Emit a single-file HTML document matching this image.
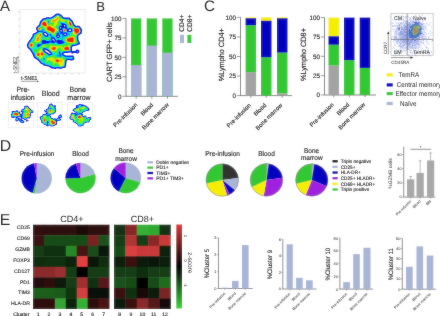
<!DOCTYPE html>
<html><head><meta charset="utf-8"><style>
html,body{margin:0;padding:0;background:#fff;width:440px;height:316px;overflow:hidden}
svg{display:block;will-change:transform}
text{font-family:"Liberation Sans", sans-serif;text-rendering:geometricPrecision}
.s{stroke:#000;stroke-width:0.14px;stroke-opacity:0.8}
.s2{stroke:#000;stroke-width:0.12px;stroke-opacity:0.8}
</style></head><body>
<svg width="440" height="316" viewBox="0 0 440 316">
<defs><filter id="bl" x="-1%" y="-1%" width="102%" height="102%"><feGaussianBlur stdDeviation="0.9"/></filter></defs>
<g id="all">
<rect width="440" height="316" fill="#fff"/>
<text x="0" y="10.8" font-size="15" text-anchor="start" fill="#111">A</text>
<rect x="20" y="9.5" width="65" height="63.5" fill="none" stroke="#dcdcdc" stroke-width="0.5"/>
<path fill="#0808e8" fill-rule="evenodd" d="M60.6 69.1 59.9 69.1 59.4 68.6 58.1 68.6 57.9 68.4 57.6 68.6 56.1 68.6 55.9 68.9 53.9 68.9 53.6 68.6 51.9 68.4 50.6 67.9 50.4 67.4 49.1 67.1 48.6 66.6 47.6 66.6 46.9 66.1 45.4 66.1 45.1 65.9 44.9 66.1 44.4 65.6 43.6 65.4 42.9 64.6 41.1 64.1 39.4 62.1 39.4 61.9 37.4 59.9 35.9 58.9 34.9 58.6 34.1 57.9 31.9 52.9 30.1 50.6 30.4 50.1 29.9 49.6 29.1 49.4 27.1 47.1 27.1 45.6 26.9 45.4 26.9 44.1 27.6 43.4 27.6 42.9 28.1 42.4 28.4 41.6 30.9 38.4 31.4 37.1 31.9 36.9 32.6 35.4 32.4 35.1 32.9 33.9 34.1 32.9 35.1 32.9 35.6 32.6 37.1 31.4 37.1 30.9 36.1 29.4 36.1 27.6 37.6 25.9 38.4 25.6 39.4 23.9 39.4 22.6 39.9 22.4 39.9 21.6 41.9 19.6 41.9 19.1 42.9 18.4 43.4 18.4 43.6 18.1 45.1 18.1 45.4 17.9 45.9 17.9 46.1 17.4 48.1 17.1 48.4 16.9 49.4 17.4 50.6 17.4 51.1 16.9 51.6 16.9 53.9 15.6 54.4 14.9 55.1 14.6 55.4 14.1 56.9 13.4 58.4 13.4 58.6 13.6 59.9 13.9 61.6 15.1 63.1 16.9 64.9 17.6 66.9 17.6 67.1 17.4 67.9 17.4 68.1 17.6 68.6 17.6 68.9 17.4 69.1 17.6 69.6 17.6 69.9 18.1 70.4 18.4 70.4 18.6 70.9 18.9 72.9 21.1 73.4 22.4 73.9 22.9 73.9 23.4 74.4 24.4 75.4 25.6 75.9 25.6 76.1 25.9 76.9 25.9 77.1 25.6 79.6 25.9 82.1 29.6 82.1 30.9 81.9 31.1 81.9 32.6 81.6 32.9 81.6 33.4 78.6 35.6 78.1 36.9 78.4 37.1 78.4 39.4 79.1 41.4 79.9 42.4 79.9 43.6 80.1 43.9 79.4 44.4 77.6 44.9 76.9 45.6 76.1 45.6 75.1 46.1 73.6 46.1 73.4 46.4 72.9 46.1 71.9 47.4 71.9 47.9 72.1 48.1 71.9 48.4 71.9 48.9 72.1 49.1 72.1 51.1 74.4 51.1 74.6 50.9 75.4 50.9 75.6 50.4 76.6 49.6 77.9 49.6 78.6 50.1 79.4 51.1 79.4 52.1 79.1 52.6 77.9 53.6 76.6 53.6 76.1 53.1 73.4 53.1 73.1 53.4 71.6 53.4 71.4 53.1 71.4 52.6 68.9 52.6 68.6 52.9 66.6 52.9 66.4 53.1 65.9 53.1 65.6 52.9 64.4 52.9 63.6 53.4 63.4 53.6 63.6 54.6 64.1 54.6 64.6 55.1 65.1 55.1 65.4 55.4 67.6 55.4 67.9 55.6 71.1 55.6 71.4 55.4 72.1 55.4 72.4 55.6 73.4 55.6 73.9 56.4 73.9 57.4 74.4 58.1 74.6 59.1 73.9 59.6 73.6 60.1 73.1 60.1 72.9 60.4 72.6 60.1 72.4 60.4 71.1 60.4 70.6 60.6 69.6 60.1 67.6 60.1 66.9 60.6 66.6 60.9 66.6 62.1 66.4 62.4 66.1 66.1 65.4 67.6 64.9 68.1 64.1 67.9 63.9 68.1 63.1 68.1 60.6 69.1ZM64.9 26.6 65.4 26.1 65.4 25.6 64.6 25.1 64.1 25.4 64.1 26.4 64.4 26.6 64.9 26.6ZM60.9 28.4 61.1 28.1 61.1 27.4 60.6 27.1 60.1 27.4 60.1 28.1 60.4 28.4 60.9 28.4ZM70.6 30.9 71.1 30.4 71.1 29.9 70.9 29.6 69.6 29.6 68.9 30.1 68.9 30.6 69.1 30.9 70.6 30.9ZM61.4 31.4 61.9 31.1 61.9 30.6 60.9 30.1 60.4 30.6 60.4 31.1 60.6 31.4 61.4 31.4ZM46.9 35.6 47.1 35.4 46.9 34.6 45.9 33.6 45.1 33.1 44.1 33.1 44.1 33.6 45.1 34.9 46.4 35.6 46.9 35.6ZM65.6 34.9 66.1 34.4 65.9 33.9 65.1 33.6 64.4 34.1 64.4 34.6 64.9 34.9 65.6 34.9ZM58.4 36.9 58.9 36.4 58.6 35.9 58.1 35.6 57.6 35.9 57.4 36.4 57.9 36.9 58.4 36.9ZM54.4 41.4 54.6 41.1 54.6 40.6 53.6 38.9 52.9 38.4 52.4 38.4 52.4 39.1 52.9 40.1 54.4 41.4ZM50.6 53.9 50.6 53.6 48.4 51.4 46.9 50.4 44.6 49.4 44.1 49.6 45.6 51.4 48.1 53.1 49.6 53.9 50.6 53.9Z"/>
<path fill="#004cff" fill-rule="evenodd" d="M60.4 67.9 59.6 67.6 57.9 67.3 55.4 67.8 54.4 67.8 52.4 67.3 49.0 65.6 45.1 64.8 43.4 63.7 41.8 63.1 38.1 59.1 35.2 57.4 32.8 52.4 31.7 50.9 31.3 49.6 30.6 48.8 29.4 48.1 28.2 46.6 28.0 44.9 29.4 42.1 32.8 37.4 33.6 35.8 33.8 34.6 34.6 34.0 35.4 33.9 36.1 33.6 37.4 32.7 38.4 31.4 39.4 31.8 40.4 31.6 40.4 31.2 39.9 31.0 38.4 31.1 37.2 28.9 37.2 28.1 37.9 27.1 39.3 26.1 40.3 24.4 41.0 22.1 42.7 20.4 43.1 19.6 44.1 19.2 45.4 19.2 47.6 18.2 49.4 18.5 51.0 18.4 54.4 16.6 56.1 15.1 57.4 14.5 59.4 14.9 61.0 16.1 62.4 17.7 63.7 18.4 64.9 18.7 68.9 18.7 71.8 21.6 73.4 24.9 74.6 26.4 75.9 26.9 77.1 26.9 77.6 26.7 79.1 27.1 81.0 30.1 80.5 32.9 77.8 34.9 77.1 36.6 77.3 39.6 78.8 43.1 77.1 43.9 76.4 44.5 74.6 45.0 72.6 45.1 71.8 45.6 70.8 47.1 71.1 51.4 70.9 51.5 68.9 51.5 66.1 51.9 64.1 51.8 62.9 52.6 62.3 53.4 62.3 54.4 62.7 55.1 64.1 56.1 65.1 56.4 67.1 56.5 67.9 56.7 72.6 56.7 73.3 58.6 72.9 59.1 71.9 59.3 67.6 59.0 66.4 59.7 65.6 60.6 65.0 65.6 64.6 66.6 60.4 67.9ZM62.4 33.4 62.9 32.9 62.7 32.4 62.4 32.1 62.9 31.4 62.9 30.4 62.4 29.6 61.7 29.1 62.4 28.0 65.6 28.7 66.3 29.4 67.0 31.4 67.4 31.5 67.9 31.2 68.9 31.9 70.6 32.0 71.4 31.7 72.2 30.6 72.1 29.4 71.1 28.6 69.6 28.5 67.9 29.4 66.3 26.9 66.4 25.4 65.6 24.3 64.9 24.0 63.9 24.3 63.0 23.4 61.6 23.3 61.4 23.6 62.1 25.1 61.9 26.5 60.6 26.0 59.6 26.4 59.1 27.1 59.0 28.1 59.3 28.9 60.0 29.4 59.3 30.4 59.4 31.6 60.1 32.3 61.3 32.6 61.1 33.1 61.4 33.4 62.4 33.4ZM47.3 36.6 48.2 35.6 48.2 34.9 47.7 33.9 46.6 32.8 45.4 32.1 43.9 32.1 43.4 32.3 43.1 32.9 43.1 33.9 43.8 35.1 45.9 36.6 47.3 36.6ZM66.0 35.9 67.1 34.9 67.1 33.6 66.6 33.1 65.6 32.6 64.9 32.6 64.1 32.9 63.3 33.9 63.4 35.1 64.6 35.9 66.0 35.9ZM58.8 37.9 59.8 36.9 59.9 36.1 59.4 35.1 58.0 34.4 58.4 33.9 58.4 33.4 57.9 33.0 57.4 33.0 56.8 33.4 56.8 33.9 57.1 34.3 57.7 34.6 56.4 35.6 56.3 36.6 57.4 37.8 58.8 37.9ZM53.4 42.9 53.9 42.5 54.9 42.3 55.4 41.9 55.7 41.4 55.7 40.4 54.1 37.8 53.1 37.3 52.1 37.3 51.6 37.5 51.4 38.0 51.3 39.4 52.6 41.6 51.6 41.8 51.3 42.1 52.1 42.9 52.9 43.0 53.4 42.9ZM60.1 44.1 63.1 43.1 63.7 42.6 63.7 42.1 61.9 40.4 60.1 40.2 58.6 39.6 57.6 39.8 56.7 40.9 56.5 41.9 58.1 43.9 59.1 44.3 60.1 44.1ZM44.9 43.9 46.4 43.4 48.4 43.4 49.5 42.4 49.7 41.6 48.9 41.1 46.9 40.9 45.1 40.3 42.1 40.5 41.8 41.4 42.0 43.9 43.9 44.0 44.9 43.9ZM38.2 46.9 39.7 46.1 40.8 44.9 38.6 44.2 38.1 44.3 37.4 45.1 37.1 46.1 37.4 46.7 38.2 46.9ZM51.0 54.9 51.7 54.1 51.6 53.1 49.1 50.6 47.4 49.4 44.9 48.3 44.0 48.4 43.3 48.9 43.1 49.4 43.2 50.1 43.6 50.9 44.9 52.2 47.6 54.1 49.1 54.8 51.0 54.9ZM77.6 52.4 77.1 52.5 75.8 51.9 76.8 50.9 77.4 50.7 77.9 50.9 78.3 51.6 77.6 52.4ZM60.1 53.9 60.1 52.6 59.4 51.6 59.0 52.1 59.1 53.2 59.6 53.9 60.1 53.9Z"/>
<path fill="#0084ff" fill-rule="evenodd" d="M60.9 67.5 60.4 67.6 57.9 67.0 54.4 67.5 51.6 66.8 51.1 66.3 50.1 66.0 49.1 65.4 45.1 64.5 43.4 63.4 41.9 62.9 40.4 61.0 38.3 58.9 35.4 57.1 33.0 52.1 31.7 50.4 31.5 49.4 30.6 48.5 29.6 48.0 28.5 46.6 28.2 44.9 29.8 42.1 33.0 37.6 33.9 35.9 34.0 34.9 34.6 34.3 36.4 33.7 38.4 31.9 39.6 32.1 41.4 31.9 42.4 32.1 42.6 31.9 42.6 31.4 42.4 31.2 41.4 31.2 40.1 30.8 38.6 30.8 37.5 28.9 37.5 28.4 38.1 27.3 39.5 26.4 40.6 24.4 41.3 22.1 42.9 20.5 43.2 19.9 44.1 19.5 45.6 19.4 47.6 18.5 49.4 18.7 51.1 18.6 54.6 16.7 56.4 15.2 57.6 14.7 59.4 15.3 60.9 16.4 62.4 18.0 63.6 18.6 64.9 19.0 68.9 19.0 71.5 21.6 73.3 25.1 74.5 26.6 75.9 27.2 77.6 27.0 78.9 27.2 80.8 30.4 80.3 32.6 77.6 34.7 76.8 36.6 77.0 39.6 77.6 41.4 78.5 42.9 78.4 43.1 76.9 43.8 76.4 44.2 74.6 44.8 72.6 44.8 71.6 45.5 70.5 47.1 70.5 48.9 70.8 49.9 70.6 51.3 66.1 51.6 64.1 51.5 62.7 52.4 62.0 53.4 62.0 54.4 62.5 55.4 64.1 56.4 65.1 56.7 67.1 56.7 67.9 57.0 72.4 57.0 73.0 58.6 71.9 59.0 70.9 59.0 69.6 58.8 67.4 58.8 66.1 59.5 65.3 60.6 64.8 65.6 64.4 66.4 60.9 67.5ZM48.8 22.4 48.7 21.6 48.1 21.6 48.1 22.4 48.6 22.6 48.8 22.4ZM66.1 36.1 67.4 34.9 67.4 33.6 66.6 32.8 65.6 32.3 64.9 32.3 63.5 32.9 63.0 32.1 63.1 30.1 62.1 29.1 62.4 28.6 62.6 28.4 63.9 28.4 65.4 28.7 66.3 29.6 66.9 31.7 67.4 31.9 67.9 31.6 69.1 32.2 70.9 32.2 71.5 31.9 72.4 30.9 72.4 29.4 71.6 28.5 70.9 28.3 69.4 28.3 67.9 29.1 66.6 27.1 66.7 25.4 65.8 24.1 65.1 23.8 64.1 23.8 63.1 23.1 61.4 22.9 60.9 23.4 61.6 24.9 61.6 25.9 60.1 25.9 59.2 26.4 58.8 27.1 58.9 28.6 59.5 29.4 59.0 30.4 59.1 31.6 60.9 33.6 62.1 34.2 62.9 33.9 63.1 35.1 63.6 35.7 64.6 36.2 66.1 36.1ZM47.4 36.9 48.1 36.3 48.5 35.6 48.4 34.6 47.9 33.7 45.6 31.9 43.9 31.8 43.2 32.1 42.8 32.9 42.8 33.9 43.6 35.3 45.9 36.9 47.4 36.9ZM58.9 38.1 60.0 37.1 60.2 36.1 59.6 35.0 58.6 34.4 58.8 33.1 58.1 32.7 57.4 32.7 56.5 33.4 56.5 34.1 56.9 34.6 56.1 35.6 56.0 36.6 56.4 37.3 57.4 38.1 58.9 38.1ZM51.3 35.4 51.3 34.6 50.9 34.1 50.4 33.9 49.9 34.1 49.7 34.6 50.1 35.1 51.1 35.6 51.3 35.4ZM37.9 47.1 39.4 46.6 42.1 44.4 44.6 44.1 46.4 43.5 48.4 43.6 50.1 42.2 50.6 42.3 51.9 43.1 52.9 43.4 55.1 42.5 55.9 41.6 57.9 44.0 59.4 44.4 63.2 43.4 64.1 42.9 64.5 42.4 62.1 40.2 60.1 40.1 58.4 39.5 57.2 39.9 56.1 41.4 55.9 40.1 54.6 38.0 53.4 37.1 52.4 37.0 51.6 36.4 51.4 36.4 51.0 37.4 51.0 39.1 51.9 41.2 50.9 40.9 49.9 41.1 46.9 40.7 45.1 40.1 42.1 40.2 41.6 40.9 41.7 42.9 41.3 43.9 40.1 44.4 38.1 43.9 37.4 44.8 37.0 45.6 36.9 46.4 37.2 46.9 37.9 47.1ZM51.1 55.1 51.9 54.4 51.9 53.1 49.1 50.3 47.4 49.1 44.9 48.0 43.9 48.1 43.0 48.9 42.8 49.6 43.1 50.6 44.9 52.5 47.4 54.2 49.1 55.1 51.1 55.1ZM77.4 52.3 76.5 51.6 77.1 51.0 77.6 51.1 78.0 51.6 77.4 52.3ZM61.0 56.6 61.1 55.9 60.3 52.6 59.9 51.6 59.1 51.2 58.8 51.6 58.8 52.6 59.0 53.6 59.8 54.9 59.7 56.1 60.4 56.8 61.0 56.6ZM44.2 59.1 44.1 58.9 43.8 58.9 43.9 59.2 44.2 59.1Z"/>
<path fill="#00b4fb" fill-rule="evenodd" d="M60.9 67.2 60.4 67.3 57.9 66.8 54.6 67.3 51.9 66.5 51.1 65.9 50.1 65.7 49.1 65.1 45.1 64.2 44.2 63.6 44.1 63.1 43.9 63.3 42.1 62.7 38.4 58.6 35.6 57.0 34.6 54.6 34.9 53.9 34.8 53.4 33.6 52.7 32.2 50.6 31.6 49.1 29.2 47.1 28.7 46.4 28.6 44.9 29.9 42.4 30.9 41.2 31.4 41.0 31.2 40.6 33.3 37.6 34.2 35.9 34.4 34.9 34.9 34.5 36.4 34.1 38.6 32.2 41.1 32.2 42.5 32.6 42.6 34.1 43.3 35.4 44.1 36.2 45.8 37.1 47.4 37.2 48.4 36.4 48.7 35.6 48.7 34.6 48.2 33.6 46.9 32.4 45.4 31.5 43.3 31.6 43.4 29.3 42.9 29.2 42.1 30.3 41.6 30.6 38.9 30.5 37.9 29.1 37.8 28.1 38.4 27.4 39.7 26.6 40.8 24.6 41.6 22.2 43.6 20.0 45.6 19.7 47.9 18.7 49.4 19.0 51.1 18.9 54.6 17.1 56.6 15.4 57.6 15.0 59.1 15.4 60.6 16.6 62.1 18.2 63.6 18.9 64.6 19.2 67.6 19.2 68.8 19.4 71.3 21.9 72.9 25.1 74.3 26.9 75.9 27.5 77.6 27.3 78.6 27.5 79.1 27.9 80.4 30.4 80.0 32.6 77.4 34.6 76.5 36.6 76.8 39.9 77.4 41.6 78.2 42.9 76.1 44.0 74.4 44.5 72.4 44.6 71.4 45.3 70.3 47.1 70.3 49.1 70.5 49.9 70.4 51.0 63.9 51.3 62.6 52.1 61.8 53.1 61.8 54.4 62.2 55.4 62.6 55.9 63.9 56.6 65.1 57.0 66.9 57.0 67.9 57.2 71.9 57.2 72.3 57.4 72.6 58.4 71.6 58.8 67.4 58.5 65.9 59.3 65.1 60.4 64.5 65.4 64.2 66.1 60.9 67.2ZM48.9 22.9 49.1 21.6 48.9 21.3 48.4 21.1 47.8 21.6 47.8 22.4 48.4 23.0 48.9 22.9ZM59.0 38.4 60.1 37.4 60.5 36.6 60.1 35.1 59.0 34.1 59.6 33.5 61.2 34.1 62.3 35.1 62.4 35.9 62.0 37.4 62.4 38.1 63.1 37.4 63.4 36.1 64.6 36.5 66.1 36.4 66.9 35.9 67.7 34.9 67.6 33.5 66.6 32.4 65.1 32.0 63.6 32.5 63.3 32.1 63.5 30.4 62.6 29.0 62.7 28.6 64.4 28.5 65.4 28.8 66.2 29.6 66.9 32.1 67.4 32.3 67.9 32.0 69.1 32.5 71.1 32.4 72.4 31.4 72.7 30.4 72.4 28.9 71.6 28.2 70.9 28.0 69.1 28.1 67.9 28.8 66.8 27.1 67.0 26.4 66.9 25.1 65.9 23.9 64.4 23.5 63.4 22.9 61.6 22.6 60.6 22.7 60.4 23.1 61.3 25.4 59.4 25.9 58.8 26.4 58.5 27.1 58.6 28.6 59.1 29.4 58.8 30.4 58.8 31.4 59.6 32.6 59.4 32.9 57.6 32.4 56.6 32.8 56.2 33.6 56.5 34.6 55.8 35.9 55.9 37.1 56.9 38.2 57.6 38.5 59.0 38.4ZM38.8 47.1 42.4 44.5 44.6 44.2 46.4 43.7 48.4 43.8 50.1 42.6 50.6 42.7 52.4 43.6 53.1 43.6 55.9 42.3 56.6 42.7 57.7 44.1 59.4 44.6 63.6 43.5 64.6 42.8 64.9 42.1 63.4 41.1 62.1 39.8 60.4 40.0 58.1 39.3 57.3 39.6 56.4 40.6 54.9 37.8 54.1 37.2 52.5 36.6 51.3 34.1 50.6 33.6 50.1 33.6 49.6 33.9 49.3 34.6 49.5 35.1 50.5 35.9 50.7 36.4 50.6 39.4 50.1 40.3 49.4 40.7 47.4 40.6 45.4 40.0 42.1 39.9 41.4 40.9 41.5 42.9 41.1 43.6 40.6 44.0 39.9 44.1 38.1 43.5 37.6 43.9 36.8 45.4 36.6 46.4 37.1 47.1 37.9 47.4 38.8 47.1ZM69.4 34.6 69.6 34.4 69.4 34.1 68.9 33.8 68.4 33.9 68.3 34.4 68.5 34.6 69.4 34.6ZM42.5 37.6 42.6 37.4 42.4 37.2 41.9 37.6 42.1 37.8 42.5 37.6ZM49.0 55.6 51.1 55.4 51.9 54.9 52.3 54.1 51.9 52.6 49.4 50.1 47.6 48.9 44.9 47.8 44.1 47.8 43.4 48.1 42.5 49.4 42.6 50.1 43.1 51.1 44.6 52.7 48.0 54.9 48.4 55.7 49.0 55.6ZM61.2 56.9 61.4 56.1 61.2 54.1 60.0 51.4 59.4 50.8 58.9 50.7 58.6 51.1 58.5 51.9 59.1 55.1 58.6 55.6 56.9 55.3 56.6 55.6 56.6 56.0 57.4 56.4 58.9 56.2 60.4 57.1 61.2 56.9ZM77.4 51.9 76.9 51.6 77.1 51.3 77.7 51.6 77.4 51.9ZM44.6 60.1 44.8 59.4 44.6 58.8 44.1 58.2 43.6 58.1 43.2 58.6 43.4 59.4 44.1 60.3 44.6 60.1Z"/>
<path fill="#00dcf4" fill-rule="evenodd" d="M60.9 67.0 60.4 67.1 57.9 66.5 54.6 67.0 51.9 66.3 51.1 65.7 50.1 65.5 49.1 64.9 44.9 63.9 44.7 63.6 44.8 62.9 44.4 62.2 43.6 62.9 42.4 62.6 38.6 58.5 35.7 56.6 34.9 54.9 35.3 53.9 35.2 53.1 33.7 52.4 32.3 50.4 31.9 49.1 29.5 47.1 29.0 46.4 28.8 44.9 30.9 41.5 32.1 41.1 32.1 40.8 31.7 40.4 33.5 37.6 34.4 35.9 34.5 35.1 34.9 34.7 36.6 34.2 38.6 32.4 40.9 32.4 42.1 32.7 42.3 32.9 42.4 34.1 43.1 35.4 44.1 36.4 45.9 37.4 47.1 37.4 47.9 37.1 48.7 36.4 49.1 35.0 50.4 36.4 50.4 38.9 49.9 40.1 49.1 40.5 47.1 40.5 45.4 39.9 43.6 40.0 42.4 39.6 41.9 39.8 41.3 40.9 41.3 42.9 40.8 43.6 39.9 43.9 38.1 43.3 37.6 43.6 36.4 46.1 36.5 46.9 37.1 47.4 37.9 47.6 39.1 47.2 42.6 44.6 44.6 44.3 46.4 43.8 48.4 43.9 50.1 42.8 53.1 43.9 55.9 42.6 56.6 43.0 57.6 44.3 59.4 44.7 63.4 43.8 64.9 42.9 65.2 42.4 65.0 41.9 63.4 40.8 62.5 39.1 63.4 37.9 63.7 36.6 63.9 36.4 64.6 36.7 66.1 36.6 66.9 36.2 67.9 34.9 68.4 35.1 70.0 34.9 70.2 34.6 70.0 34.1 68.6 33.3 67.9 33.6 67.3 32.6 68.1 32.4 69.1 32.7 71.4 32.5 72.6 31.4 73.0 30.4 72.7 28.9 71.6 28.0 69.4 27.8 67.9 28.5 67.6 28.4 66.9 27.1 67.2 26.1 67.0 24.9 65.6 23.5 63.0 22.6 60.9 22.4 59.9 22.6 61.0 25.1 59.1 25.8 58.4 26.9 58.3 28.4 58.8 29.6 58.5 30.6 58.8 32.1 58.6 32.3 57.1 32.3 56.4 32.8 56.1 33.4 56.3 34.6 55.6 35.6 55.6 36.9 56.1 37.7 57.4 38.6 59.1 38.5 60.5 37.1 60.7 36.4 60.5 35.6 59.4 34.0 59.9 33.8 60.4 33.9 61.8 34.9 62.0 35.6 61.7 37.6 62.0 39.1 60.6 39.8 58.1 39.2 56.4 40.1 55.7 38.6 54.6 37.3 52.6 36.4 51.7 34.4 51.0 33.6 49.9 33.4 48.9 34.6 48.2 33.4 46.1 31.6 45.4 31.3 43.6 31.3 43.8 29.4 43.4 28.7 42.6 28.9 41.4 30.3 39.4 30.5 38.9 30.4 38.0 28.6 38.2 27.9 39.9 26.6 41.0 24.6 41.7 22.4 43.6 20.2 45.6 19.9 47.9 19.0 49.4 19.2 51.1 19.1 54.9 17.2 56.6 15.7 57.6 15.2 58.9 15.5 59.8 16.1 62.1 18.4 63.4 19.0 64.6 19.4 68.6 19.5 71.1 22.0 72.8 25.4 74.1 27.0 75.9 27.7 77.6 27.5 78.6 27.7 80.2 30.4 79.9 32.4 77.3 34.4 76.3 36.6 76.6 39.9 77.8 42.6 76.1 43.8 74.4 44.3 72.4 44.4 71.3 45.1 70.3 46.4 70.1 47.1 70.1 49.1 70.3 49.9 70.1 50.8 63.9 51.1 62.0 52.4 61.4 54.0 59.9 51.0 59.1 50.4 58.5 50.6 58.4 51.4 58.7 54.6 58.4 55.0 56.5 55.1 56.2 55.6 56.5 56.4 57.1 56.7 58.9 56.5 60.1 57.2 60.9 57.2 61.5 56.6 61.6 54.7 62.6 56.1 64.9 57.1 65.4 57.9 66.8 58.4 65.3 59.6 64.9 60.4 64.1 65.9 60.9 67.0ZM49.1 23.1 49.3 22.4 49.2 21.4 48.9 21.0 48.4 20.9 47.6 21.6 47.6 22.3 48.4 23.2 49.1 23.1ZM63.9 32.2 63.5 32.1 63.6 30.1 62.8 28.9 63.9 28.6 65.1 28.7 65.7 29.1 66.2 29.9 66.5 31.9 66.4 32.1 64.9 31.8 63.9 32.2ZM58.9 32.4 58.9 32.3 58.9 32.4ZM42.4 38.1 43.0 37.4 43.1 36.9 42.4 36.9 41.6 37.4 41.9 38.1 42.4 38.1ZM49.2 55.9 51.6 55.4 53.5 53.9 53.7 53.4 52.6 53.4 52.0 52.4 49.6 50.0 47.6 48.7 44.9 47.6 43.3 47.9 42.6 48.6 42.3 49.4 42.4 50.1 42.9 51.2 44.6 52.9 47.6 54.9 48.1 55.9 48.6 56.1 49.2 55.9ZM33.9 48.6 34.4 48.1 34.4 47.8 33.9 47.9 33.4 48.6 33.9 48.6ZM77.4 51.7 77.2 51.6 77.4 51.5 77.4 51.7ZM71.9 58.5 70.6 58.6 69.9 58.3 67.6 58.2 66.7 57.4 71.9 57.4 72.2 58.1 71.9 58.5ZM44.6 60.9 45.0 59.9 44.9 58.9 44.4 58.0 43.6 57.8 43.1 58.4 43.0 59.1 44.1 60.9 44.4 61.1 44.6 60.9ZM50.1 63.1 49.8 62.6 49.4 62.6 49.2 62.9 49.6 63.3 50.1 63.1Z"/>
<path fill="#04f0d8" fill-rule="evenodd" d="M61.1 66.7 60.4 66.9 57.9 66.4 54.6 66.9 52.1 66.2 51.4 65.6 50.4 65.4 49.1 64.7 45.4 63.9 45.1 63.6 44.8 61.6 45.2 59.1 44.8 58.1 44.1 57.4 43.2 57.9 42.8 58.9 43.8 61.1 43.9 61.9 43.4 62.7 42.4 62.3 38.7 58.4 35.9 56.6 35.2 55.1 35.6 53.4 35.5 52.9 33.9 52.2 32.5 50.4 32.0 48.9 29.6 47.0 29.1 46.1 29.0 44.9 30.9 41.9 32.5 41.1 32.6 40.6 32.1 40.1 32.9 38.9 33.8 38.9 33.7 37.9 34.5 36.1 34.7 35.1 36.7 34.4 38.8 32.6 40.4 32.5 42.1 32.9 42.2 34.4 43.5 36.1 41.4 37.4 41.4 37.9 41.9 38.5 42.4 38.5 43.9 36.5 45.9 37.6 47.2 37.6 48.2 37.1 48.9 36.4 49.1 35.7 49.4 35.6 50.2 36.6 50.1 39.1 49.5 40.1 48.4 40.4 47.1 40.4 45.4 39.7 43.6 39.8 42.1 39.3 41.3 40.6 41.1 42.9 40.6 43.5 39.9 43.7 38.1 43.1 37.4 43.6 36.1 46.4 36.3 47.1 37.1 47.7 38.1 47.7 39.4 47.2 42.6 44.7 46.4 43.9 48.4 44.1 50.1 43.0 53.1 44.1 55.9 42.8 56.4 43.1 57.2 44.4 59.4 44.8 63.4 43.9 65.1 42.9 65.4 42.4 65.3 41.9 63.6 40.7 63.1 39.6 63.8 37.9 63.9 36.9 65.9 36.9 66.9 36.5 67.4 36.6 68.4 35.6 70.6 34.9 70.6 34.4 68.9 33.1 69.1 32.9 71.0 32.9 71.7 32.6 72.9 31.4 73.1 30.4 72.9 28.8 71.6 27.7 69.3 27.6 67.6 28.2 67.1 27.4 67.4 26.4 67.3 24.9 65.9 23.4 63.4 22.6 60.1 22.1 59.3 22.4 59.4 22.9 60.8 24.9 59.1 25.6 58.4 26.3 58.1 28.1 58.6 29.6 58.4 30.4 58.5 31.9 57.1 32.1 56.2 32.9 55.9 33.6 56.0 34.6 55.4 35.8 55.4 36.9 55.8 37.6 56.8 38.6 58.0 39.1 57.4 39.3 56.6 40.0 54.7 37.1 52.7 36.1 51.9 34.4 51.1 33.6 49.9 33.2 48.9 34.1 48.5 33.4 47.2 32.1 46.2 31.4 45.5 31.1 44.1 31.1 43.9 30.9 44.0 29.1 43.6 28.4 42.6 28.6 41.1 30.1 39.4 30.4 39.1 30.4 38.1 28.6 38.5 27.9 40.0 26.9 41.3 24.6 42.0 22.4 43.8 20.4 45.6 20.1 47.9 19.1 49.4 19.4 51.4 19.3 54.9 17.4 57.6 15.4 58.6 15.6 59.6 16.3 61.9 18.5 63.4 19.3 64.6 19.6 68.6 19.7 71.0 22.1 72.6 25.4 74.0 27.1 75.8 27.9 77.6 27.8 78.6 28.0 80.0 30.4 79.6 32.3 77.1 34.3 76.2 36.4 76.4 39.9 77.5 42.6 76.1 43.5 74.4 44.1 72.1 44.2 71.1 45.0 69.9 46.9 69.9 49.1 70.1 50.4 69.9 50.6 63.9 50.9 62.3 51.9 61.6 52.6 61.4 53.3 61.1 53.3 59.9 50.7 58.9 50.1 58.3 50.4 58.4 54.4 58.1 54.6 56.6 54.7 56.1 55.0 56.0 55.9 56.4 56.6 57.1 56.9 58.9 56.8 60.9 57.4 61.6 56.9 61.9 55.7 62.6 56.4 64.6 57.3 65.1 58.2 66.2 58.6 65.1 59.5 64.7 60.4 64.1 65.4 63.9 65.8 61.1 66.7ZM49.2 23.4 49.5 22.6 49.4 21.3 48.9 20.7 48.4 20.7 47.6 21.4 47.5 22.4 48.4 23.4 48.9 23.6 49.2 23.4ZM63.9 32.0 63.8 30.1 63.0 28.9 63.9 28.6 65.1 28.8 66.2 29.9 66.3 31.6 64.8 31.6 63.9 32.0ZM68.6 32.9 68.8 32.9 68.6 32.9ZM60.6 39.6 58.4 39.1 59.7 38.4 60.8 36.9 60.8 35.6 60.2 34.6 59.7 34.1 59.9 34.1 61.3 34.6 61.8 35.6 61.4 37.6 61.5 38.9 61.2 39.4 60.6 39.6ZM33.5 49.1 34.8 48.4 35.1 47.6 34.9 47.1 34.1 47.2 32.9 48.4 32.8 48.9 33.5 49.1ZM48.7 56.4 49.6 55.9 51.7 55.6 54.4 53.7 54.5 52.9 53.9 52.7 52.6 53.1 52.1 52.3 49.6 49.8 46.1 47.7 44.6 47.4 43.3 47.6 42.5 48.4 42.2 49.1 42.2 50.1 42.6 51.2 44.4 53.0 47.5 55.1 47.9 56.1 48.7 56.4ZM45.2 56.1 45.1 55.8 44.8 56.1 44.9 56.3 45.2 56.1ZM71.9 58.2 70.6 58.4 70.0 58.1 68.1 58.1 67.7 57.9 68.1 57.7 71.6 57.6 71.9 57.7 71.9 58.2ZM50.1 63.6 50.6 63.1 50.4 62.6 49.6 62.2 49.1 62.4 48.8 62.9 48.9 63.4 49.4 63.7 50.1 63.6Z"/>
<path fill="#0cf0a8" fill-rule="evenodd" d="M60.6 66.7 57.9 66.2 54.6 66.7 52.1 66.1 51.2 65.4 50.4 65.2 49.4 64.6 48.4 64.5 47.6 64.1 46.1 64.0 45.4 63.6 45.1 61.6 45.5 59.4 44.8 57.4 45.9 56.1 45.8 55.6 45.4 55.4 44.6 55.6 42.7 58.4 42.6 59.3 43.5 60.9 43.6 61.6 43.3 62.4 42.6 62.3 38.7 58.1 35.9 56.4 35.5 55.4 35.9 52.9 35.4 52.4 33.9 52.0 32.5 49.9 32.6 49.3 33.4 49.4 34.7 48.9 35.4 48.4 35.9 47.6 37.4 48.0 39.4 47.5 42.6 44.8 46.4 44.0 48.4 44.3 50.1 43.2 50.9 43.3 52.4 44.2 53.1 44.3 55.9 43.1 56.3 43.4 56.6 44.4 56.9 44.6 59.4 45.0 63.6 44.1 65.4 42.9 65.6 42.4 65.4 41.7 63.8 40.6 63.5 39.9 63.6 39.1 64.2 38.1 64.2 37.1 67.4 37.0 68.9 35.6 70.9 35.1 71.0 34.4 69.2 33.1 70.9 33.0 71.9 32.7 72.9 31.6 73.3 30.4 72.9 28.6 71.6 27.5 69.4 27.5 67.9 28.1 67.6 28.0 67.3 27.4 67.5 26.1 67.4 24.9 66.9 24.1 65.8 23.1 63.9 22.5 60.1 21.9 59.4 21.9 59.0 22.1 59.0 22.9 60.1 24.0 60.6 24.9 58.9 25.6 58.0 26.6 58.0 28.4 58.4 29.6 58.3 31.6 58.1 31.8 56.9 32.1 56.0 32.9 55.7 33.6 55.8 34.6 55.2 35.9 55.3 37.1 55.1 37.3 54.3 36.6 52.9 36.1 51.9 34.1 50.9 33.3 49.9 33.0 48.9 33.7 47.4 32.1 46.4 31.3 44.1 30.9 44.2 29.1 43.9 28.3 43.4 28.1 42.6 28.3 41.0 29.9 39.4 30.3 38.3 28.6 38.6 27.9 40.2 26.9 41.4 24.7 42.0 22.6 43.9 20.5 46.0 20.1 47.9 19.3 49.4 19.5 51.5 19.4 55.1 17.4 57.6 15.5 58.6 15.8 59.6 16.4 61.8 18.6 63.3 19.4 64.6 19.7 67.6 19.7 68.6 19.9 70.8 22.1 72.6 25.6 74.1 27.4 75.9 28.0 78.4 28.0 79.8 30.4 79.6 32.1 76.9 34.3 76.1 36.1 76.3 40.1 77.3 42.6 75.9 43.5 74.4 44.0 72.1 44.1 70.9 45.1 69.8 46.6 69.9 50.5 63.5 50.9 62.3 51.6 61.1 53.0 60.4 51.1 59.4 50.0 58.6 49.7 58.1 50.2 58.1 54.1 57.6 54.4 55.9 54.6 55.7 55.6 56.1 56.7 56.9 57.0 58.9 57.0 60.9 57.5 61.6 57.1 61.9 56.3 62.1 56.2 64.4 57.4 64.6 58.2 65.5 58.9 64.6 60.1 63.8 65.6 60.6 66.7ZM49.3 23.6 49.6 22.9 49.6 21.4 49.2 20.6 48.6 20.4 47.5 21.1 47.3 22.1 47.6 22.9 48.4 23.7 48.9 23.8 49.3 23.6ZM64.1 31.7 63.9 29.7 63.2 28.9 63.6 28.7 65.4 29.0 66.0 29.6 66.3 30.4 66.1 31.6 65.1 31.5 64.1 31.7ZM32.1 48.8 29.7 46.9 29.3 46.1 29.2 44.9 30.4 42.6 31.1 41.9 32.7 41.4 33.4 40.1 34.1 39.4 34.4 38.6 34.0 37.4 34.7 36.1 34.8 35.4 35.1 35.0 36.0 34.9 36.9 34.4 38.9 32.8 40.6 32.6 41.8 32.9 42.0 33.1 42.1 34.5 43.1 35.9 43.0 36.1 41.2 37.4 41.2 37.9 41.8 39.1 41.1 40.9 40.7 43.1 39.9 43.5 38.4 42.9 37.6 43.0 35.6 46.3 34.4 46.7 32.1 48.8ZM60.4 34.5 60.4 34.3 60.6 34.4 60.4 34.5ZM60.6 39.4 59.0 39.1 60.4 37.9 61.0 37.1 60.9 35.6 60.4 34.6 60.6 34.4 61.4 35.1 61.6 35.9 61.2 38.9 60.6 39.4ZM48.9 40.2 47.1 40.2 45.4 39.6 43.6 39.7 42.8 39.4 42.5 38.9 44.1 36.9 45.6 37.7 47.1 37.8 48.2 37.4 49.4 35.9 49.9 36.6 49.9 38.6 49.6 39.7 48.9 40.2ZM55.4 37.5 55.4 37.3 55.4 37.5ZM55.6 38.0 55.6 37.7 55.6 38.0ZM55.9 38.3 55.7 38.1 55.9 37.9 56.1 38.1 55.9 38.3ZM56.6 39.7 55.9 38.4 56.1 38.2 57.5 39.1 56.6 39.7ZM49.4 56.4 49.9 56.1 51.5 55.9 54.6 54.1 55.0 53.6 54.8 52.6 54.1 52.3 52.6 52.7 49.7 49.6 46.3 47.6 44.6 47.2 43.1 47.6 42.3 48.4 42.0 49.4 42.1 50.5 42.6 51.4 44.3 53.1 47.2 55.1 47.4 55.9 47.7 56.4 48.4 56.6 49.4 56.4ZM32.4 49.2 32.4 49.2ZM71.6 58.2 68.1 57.9 71.6 57.7 71.8 57.9 71.6 58.2ZM50.1 63.9 50.9 63.5 50.9 62.9 49.9 62.0 49.1 62.0 48.6 62.6 48.5 63.4 49.1 63.9 50.1 63.9ZM57.0 65.4 57.3 64.9 57.1 64.5 56.6 64.3 56.4 64.5 56.4 65.0 56.6 65.4 57.0 65.4Z"/>
<path fill="#18ec78" fill-rule="evenodd" d="M54.9 66.6 52.1 66.0 51.4 65.4 50.1 65.0 49.4 64.5 45.7 63.6 45.3 61.9 45.6 59.4 45.3 57.6 46.6 55.9 45.7 55.1 45.1 55.1 44.4 55.5 42.5 58.4 42.4 59.4 43.4 61.4 43.1 62.3 42.6 62.2 38.7 58.1 36.0 56.4 35.7 55.4 36.1 52.6 35.6 52.2 33.9 51.8 32.8 50.4 32.6 49.6 33.4 49.7 35.1 49.0 36.4 48.9 37.3 48.4 39.1 47.8 39.9 47.4 42.4 45.1 46.1 44.2 48.4 44.5 49.9 43.5 50.4 43.3 52.4 44.4 53.1 44.6 55.6 43.5 55.9 43.6 55.9 44.6 56.1 44.9 59.6 45.1 63.6 44.3 65.6 42.9 65.8 42.4 65.5 41.6 64.2 40.6 63.8 39.9 63.9 39.3 64.8 38.1 64.7 37.4 66.1 37.1 66.6 37.3 67.4 37.2 69.0 35.9 71.1 35.3 71.4 34.9 71.3 34.4 69.9 33.4 72.1 32.6 73.1 31.4 73.4 30.4 73.2 28.9 71.9 27.5 69.6 27.3 67.7 27.9 67.5 27.4 67.7 25.6 67.5 24.6 65.9 23.1 64.1 22.4 59.9 21.6 58.9 21.9 58.6 22.4 58.8 22.9 60.0 24.1 60.3 24.9 59.1 25.4 57.4 26.9 58.3 29.6 58.2 31.6 56.9 31.9 55.8 32.9 55.7 34.6 55.1 35.9 55.1 37.2 54.4 36.6 53.1 36.1 52.0 34.1 50.9 33.1 49.9 32.9 48.9 33.5 47.3 31.9 46.2 31.1 44.6 30.8 44.4 30.6 44.3 28.6 43.9 28.0 43.1 27.9 42.1 28.3 40.9 29.7 39.6 30.2 39.2 30.1 38.4 28.6 38.6 28.0 40.2 26.9 41.4 24.9 42.1 22.6 44.1 20.5 46.1 20.1 47.9 19.4 50.6 19.6 51.6 19.4 54.9 17.6 57.6 15.6 58.6 15.9 59.6 16.5 61.8 18.6 63.1 19.4 64.9 19.9 67.6 19.8 68.6 20.0 70.7 22.1 72.4 25.4 74.0 27.4 75.9 28.1 77.6 28.0 78.4 28.1 79.8 30.4 79.5 32.1 76.9 34.3 75.9 36.6 76.2 39.6 77.1 42.6 75.9 43.4 74.9 43.7 71.9 44.1 70.9 45.0 69.9 46.4 69.7 47.1 69.9 50.4 63.6 50.8 62.3 51.6 61.1 52.7 60.2 50.6 59.1 49.4 58.6 49.3 58.1 49.7 57.8 50.4 58.1 53.6 57.7 54.1 57.1 54.2 55.7 53.9 55.1 52.5 54.6 52.1 52.6 52.5 49.8 49.6 47.6 48.1 47.4 47.8 44.9 47.1 44.1 47.1 42.9 47.6 42.1 48.6 41.9 49.9 42.4 51.2 44.2 53.1 46.7 54.9 46.9 55.1 46.7 55.9 47.6 56.7 49.1 56.7 50.1 56.2 51.6 55.9 53.9 54.7 54.9 54.5 55.3 54.9 55.9 56.8 56.4 57.2 58.6 57.1 60.2 57.6 61.1 57.6 61.8 57.1 62.1 56.3 64.2 57.4 64.4 58.4 65.2 59.1 64.6 59.9 64.4 60.6 63.7 65.6 60.6 66.6 57.9 66.1 54.9 66.6ZM49.4 23.9 49.8 22.9 49.7 21.4 49.4 20.4 48.9 20.1 47.6 20.9 47.2 21.4 47.2 22.1 47.6 23.1 48.4 23.9 48.9 24.1 49.4 23.9ZM66.1 31.5 64.1 31.4 64.0 29.9 63.4 28.9 65.1 28.9 65.6 29.2 66.2 30.4 66.1 31.5ZM32.1 48.5 29.8 46.9 29.4 46.1 29.3 44.9 30.5 42.6 31.1 42.0 32.8 41.6 34.4 39.5 34.6 38.6 34.4 37.1 34.9 35.4 36.6 34.6 38.9 33.0 40.6 32.7 41.6 33.0 42.1 34.6 42.9 35.9 41.1 37.4 41.5 39.1 40.6 42.9 39.9 43.3 38.4 42.7 37.5 42.9 35.9 45.4 34.4 46.2 32.1 48.5ZM60.6 34.7 60.6 34.7ZM61.4 36.2 60.8 35.1 60.9 34.8 61.3 35.4 61.4 36.2ZM48.4 40.1 47.1 40.1 45.6 39.4 43.6 39.6 42.9 39.1 42.9 38.6 44.4 37.1 45.6 37.8 47.1 37.9 48.3 37.4 49.4 36.2 49.8 37.1 49.6 39.1 49.1 39.9 48.4 40.1ZM61.1 37.1 61.1 36.7 61.1 37.1ZM60.6 39.2 60.1 39.3 59.3 39.1 60.9 37.5 61.0 38.6 60.6 39.2ZM55.9 38.2 55.9 38.2ZM56.1 38.5 56.1 38.3 56.1 38.5ZM56.6 39.5 56.3 38.9 56.4 38.6 57.2 39.1 56.6 39.5ZM34.9 44.1 34.8 43.9 34.9 44.1ZM71.4 58.1 70.9 58.2 70.4 57.9 68.4 57.9 71.6 57.8 71.6 58.1 71.4 58.1ZM50.0 64.1 51.1 63.7 51.3 62.9 49.9 61.8 49.1 61.7 48.3 62.6 48.1 63.6 48.6 64.1 50.0 64.1ZM57.3 65.6 57.7 65.1 57.6 64.6 57.1 64.1 56.4 63.9 56.0 64.4 56.1 65.6 56.6 65.8 57.3 65.6Z"/>
<path fill="#28e448" fill-rule="evenodd" d="M42.6 62.1 38.9 58.1 36.1 56.4 35.9 54.6 36.6 52.1 33.6 51.3 32.9 50.4 32.9 50.0 33.4 50.0 34.9 49.4 36.6 49.6 37.8 48.6 39.6 48.1 41.9 45.6 42.9 45.0 46.4 44.3 48.6 44.8 50.1 43.6 50.9 43.7 52.6 44.9 54.6 44.6 56.1 45.4 57.6 45.1 59.9 45.2 63.9 44.5 65.6 43.4 66.0 42.9 65.7 41.6 64.2 40.1 64.4 39.4 65.9 37.9 67.6 37.4 69.4 36.0 71.5 35.4 71.7 34.9 71.5 34.1 70.3 33.4 71.9 32.9 72.9 31.9 73.4 30.9 73.5 29.6 73.1 28.6 72.1 27.6 72.3 26.9 69.4 27.2 67.9 27.7 67.6 26.9 68.2 25.6 68.1 24.7 67.4 24.4 65.9 23.0 64.6 22.3 62.1 22.0 59.6 21.3 58.6 21.7 58.4 22.6 58.6 23.2 60.1 24.6 60.0 24.9 58.1 25.9 57.2 26.1 56.9 26.6 56.9 27.4 57.6 27.9 58.2 29.6 58.0 31.1 57.9 31.4 56.4 31.9 55.7 32.6 54.9 36.8 53.5 36.1 52.0 33.9 50.9 32.9 49.9 32.6 48.9 33.1 48.6 33.0 46.4 31.1 44.7 30.6 44.6 28.4 44.1 27.7 43.4 27.6 41.6 28.0 40.7 29.6 39.4 30.2 38.4 28.4 40.6 26.6 42.2 22.6 44.1 20.5 45.6 20.4 47.6 19.5 48.3 19.6 47.2 21.1 47.0 22.1 48.1 24.0 48.6 24.4 49.1 24.5 49.6 24.1 50.0 23.1 49.9 19.9 51.6 19.4 53.6 18.4 57.6 15.7 58.6 15.9 59.6 16.6 61.6 18.6 63.1 19.4 64.6 19.9 68.4 19.9 70.6 22.1 72.8 26.1 73.9 27.4 75.7 28.1 78.4 28.2 79.7 30.4 79.5 32.1 76.9 34.1 75.9 36.4 76.1 39.6 77.0 42.6 75.9 43.3 74.4 43.8 72.9 43.7 71.9 43.9 70.9 44.9 69.6 46.9 69.6 49.1 69.8 50.1 69.6 50.3 63.9 50.6 62.1 51.6 61.4 52.5 60.6 50.9 59.4 49.1 58.9 48.8 58.4 49.0 57.6 50.1 58.0 52.9 57.7 53.6 57.4 53.9 56.1 53.6 54.9 51.8 53.9 51.8 52.6 52.3 49.9 49.6 48.1 48.4 48.0 47.4 47.7 47.1 46.6 47.5 44.6 47.0 43.1 47.4 42.3 48.1 41.9 48.9 41.8 49.9 42.0 50.6 42.6 51.6 44.1 53.1 46.1 54.6 45.1 54.8 44.4 55.3 42.3 58.4 42.1 59.4 43.0 61.4 42.9 62.0 42.6 62.1ZM64.4 31.4 64.1 30.0 63.7 29.1 63.9 28.9 65.1 29.0 66.0 29.9 66.1 31.2 64.4 31.4ZM32.1 48.2 31.9 48.3 29.9 46.9 29.4 46.1 29.4 44.9 30.9 42.4 31.1 42.1 33.1 41.8 34.7 39.6 35.3 36.4 34.9 36.0 35.0 35.4 36.8 34.6 38.4 33.4 40.4 32.9 41.6 33.1 42.0 34.6 42.7 35.9 40.9 37.4 41.3 39.4 40.4 42.6 39.9 42.9 38.4 42.5 37.6 42.6 36.9 43.1 36.1 44.2 35.9 44.2 35.3 43.4 34.4 43.1 34.1 43.6 34.3 45.6 33.1 47.4 32.1 48.2ZM60.9 35.1 60.9 35.1ZM61.1 35.7 61.1 35.7ZM48.4 39.9 47.1 39.9 45.6 39.0 43.6 39.4 43.2 39.1 43.2 38.6 43.9 37.8 44.6 37.5 45.9 38.1 47.5 37.9 49.2 36.6 49.5 37.4 49.4 38.9 49.0 39.6 48.4 39.9ZM60.4 39.0 59.9 39.1 59.6 38.9 60.6 38.0 60.6 38.6 60.4 39.0ZM56.6 39.3 56.4 38.8 56.9 39.1 56.6 39.3ZM67.4 44.9 68.5 43.9 68.2 43.4 67.3 43.4 66.6 43.9 66.4 44.9 66.9 45.1 67.4 44.9ZM61.1 66.4 60.4 66.6 57.5 65.9 58.0 65.4 57.9 64.6 57.2 63.9 56.4 63.5 55.8 63.9 55.5 65.4 55.1 66.0 54.1 66.1 52.6 65.8 52.1 65.9 51.4 65.2 49.8 64.6 49.9 64.4 51.4 64.2 51.8 63.1 51.6 62.6 49.6 61.3 49.1 61.3 48.6 61.7 47.4 63.8 46.3 63.6 45.5 61.9 45.9 59.6 45.8 57.6 46.6 57.0 49.4 56.9 54.4 54.9 55.1 55.4 55.6 57.1 56.1 57.5 58.6 57.3 60.9 57.8 61.9 57.5 62.2 56.6 63.1 56.9 63.9 57.4 64.1 58.6 64.9 59.4 64.4 60.4 63.8 65.4 63.6 65.6 61.1 66.4ZM71.6 57.9 71.6 57.9ZM57.4 66.1 57.2 66.1 57.4 66.1Z"/>
<path fill="#48e424" fill-rule="evenodd" d="M54.6 36.0 54.1 36.1 53.6 35.8 52.3 33.9 50.9 32.8 49.6 32.4 48.6 32.8 46.4 31.0 45.0 30.6 44.6 27.8 43.9 27.4 42.1 27.3 41.6 26.9 41.1 25.9 41.7 23.9 42.2 22.6 44.1 20.6 45.6 20.4 47.8 19.6 46.9 21.1 46.9 22.1 48.1 24.3 48.6 24.8 49.1 24.8 49.8 24.4 50.2 23.6 50.2 20.9 50.5 19.9 53.9 18.4 57.6 15.8 58.6 16.0 59.4 16.6 59.9 17.5 60.4 17.6 61.9 18.9 63.1 19.5 64.6 20.0 68.4 20.0 69.4 20.9 70.7 22.4 72.6 26.1 71.4 26.8 69.4 26.9 68.4 27.4 68.1 27.4 68.1 27.1 68.7 26.1 68.4 24.4 67.9 23.9 66.9 23.6 65.9 22.3 62.1 21.9 59.6 21.0 58.5 21.4 58.1 22.1 58.2 22.9 58.4 23.4 59.6 24.4 59.7 24.9 58.4 25.6 57.1 25.6 56.5 26.4 56.3 27.1 56.5 27.6 56.9 28.0 57.6 28.2 58.2 29.6 57.9 31.1 56.6 31.5 55.6 32.4 55.3 33.4 55.1 35.1 54.6 36.0ZM53.1 23.9 53.2 23.6 53.1 23.2 52.6 23.1 52.3 23.4 52.4 24.0 53.1 23.9ZM42.4 61.7 38.4 57.4 36.6 56.6 36.3 56.1 36.1 54.4 36.4 53.4 37.3 52.1 37.3 51.6 36.6 51.3 34.6 51.4 33.7 50.9 33.5 50.6 33.7 50.4 34.9 49.7 36.6 50.3 38.1 49.1 39.6 48.9 41.9 45.9 42.9 45.2 46.4 44.5 47.1 44.7 48.6 45.6 49.6 44.2 50.4 43.8 51.1 44.1 52.6 45.3 54.4 45.0 56.1 45.7 57.9 45.3 59.6 45.4 61.6 45.1 63.6 45.1 65.4 44.0 65.7 44.1 65.8 45.1 66.0 45.4 67.4 45.3 68.9 44.1 69.1 43.4 68.4 43.0 66.6 42.9 64.7 39.9 66.2 38.1 68.0 37.4 69.4 36.3 71.1 35.9 71.9 35.4 72.1 34.9 71.9 34.1 71.0 33.4 71.9 33.0 72.9 32.1 73.5 30.6 73.4 29.0 72.4 27.6 72.9 26.9 73.1 26.8 74.1 27.6 75.6 28.2 77.6 28.1 78.5 28.4 79.6 30.4 79.5 31.9 76.8 34.1 75.8 36.6 76.0 39.9 76.9 42.1 76.9 42.6 75.9 43.2 74.4 43.7 72.6 43.6 71.5 43.9 69.6 46.7 69.6 50.3 67.6 50.5 63.9 50.6 62.9 51.0 61.4 52.2 59.6 48.6 58.9 48.4 58.1 48.8 57.5 49.6 57.3 50.6 57.7 52.9 57.4 53.5 56.9 53.5 56.2 53.1 55.1 51.6 54.4 51.5 52.6 52.1 52.4 51.9 49.9 49.5 48.3 48.4 48.8 46.6 48.6 46.0 46.4 47.3 44.1 47.0 42.7 47.6 41.8 48.9 41.9 50.5 42.6 51.8 45.4 54.4 43.8 55.6 41.7 58.9 41.6 59.6 42.5 61.1 42.4 61.7ZM40.1 29.9 39.4 30.1 38.5 28.6 38.7 28.1 40.1 27.2 40.8 27.9 41.0 28.6 40.7 29.4 40.1 29.9ZM65.9 31.2 64.4 31.3 63.9 29.0 65.1 29.1 65.6 29.4 66.1 30.4 65.9 31.2ZM32.1 47.9 31.6 48.0 29.9 46.8 29.5 46.1 29.4 44.9 30.9 42.4 33.1 42.2 33.6 42.0 35.0 39.4 35.2 37.6 35.9 36.4 35.7 35.9 35.1 35.4 39.6 33.2 40.6 33.0 41.6 33.3 41.9 34.5 42.5 35.6 40.7 37.4 41.1 39.4 40.1 42.3 39.6 42.6 37.8 42.4 36.1 43.3 34.1 42.6 33.8 43.1 34.0 45.1 33.8 45.9 33.1 47.1 32.1 47.9ZM48.4 39.7 47.1 39.6 46.5 39.1 46.5 38.6 46.8 38.1 48.1 37.7 48.9 37.1 49.1 37.2 49.1 38.6 48.9 39.3 48.4 39.7ZM44.1 39.2 43.5 38.9 43.6 38.4 44.1 38.1 44.8 38.1 45.0 38.6 44.1 39.2ZM60.4 38.4 60.4 38.4ZM60.1 38.7 60.1 38.7ZM60.9 66.4 58.9 66.2 58.0 65.9 58.3 65.4 58.2 64.6 57.2 63.6 56.1 63.2 55.5 63.6 54.9 65.5 54.1 65.7 53.4 65.5 52.2 64.6 52.1 62.6 49.4 60.9 48.6 61.3 47.4 62.8 46.6 63.1 46.1 62.6 45.8 61.6 46.1 57.9 46.9 57.4 49.7 57.1 52.4 56.2 54.1 55.3 54.9 55.7 55.3 57.6 55.6 57.8 58.4 57.5 61.1 58.0 62.1 57.6 62.5 56.9 63.4 57.1 63.8 58.9 64.6 59.6 64.0 62.1 63.7 65.4 60.9 66.4ZM50.9 64.9 50.3 64.9 50.9 64.9ZM51.1 65.1 51.1 65.0 51.3 65.1 51.1 65.1Z"/>
<path fill="#78ec0c" fill-rule="evenodd" d="M54.4 35.3 53.6 35.2 52.4 33.6 50.4 32.2 49.6 32.0 48.1 32.1 46.6 31.0 45.7 30.6 45.3 29.6 45.0 27.6 44.4 27.2 42.6 26.7 41.4 25.4 42.3 22.6 44.1 20.7 45.9 20.5 46.9 20.1 47.1 20.1 46.6 21.1 46.6 22.1 48.3 25.1 48.9 25.3 49.6 25.1 50.9 24.2 52.1 24.9 52.9 24.8 53.9 23.9 53.9 23.1 53.1 22.6 51.1 22.9 50.5 21.6 50.7 20.4 51.1 19.9 53.9 18.5 57.6 15.8 58.9 16.4 59.4 17.8 60.1 19.1 61.1 18.4 63.2 19.6 65.6 20.1 65.7 20.6 65.1 21.5 63.9 21.8 61.9 21.6 59.9 20.4 58.9 20.7 58.1 21.2 57.8 22.1 57.9 23.4 59.1 24.9 58.6 25.0 57.6 24.8 56.9 25.0 56.0 26.1 55.7 27.1 56.4 28.2 57.6 28.6 58.0 29.6 57.8 30.6 57.6 31.0 56.4 31.2 55.6 31.9 55.1 32.9 54.7 34.9 54.4 35.3ZM71.6 26.4 70.4 26.6 69.4 26.1 68.4 23.7 67.1 22.1 67.0 21.4 67.4 20.6 68.4 20.1 70.6 22.3 72.4 25.9 71.6 26.4ZM74.4 43.6 74.3 43.4 73.9 43.2 70.9 43.4 68.9 42.7 66.9 42.5 65.3 40.1 65.7 39.1 66.6 38.2 69.6 36.6 71.4 36.2 72.8 35.4 72.1 33.1 73.2 31.9 73.6 30.9 73.6 29.1 72.7 27.9 73.1 27.1 73.4 27.1 74.1 27.7 75.6 28.3 78.4 28.3 79.5 30.4 79.4 31.9 76.7 34.1 75.7 36.1 75.6 37.0 74.9 35.1 73.9 35.0 73.0 35.4 75.1 37.1 75.8 41.1 75.4 42.9 75.8 43.1 74.4 43.6ZM39.6 29.9 39.4 29.9 38.6 28.4 40.1 27.5 40.6 28.1 40.7 28.9 40.4 29.5 39.6 29.9ZM65.9 31.1 64.6 31.1 64.1 29.3 65.1 29.2 65.4 29.4 65.9 30.1 65.9 31.1ZM36.4 42.7 35.1 42.4 34.4 41.6 34.6 40.9 35.4 39.4 35.6 37.6 36.6 36.1 36.1 35.1 37.6 34.2 38.4 34.1 39.9 33.3 41.4 33.4 42.4 35.6 40.5 37.1 40.8 39.4 40.1 41.6 39.6 42.1 37.9 42.1 36.4 42.7ZM47.9 39.2 47.4 38.9 47.4 38.6 47.8 38.1 48.4 37.9 48.4 38.7 47.9 39.2ZM32.1 47.6 31.6 47.9 30.4 47.2 29.6 46.1 29.5 44.9 30.9 42.6 32.9 42.7 33.4 43.6 33.6 44.9 33.4 45.9 32.9 47.0 32.1 47.6ZM57.1 53.0 56.4 52.7 55.4 51.2 54.4 51.2 52.4 51.7 50.1 49.5 48.5 48.4 49.6 46.9 49.7 45.1 50.1 44.4 50.7 44.4 51.9 45.5 52.6 45.7 54.4 45.5 56.4 46.1 57.9 45.6 61.6 45.6 62.3 45.9 62.9 46.8 63.4 47.0 65.1 46.0 67.9 45.6 69.9 44.1 70.7 44.4 70.8 44.6 69.5 46.9 69.6 50.2 66.1 50.5 63.1 50.4 62.6 51.1 61.6 51.7 60.3 48.1 59.9 47.9 59.1 47.9 57.9 48.5 57.1 49.6 56.9 50.6 57.4 52.4 57.1 53.0ZM40.4 59.1 39.4 58.4 38.9 57.0 37.4 56.7 36.6 56.2 36.2 55.1 36.4 53.9 36.9 53.1 38.0 52.1 38.1 50.4 39.9 49.7 41.6 47.4 42.4 45.8 43.4 45.3 46.6 45.0 47.1 45.4 47.2 45.9 45.9 47.1 44.9 46.8 43.4 47.0 42.4 47.7 41.8 48.6 41.6 49.9 42.2 51.4 44.9 54.1 43.1 56.1 41.6 58.3 40.4 59.1ZM60.6 66.4 58.8 66.1 58.6 65.9 58.9 65.1 58.5 64.4 57.3 63.4 56.1 62.9 55.6 62.8 55.2 63.1 54.7 64.6 54.4 65.0 53.4 64.9 52.7 64.1 52.6 62.1 51.1 61.6 49.4 60.4 48.6 60.6 47.4 62.1 46.6 62.3 46.2 61.4 46.6 58.1 47.4 57.7 49.6 57.6 52.4 57.0 54.1 55.9 54.6 56.4 54.4 57.9 54.9 58.4 55.6 58.4 57.9 57.8 60.4 58.2 62.6 58.1 63.4 59.4 64.2 60.1 63.7 65.4 60.6 66.4Z"/>
<path fill="#acf000" fill-rule="evenodd" d="M54.1 34.5 53.6 34.4 50.4 31.9 48.1 31.6 46.1 30.3 45.6 29.5 45.4 27.4 43.1 26.5 41.6 25.2 41.9 23.9 42.4 22.6 44.1 20.8 45.6 20.7 46.0 20.9 46.5 22.4 48.0 25.4 49.1 25.6 51.1 25.2 52.6 26.2 54.3 24.1 54.5 23.1 54.2 22.6 53.6 22.3 51.9 22.3 51.2 22.1 50.9 21.4 51.1 20.4 51.9 19.6 53.7 18.9 54.6 18.1 56.1 17.5 57.3 16.1 58.4 16.1 58.6 16.4 59.2 18.4 59.2 19.6 57.6 21.1 57.2 23.9 55.4 26.2 54.4 27.1 56.4 28.9 57.6 29.1 57.9 29.6 57.6 30.7 56.4 30.7 55.4 31.6 54.1 34.5ZM64.4 21.4 62.9 21.6 61.5 21.1 61.0 20.6 60.9 20.1 61.3 19.1 61.6 18.9 64.9 20.2 65.0 20.9 64.4 21.4ZM70.9 26.4 70.1 26.3 69.5 25.9 68.6 23.6 67.6 22.1 67.6 21.1 68.4 20.4 69.1 20.9 70.6 22.4 72.2 25.6 71.6 26.2 70.9 26.4ZM75.9 35.7 75.1 34.8 73.4 34.5 72.8 33.9 72.8 32.6 73.5 31.6 73.8 30.6 73.7 29.1 72.9 27.9 73.4 27.2 74.3 27.9 75.6 28.3 77.6 28.3 78.4 28.5 79.4 30.4 79.3 31.9 76.8 33.9 75.9 35.7ZM39.9 29.7 39.4 29.8 38.7 28.6 38.9 28.2 39.9 27.6 40.2 27.9 40.5 28.6 40.4 29.3 39.9 29.7ZM65.6 31.0 64.6 31.0 64.3 29.4 65.1 29.3 65.6 29.6 65.9 30.6 65.6 31.0ZM36.9 42.1 35.6 42.2 35.1 41.9 34.9 41.4 35.6 39.6 35.9 37.6 37.2 36.1 37.4 35.1 37.6 34.9 40.1 33.5 41.4 33.6 42.1 35.6 40.2 37.1 40.5 39.4 39.9 41.4 39.4 41.8 36.9 42.1ZM73.1 42.9 71.4 43.0 67.1 42.2 66.6 41.8 65.8 40.4 65.9 39.4 66.8 38.4 69.6 37.0 72.4 36.1 73.1 36.1 74.2 36.9 74.7 37.6 74.8 39.9 75.2 41.4 74.6 42.4 73.1 42.9ZM31.9 47.5 31.4 47.6 30.4 47.1 29.7 46.1 29.6 44.9 30.9 42.7 32.6 43.0 33.2 44.1 33.3 45.1 33.1 46.1 32.6 46.9 31.9 47.5ZM53.1 51.2 52.1 51.3 50.1 49.4 49.1 48.6 49.0 48.4 50.1 47.1 50.6 45.8 50.9 45.7 52.6 46.1 54.6 45.9 56.4 46.5 58.1 45.9 59.9 46.2 61.1 46.1 61.7 46.4 62.3 47.6 62.9 47.9 65.4 46.2 68.4 46.0 69.6 44.9 70.4 45.0 69.5 46.4 69.4 48.9 69.6 49.9 69.4 50.1 67.6 50.4 64.1 50.4 63.1 49.4 61.9 49.7 61.1 47.6 59.9 47.1 57.6 48.1 56.1 50.6 53.1 51.2ZM43.4 46.9 43.0 46.9 42.7 46.4 43.1 45.8 45.4 45.6 45.8 45.9 45.4 46.6 43.4 46.9ZM40.6 58.4 39.9 58.1 39.7 57.6 39.8 56.6 39.6 56.4 37.9 56.6 36.9 56.1 36.5 55.4 36.4 54.6 36.9 53.4 38.9 52.1 39.1 51.9 39.1 51.1 39.9 50.6 40.9 48.9 41.6 48.4 41.5 49.9 42.0 51.4 43.9 53.4 44.6 53.9 41.6 57.8 40.6 58.4ZM61.1 66.2 59.6 66.1 59.4 65.9 59.5 65.1 59.1 64.4 57.4 63.1 55.9 62.5 54.9 62.7 54.1 64.2 53.6 64.3 53.3 63.9 53.4 62.1 53.1 61.0 51.4 61.3 49.9 60.1 49.1 59.9 48.4 60.2 47.4 61.2 46.9 61.2 46.9 58.6 47.6 58.1 52.6 57.6 53.4 57.8 54.0 58.6 54.6 58.9 57.9 58.1 62.1 58.6 64.1 60.6 63.6 65.1 63.4 65.5 61.1 66.2Z"/>
<path fill="#e3f000" fill-rule="evenodd" d="M54.4 26.1 53.9 25.9 53.9 25.6 54.9 23.9 54.8 22.6 53.9 22.0 51.6 21.9 51.2 21.4 51.3 20.6 52.3 19.6 55.9 18.1 57.9 16.2 58.4 16.6 58.6 17.3 58.9 18.6 58.8 19.4 57.3 20.9 57.0 22.9 56.6 23.6 55.1 25.8 54.4 26.1ZM63.6 21.4 62.6 21.4 61.6 20.9 61.3 20.1 61.7 19.4 61.9 19.2 64.6 20.4 64.4 21.0 63.6 21.4ZM71.1 26.2 70.1 26.1 69.4 25.4 68.7 23.1 67.9 21.9 68.0 21.1 68.5 20.6 69.1 21.0 70.5 22.4 72.0 25.4 72.1 25.6 71.1 26.2ZM53.9 33.8 52.4 33.1 50.1 31.5 48.4 31.3 46.6 30.3 45.9 29.4 45.9 27.6 45.6 27.1 43.4 26.4 41.9 25.1 42.0 23.9 42.5 22.6 44.1 20.9 45.1 21.0 45.8 21.4 47.9 25.7 48.9 25.9 50.9 25.7 52.8 27.4 55.1 28.2 56.4 29.7 57.6 29.3 57.6 30.3 56.4 30.0 56.1 30.2 53.9 33.8ZM75.9 35.3 75.4 34.6 73.6 34.2 73.2 33.9 73.3 32.4 73.9 30.4 73.8 29.1 73.1 27.9 73.4 27.5 75.6 28.4 78.1 28.4 79.4 30.4 79.2 31.9 76.7 33.9 75.9 35.3ZM39.6 29.7 39.0 29.1 38.8 28.4 39.9 27.7 40.3 28.1 40.4 28.9 40.2 29.4 39.6 29.7ZM65.6 30.9 64.9 30.9 64.6 30.6 64.5 29.6 64.6 29.4 65.1 29.4 65.6 29.8 65.8 30.6 65.6 30.9ZM36.9 41.9 35.9 41.9 35.3 41.4 35.9 39.4 36.1 37.6 37.6 36.4 38.4 35.1 39.4 34.1 40.4 33.6 41.1 33.7 42.0 35.4 41.7 35.9 40.4 36.6 40.0 37.1 40.2 39.4 39.8 40.9 39.1 41.5 36.9 41.9ZM73.4 42.6 71.6 42.9 67.1 42.0 66.2 40.6 66.2 39.4 66.9 38.5 69.4 37.3 72.4 36.4 73.1 36.5 73.9 36.9 74.4 37.6 74.4 39.9 74.8 41.1 74.4 42.1 73.4 42.6ZM31.6 47.4 31.1 47.4 30.3 46.9 30.0 46.4 29.7 45.1 30.9 42.9 32.4 43.2 32.8 43.6 33.1 44.4 33.1 45.4 32.8 46.4 32.4 46.9 31.6 47.4ZM53.1 50.9 51.9 50.9 49.3 48.6 51.1 46.4 54.4 46.1 56.9 47.0 58.1 46.4 58.8 46.6 57.4 47.6 55.9 50.0 54.6 50.6 53.1 50.9ZM68.1 50.2 66.1 50.3 64.4 50.2 63.5 48.9 63.5 48.4 64.4 47.1 65.6 46.4 67.4 46.3 69.3 46.6 69.3 49.1 69.5 49.9 68.1 50.2ZM41.4 49.3 41.2 49.1 41.4 49.0 41.4 49.3ZM41.1 57.7 40.6 57.8 40.4 57.6 40.8 56.4 40.5 55.6 38.6 56.3 37.6 56.3 36.9 55.9 36.5 54.9 36.7 53.9 37.6 53.0 38.6 52.6 39.9 52.9 40.4 52.7 40.6 52.1 40.5 50.6 41.1 49.2 42.0 51.6 44.3 53.9 43.6 55.0 41.1 57.7ZM51.9 60.9 51.1 60.8 49.4 59.4 47.4 60.0 47.3 58.9 48.1 58.4 51.4 58.0 52.6 58.2 53.1 58.6 53.3 59.4 51.9 60.9ZM61.6 65.9 60.6 66.1 59.5 64.1 57.8 63.1 55.9 62.2 54.2 62.1 53.9 61.4 53.7 59.6 57.6 58.4 59.4 58.7 61.4 58.8 62.1 59.1 63.9 60.9 63.9 61.6 63.6 62.9 63.4 65.4 61.6 65.9Z"/>
<path fill="#ffd800" fill-rule="evenodd" d="M56.1 23.0 55.6 22.9 54.4 21.8 51.9 21.6 51.5 20.9 52.4 19.8 55.6 18.8 57.4 17.0 57.9 16.8 58.5 17.9 58.6 19.1 58.2 19.6 56.9 20.6 56.6 22.4 56.1 23.0ZM63.6 21.1 62.9 21.2 62.1 20.9 61.7 20.4 61.9 19.6 62.1 19.4 64.0 20.1 64.2 20.6 63.6 21.1ZM71.4 25.9 70.4 26.0 69.6 25.4 68.3 21.9 68.3 21.4 68.6 20.8 69.1 21.1 70.5 22.6 71.9 25.4 71.4 25.9ZM53.9 33.2 53.4 33.3 52.4 32.9 50.1 31.2 48.4 31.1 47.6 30.7 46.3 29.4 46.1 27.1 45.6 26.8 43.4 26.1 41.9 24.9 42.1 23.9 42.6 22.6 44.1 21.1 45.1 21.3 45.9 22.0 47.0 24.1 47.6 25.9 50.6 26.1 52.6 27.6 55.1 28.6 55.5 29.4 55.5 30.1 53.9 33.2ZM76.1 34.7 75.4 34.1 73.9 33.9 73.6 33.6 73.8 32.4 73.6 31.9 74.0 29.9 73.8 28.9 73.3 27.9 73.6 27.6 75.6 28.5 78.1 28.5 79.3 30.4 79.2 31.9 76.9 33.6 76.1 34.7ZM39.9 29.5 39.4 29.5 38.8 28.6 38.9 28.4 39.9 27.9 40.3 28.6 39.9 29.5ZM65.6 30.8 64.7 30.6 64.6 29.5 65.4 29.6 65.7 30.4 65.6 30.8ZM36.9 41.6 36.1 41.6 35.7 41.1 36.2 39.6 36.4 37.7 38.1 36.4 39.6 34.2 40.4 33.8 41.1 33.9 41.8 35.4 41.4 35.9 39.8 36.9 39.9 39.1 39.5 40.9 38.9 41.3 36.9 41.6ZM72.6 42.6 71.4 42.6 67.1 41.7 66.3 40.4 66.5 39.1 67.4 38.4 69.6 37.5 72.6 36.7 73.4 36.9 74.2 37.9 74.1 39.9 74.4 41.4 73.9 42.1 72.6 42.6ZM31.6 47.2 30.4 46.9 29.9 45.1 30.2 44.1 30.9 43.1 32.2 43.4 32.9 44.4 32.7 46.1 32.2 46.9 31.6 47.2ZM52.6 50.6 51.6 50.4 49.8 48.9 50.0 48.4 51.1 47.0 54.4 46.3 55.3 46.6 56.5 47.4 56.7 47.9 56.6 48.4 55.6 49.8 54.4 50.4 52.6 50.6ZM67.9 50.2 64.5 50.1 63.9 48.6 64.3 47.6 65.1 46.8 66.1 46.5 67.6 46.5 69.1 47.1 69.4 49.9 67.9 50.2ZM41.9 56.1 40.4 55.1 38.9 56.0 37.6 56.2 36.9 55.6 36.7 54.9 36.9 53.9 37.6 53.2 38.6 52.9 40.1 53.3 40.6 52.9 41.1 51.9 40.9 50.6 41.1 49.8 42.1 51.9 44.1 53.9 43.4 55.1 41.9 56.1ZM51.6 60.5 51.1 60.4 50.6 59.9 50.2 59.4 50.1 58.9 51.4 58.4 52.4 58.8 52.4 59.6 51.6 60.5ZM62.4 64.9 61.1 65.0 59.6 63.2 58.1 63.0 54.6 61.5 54.3 60.6 54.4 59.9 57.4 58.7 59.4 59.2 60.6 59.0 61.6 59.1 62.2 59.6 63.1 61.4 62.3 63.1 63.0 64.6 62.4 64.9Z"/>
<path fill="#ffa800" fill-rule="evenodd" d="M55.9 21.9 54.4 21.4 52.2 21.4 51.9 21.1 52.0 20.6 52.4 20.1 53.1 19.8 55.9 19.6 57.1 17.6 57.9 17.3 58.3 18.1 58.3 18.9 57.6 19.6 56.2 19.9 56.1 21.6 55.9 21.9ZM63.4 20.9 62.3 20.6 62.1 20.1 62.4 19.7 63.8 20.1 63.8 20.6 63.4 20.9ZM71.1 25.9 70.4 25.8 69.6 25.1 68.6 21.9 68.9 21.0 70.4 22.5 71.3 24.1 71.8 25.4 71.1 25.9ZM53.6 32.9 52.9 32.9 52.1 32.6 50.1 31.0 48.6 30.9 47.6 30.4 46.5 29.1 46.6 26.9 46.4 26.6 43.9 26.2 42.1 24.8 42.1 24.1 42.5 22.9 43.6 21.7 44.1 21.4 44.6 21.5 45.7 22.1 46.8 24.1 47.1 26.2 50.4 26.3 52.4 27.8 54.9 28.9 55.2 29.6 55.1 30.4 54.3 32.1 53.6 32.9ZM76.1 34.3 75.4 33.7 74.3 33.4 74.3 32.4 74.0 31.6 74.1 29.6 73.5 28.1 73.6 27.8 75.6 28.5 78.1 28.6 79.2 30.4 79.1 31.9 76.1 34.3ZM39.6 29.5 38.9 28.6 39.0 28.4 39.9 28.0 40.2 28.9 39.6 29.5ZM65.6 30.7 64.8 30.6 64.8 29.6 65.4 29.7 65.6 30.7ZM37.9 41.1 36.9 41.3 36.2 41.1 36.2 40.6 36.6 39.4 36.6 37.9 37.1 37.4 38.9 36.4 39.2 35.1 39.7 34.4 40.4 34.0 41.1 34.1 41.6 35.4 41.1 35.9 39.4 36.6 39.5 38.6 39.2 40.4 38.8 40.9 37.9 41.1ZM72.9 42.4 71.6 42.5 67.4 41.6 66.6 40.6 66.6 39.4 67.3 38.6 69.1 37.8 72.6 37.0 73.1 37.0 73.9 37.9 73.8 39.9 74.0 41.1 73.7 41.9 72.9 42.4ZM31.6 47.0 30.9 46.9 30.5 46.6 30.0 44.9 30.6 43.4 30.9 43.3 32.1 43.6 32.7 44.6 32.5 46.1 31.6 47.0ZM54.4 50.2 53.1 50.3 51.9 50.0 50.7 48.9 50.6 48.4 50.9 47.9 51.6 47.2 53.9 46.6 54.6 46.6 55.4 46.9 56.2 47.6 56.2 48.4 55.6 49.4 54.4 50.2ZM67.6 50.2 64.8 50.1 64.3 49.1 64.2 48.4 65.0 47.1 65.9 46.7 66.9 46.6 68.1 46.9 69.1 47.4 69.3 49.9 67.6 50.2ZM38.6 55.9 37.6 56.0 37.1 55.6 36.8 54.9 37.0 53.9 37.6 53.3 38.4 53.1 39.1 53.2 40.1 53.8 40.4 53.7 41.4 52.1 41.6 51.3 41.7 51.6 43.9 53.9 43.4 54.9 42.4 55.7 41.6 55.7 40.4 54.6 38.6 55.9ZM51.6 59.7 51.1 59.7 51.0 59.1 51.4 59.0 51.7 59.1 51.6 59.7ZM58.6 62.6 57.4 62.5 55.2 61.4 54.8 60.9 54.8 60.1 55.4 59.6 57.1 59.0 58.4 59.3 59.3 60.1 59.4 60.6 59.2 61.9 58.6 62.6ZM61.6 62.0 61.1 62.0 60.0 60.6 59.9 59.9 60.4 59.4 61.4 59.4 62.0 60.1 62.3 61.1 61.6 62.0Z"/>
<path fill="#fd7400" fill-rule="evenodd" d="M57.4 19.2 57.1 19.1 56.9 18.6 57.1 18.1 57.6 17.8 58.0 18.1 58.0 18.6 57.4 19.2ZM54.1 20.9 52.9 21.1 52.4 20.9 52.6 20.4 53.3 20.1 54.3 20.1 54.8 20.4 54.9 20.6 54.1 20.9ZM63.1 20.4 62.8 20.4 62.8 20.1 63.1 20.1 63.1 20.4ZM71.4 25.6 70.4 25.7 69.8 25.1 68.9 21.4 69.1 21.3 70.4 22.6 71.6 25.1 71.7 25.4 71.4 25.6ZM46.1 26.2 45.1 26.3 43.9 26.0 42.1 24.6 42.6 22.8 43.9 21.7 44.6 21.7 45.4 22.1 46.4 23.6 46.8 25.1 46.6 25.9 46.1 26.2ZM53.4 32.7 52.1 32.4 50.4 30.8 48.4 30.5 47.4 29.9 46.7 28.6 47.1 26.9 48.1 26.5 50.1 26.5 52.1 27.9 54.6 28.9 55.0 29.6 54.8 30.6 54.1 32.0 53.4 32.7ZM39.6 29.4 39.0 28.6 39.6 28.1 39.9 28.1 40.1 28.6 39.6 29.4ZM76.4 34.0 75.2 32.9 74.1 31.2 74.2 29.4 73.7 28.1 73.9 28.0 75.6 28.6 78.1 28.7 79.1 30.4 79.0 31.9 76.4 34.0ZM65.4 30.6 64.9 30.4 64.9 29.9 65.1 29.7 65.5 30.1 65.4 30.6ZM40.6 35.9 39.6 35.9 39.4 35.4 39.8 34.6 40.6 34.2 41.1 34.4 41.4 35.1 41.2 35.6 40.6 35.9ZM37.1 40.9 36.7 40.6 37.3 39.4 36.9 38.1 37.4 37.6 38.6 37.2 39.0 37.6 39.1 38.4 38.9 38.7 37.9 39.4 38.2 40.4 37.1 40.9ZM72.9 42.2 71.6 42.3 67.6 41.5 66.8 40.6 66.8 39.4 67.5 38.6 69.1 38.0 72.6 37.3 73.1 37.3 73.7 38.1 73.7 41.1 73.6 41.6 72.9 42.2ZM31.9 46.6 31.1 46.8 30.5 46.1 30.2 44.6 30.7 43.6 31.7 43.6 32.4 44.4 32.5 45.6 31.9 46.6ZM54.4 49.9 53.4 50.1 52.2 49.6 51.4 48.6 51.5 47.9 53.9 46.8 54.6 46.8 55.3 47.1 55.9 47.9 55.9 48.6 55.3 49.4 54.4 49.9ZM66.1 50.1 64.9 50.0 64.5 49.1 64.5 48.1 65.1 47.2 65.9 46.8 66.9 46.7 67.9 47.0 69.0 47.6 69.1 49.8 66.1 50.1ZM42.6 55.4 41.6 55.4 40.7 54.4 40.9 53.4 41.9 52.1 43.8 53.9 43.4 54.6 42.6 55.4ZM38.1 55.9 37.1 55.5 36.9 54.4 37.6 53.5 38.9 53.3 39.7 53.9 39.8 54.6 39.1 55.5 38.1 55.9ZM58.4 62.3 57.4 62.3 56.1 61.6 55.3 60.9 55.3 60.1 56.9 59.3 57.6 59.3 58.1 59.5 58.7 60.1 58.9 60.9 58.8 61.6 58.4 62.3ZM61.4 60.5 61.1 60.6 60.9 60.1 61.3 60.1 61.4 60.5Z"/>
<path fill="#fa3c00" fill-rule="evenodd" d="M45.9 26.0 44.9 26.1 43.9 25.8 42.4 24.6 42.2 24.1 42.7 22.9 43.6 21.9 44.4 21.9 45.1 22.2 46.1 23.4 46.6 24.9 46.4 25.6 45.9 26.0ZM70.9 25.6 70.1 25.4 69.7 24.6 69.1 21.9 69.4 21.7 70.3 22.6 71.6 25.1 71.6 25.4 70.9 25.6ZM53.4 32.4 52.1 32.2 50.4 30.5 48.6 30.4 47.7 29.9 47.0 28.6 47.4 27.1 48.4 26.6 50.1 26.7 52.1 28.1 54.4 29.0 54.7 29.6 54.6 30.6 54.0 31.9 53.4 32.4ZM73.9 28.2 73.9 28.2ZM39.6 29.3 39.0 28.6 39.6 28.2 40.0 28.6 39.6 29.3ZM76.4 33.7 74.4 30.9 74.3 29.4 73.9 28.4 74.1 28.2 75.6 28.7 78.1 28.8 79.1 30.4 78.9 31.9 76.4 33.7ZM65.4 30.5 65.0 30.4 65.1 29.8 65.4 30.1 65.4 30.5ZM40.6 35.7 40.1 35.7 39.8 35.4 39.9 34.9 40.6 34.5 41.1 34.7 41.3 35.1 40.6 35.7ZM72.4 42.2 67.6 41.3 66.9 40.4 67.0 39.4 67.6 38.7 69.1 38.1 72.9 37.6 73.4 38.4 73.5 41.1 73.1 41.8 72.4 42.2ZM31.9 46.4 31.1 46.5 30.6 45.9 30.5 44.4 30.9 43.8 31.6 43.9 32.2 44.6 32.3 45.6 31.9 46.4ZM68.1 49.9 66.1 50.1 65.0 49.9 64.6 48.6 64.9 47.6 65.6 47.0 66.6 46.8 67.6 47.0 68.6 47.6 69.0 48.1 69.1 49.6 68.1 49.9ZM54.4 49.7 53.1 49.6 52.2 48.6 52.5 47.9 54.1 47.0 55.1 47.3 55.6 48.1 55.2 49.1 54.4 49.7ZM42.6 55.2 41.6 55.2 40.9 54.1 41.2 53.1 42.0 52.4 43.6 53.9 43.3 54.6 42.6 55.2ZM38.4 55.7 37.4 55.5 37.0 54.6 37.4 53.8 38.4 53.4 39.1 53.6 39.6 54.4 39.3 55.1 38.4 55.7ZM58.1 62.0 57.4 62.0 56.2 61.4 55.6 60.6 55.8 60.1 56.9 59.6 57.9 59.7 58.3 60.1 58.6 60.9 58.5 61.6 58.1 62.0Z"/>
<path fill="#f61700" fill-rule="evenodd" d="M71.1 25.5 70.4 25.4 69.9 24.9 69.5 23.6 69.4 21.8 70.2 22.6 71.0 24.1 71.5 25.1 71.1 25.5ZM45.1 25.9 43.6 25.5 42.4 24.4 42.8 22.9 43.6 22.1 44.4 22.1 45.1 22.4 46.2 23.9 46.4 24.6 46.2 25.4 45.1 25.9ZM53.4 32.2 52.9 32.3 52.1 32.0 50.4 30.2 48.6 30.1 47.9 29.7 47.2 28.6 47.3 27.9 47.6 27.2 48.6 26.7 49.9 26.8 51.9 28.2 54.1 29.1 54.5 29.6 54.5 30.4 54.1 31.4 53.4 32.2ZM39.6 29.2 39.1 28.6 39.6 28.3 39.9 28.6 39.6 29.2ZM76.6 33.4 74.4 30.4 74.1 28.3 75.9 28.8 77.9 28.7 78.9 30.1 78.9 31.8 76.6 33.4ZM65.1 30.2 65.1 30.0 65.3 30.1 65.1 30.2ZM40.9 35.1 40.6 35.3 40.3 35.1 40.6 34.8 40.9 35.1ZM72.6 41.9 71.6 42.0 67.7 41.1 67.1 40.4 67.1 39.4 67.9 38.7 69.4 38.2 72.9 38.0 73.2 38.6 73.2 40.9 73.1 41.4 72.6 41.9ZM31.6 46.2 31.0 46.1 30.7 45.4 30.7 44.6 31.1 44.1 31.6 44.2 32.1 44.9 32.1 45.6 31.6 46.2ZM67.9 49.9 65.2 49.9 64.7 48.6 65.1 47.6 65.8 47.1 66.6 47.0 67.6 47.2 68.6 47.8 68.9 48.1 69.0 49.6 67.9 49.9ZM54.4 49.4 53.4 49.4 52.8 48.6 53.1 47.9 54.1 47.3 54.9 47.5 55.3 48.1 55.1 48.9 54.4 49.4ZM42.4 55.1 41.6 55.0 41.1 54.1 41.4 53.2 42.1 52.6 43.5 53.9 43.1 54.6 42.4 55.1ZM38.6 55.4 37.9 55.6 37.3 55.1 37.2 54.4 37.9 53.6 38.6 53.6 39.3 54.1 39.2 54.9 38.6 55.4ZM57.9 61.7 57.1 61.7 56.3 61.1 56.1 60.6 56.3 60.1 57.1 59.8 57.9 60.1 58.3 60.9 57.9 61.7Z"/><circle cx="39.4" cy="28.7" r="1.5" fill="#b0f000"/><circle cx="39.4" cy="28.7" r="1.1" fill="#ffc000"/><circle cx="39.4" cy="28.7" r="0.7" fill="#f03000"/><circle cx="64.8" cy="30.3" r="1.5" fill="#ffd000"/><circle cx="64.8" cy="30.3" r="1.0" fill="#ff6000"/><circle cx="64.8" cy="30.3" r="0.6" fill="#f01800"/>
<line x1="18.6" y1="12" x2="20" y2="12" stroke="#999" stroke-width="0.5"/>
<line x1="18.6" y1="19" x2="20" y2="19" stroke="#999" stroke-width="0.5"/>
<line x1="18.6" y1="26" x2="20" y2="26" stroke="#999" stroke-width="0.5"/>
<line x1="18.6" y1="33" x2="20" y2="33" stroke="#999" stroke-width="0.5"/>
<line x1="18.6" y1="40" x2="20" y2="40" stroke="#999" stroke-width="0.5"/>
<line x1="18.6" y1="47" x2="20" y2="47" stroke="#999" stroke-width="0.5"/>
<line x1="18.6" y1="54" x2="20" y2="54" stroke="#999" stroke-width="0.5"/>
<line x1="18.6" y1="61" x2="20" y2="61" stroke="#999" stroke-width="0.5"/>
<line x1="18.6" y1="68" x2="20" y2="68" stroke="#999" stroke-width="0.5"/>
<line x1="23" y1="73" x2="23" y2="74.4" stroke="#999" stroke-width="0.5"/>
<line x1="30" y1="73" x2="30" y2="74.4" stroke="#999" stroke-width="0.5"/>
<line x1="37" y1="73" x2="37" y2="74.4" stroke="#999" stroke-width="0.5"/>
<line x1="44" y1="73" x2="44" y2="74.4" stroke="#999" stroke-width="0.5"/>
<line x1="51" y1="73" x2="51" y2="74.4" stroke="#999" stroke-width="0.5"/>
<line x1="58" y1="73" x2="58" y2="74.4" stroke="#999" stroke-width="0.5"/>
<line x1="65" y1="73" x2="65" y2="74.4" stroke="#999" stroke-width="0.5"/>
<line x1="72" y1="73" x2="72" y2="74.4" stroke="#999" stroke-width="0.5"/>
<line x1="79" y1="73" x2="79" y2="74.4" stroke="#999" stroke-width="0.5"/>
<text x="0" y="0" font-size="5.6" text-anchor="start" fill="#222" transform="translate(17.0 73.2) rotate(-90) scale(0.9 1)">t-SNE2</text>
<line x1="18.0" y1="73.5" x2="18.0" y2="57.5" stroke="#444" stroke-width="0.5"/>
<path d="M17.1,57.8 L18,56 L18.9,57.8 Z" fill="#333"/>
<text x="0" y="0" font-size="5.6" text-anchor="start" fill="#222" transform="translate(21.1 79.9) scale(0.9 1)" class="s">t-SNE1</text>
<line x1="21" y1="81.3" x2="37.5" y2="81.3" stroke="#444" stroke-width="0.5"/>
<path d="M37.2,80.4 L39,81.3 L37.2,82.2 Z" fill="#333"/>
<text x="0" y="0" font-size="7.6" text-anchor="middle" fill="#111" transform="translate(23 91.9) scale(0.92 1)" class="s">Pre-</text>
<text x="0" y="0" font-size="7.6" text-anchor="middle" fill="#111" transform="translate(22.7 99.9) scale(0.92 1)" class="s">infusion</text>
<text x="0" y="0" font-size="7.6" text-anchor="middle" fill="#111" transform="translate(50.7 96.0) scale(0.92 1)" class="s">Blood</text>
<text x="0" y="0" font-size="7.6" text-anchor="middle" fill="#111" transform="translate(77.7 91.9) scale(0.92 1)" class="s">Bone</text>
<text x="0" y="0" font-size="7.6" text-anchor="middle" fill="#111" transform="translate(79 99.9) scale(0.92 1)" class="s">marrow</text>
<rect x="8.6" y="102.7" width="24.5" height="25" fill="none" stroke="#e2e2e2" stroke-width="0.5"/>
<rect x="37.5" y="102.7" width="24.5" height="25" fill="none" stroke="#e2e2e2" stroke-width="0.5"/>
<rect x="67.7" y="102.7" width="24.5" height="25" fill="none" stroke="#e2e2e2" stroke-width="0.5"/>
<path fill="#0808e8" fill-rule="evenodd" d="M22.5 123.3 21.5 122.8 21.0 122.8 20.2 122.1 20.2 121.6 19.7 121.6 18.7 120.3 17.2 121.3 16.2 121.6 15.7 121.1 15.2 119.8 15.7 118.8 16.0 117.6 14.7 117.6 14.0 118.1 13.5 118.1 13.2 117.8 11.5 117.8 11.2 117.6 11.5 115.6 11.0 115.1 11.0 114.6 11.5 113.6 12.0 113.3 11.7 112.8 12.0 112.6 11.7 112.3 11.7 111.6 12.2 111.1 13.7 111.1 14.0 111.3 14.5 111.1 15.0 111.6 15.5 111.6 16.0 110.6 17.2 110.3 18.0 110.8 18.0 111.6 18.2 111.8 19.7 111.6 20.2 112.1 20.0 113.6 20.2 113.8 21.0 113.8 21.5 114.6 21.7 114.1 21.5 113.8 22.2 112.8 22.2 112.1 22.0 112.3 21.5 112.3 20.7 111.6 20.7 111.1 21.5 110.3 21.7 109.6 22.7 108.8 23.7 108.8 24.2 108.3 24.5 107.8 24.2 106.3 24.5 106.1 25.0 105.8 27.5 105.8 28.5 106.3 28.5 107.3 28.7 107.3 30.0 108.6 31.0 109.1 31.2 110.1 32.0 110.6 32.7 110.6 33.2 111.1 33.2 112.6 32.7 113.1 31.0 113.1 30.7 113.3 30.7 114.3 31.2 114.8 31.2 115.3 30.5 116.3 30.5 117.6 29.7 118.1 29.5 118.6 28.7 118.6 28.2 118.1 27.7 118.1 26.5 119.6 25.0 120.3 23.2 118.8 22.5 118.8 22.2 118.6 21.5 118.8 21.0 118.3 21.0 117.6 20.7 117.3 21.0 117.1 20.7 117.3 19.0 117.3 18.2 116.8 17.7 116.8 17.2 117.3 16.5 117.3 18.0 117.3 19.0 118.3 19.7 118.3 20.0 118.6 21.2 118.8 22.2 119.6 22.2 119.8 23.0 120.1 23.7 121.1 24.2 121.3 24.5 122.1 23.5 123.1 22.7 123.1 22.5 123.3ZM26.7 121.8 26.0 121.3 26.0 120.6 27.2 119.6 28.2 120.6 26.7 121.8ZM28.7 120.8 28.2 120.6 28.7 120.3 29.0 120.6 28.7 120.8ZM28.2 121.3 28.0 121.1 28.2 120.6 28.5 120.8 28.2 121.3Z"/>
<path fill="#004cff" fill-rule="evenodd" d="M25.5 119.4 25.0 119.5 24.0 118.5 22.7 118.2 22.2 117.4 21.6 117.8 21.7 116.3 22.3 115.8 22.7 113.6 23.6 111.8 23.2 111.5 22.2 111.4 21.7 111.7 21.4 111.3 22.9 109.6 24.0 109.4 24.7 108.7 25.1 107.8 24.9 106.8 25.1 106.6 27.2 106.5 27.8 106.8 28.1 107.8 30.2 109.4 30.8 110.6 31.7 111.2 32.5 111.2 33.0 111.6 32.5 112.4 30.7 112.5 30.1 113.1 30.1 114.3 30.6 115.1 29.9 116.1 29.8 117.3 29.0 117.9 28.5 117.5 27.5 117.5 26.3 118.8 25.5 119.4ZM13.7 117.4 11.9 117.1 12.1 115.6 11.6 114.8 12.6 113.6 12.5 111.7 13.5 111.7 15.5 112.2 15.9 112.1 16.5 111.2 17.2 111.2 17.4 111.8 17.8 112.3 19.4 112.6 19.4 113.8 19.8 114.3 20.8 114.6 20.3 115.8 20.5 116.7 19.2 116.7 18.5 116.2 17.7 116.2 16.0 116.9 14.7 116.9 14.2 116.2 13.7 116.0 13.5 116.3 13.7 117.4ZM19.5 112.4 19.5 112.2 19.5 112.4ZM16.5 120.9 16.1 119.8 16.4 118.3 16.7 118.0 17.7 118.0 18.3 118.6 18.3 119.6 16.5 120.9ZM20.0 120.9 19.1 119.6 19.1 119.3 19.5 119.0 21.0 119.5 21.6 120.1 20.0 120.9ZM27.0 120.7 27.0 120.5 27.0 120.7ZM23.2 122.4 22.2 122.5 21.2 122.2 20.9 121.6 22.2 120.7 22.7 120.7 23.6 121.8 23.2 122.4ZM26.7 120.9 26.7 120.7 26.7 120.9Z"/>
<path fill="#0084ff" fill-rule="evenodd" d="M25.5 119.2 25.0 119.3 24.2 118.5 22.7 118.0 21.8 116.8 22.5 115.6 22.9 113.3 23.8 111.8 23.5 111.3 22.0 111.3 21.8 111.1 23.0 109.7 24.0 109.6 24.8 108.8 25.2 108.1 25.2 106.7 27.0 106.6 27.7 107.1 28.0 107.9 30.1 109.6 30.7 110.7 31.7 111.3 32.7 111.6 32.2 112.3 30.7 112.3 30.0 113.1 30.0 114.6 30.4 115.1 29.7 116.1 29.7 117.1 29.5 117.3 29.0 117.7 28.5 117.3 27.5 117.3 26.2 118.7 25.5 119.2ZM21.7 111.5 21.7 111.2 22.0 111.3 21.7 111.5ZM13.2 117.0 12.2 116.8 12.2 115.3 11.8 114.8 12.7 113.6 12.7 111.9 15.5 112.4 17.0 111.3 17.7 112.4 19.0 112.6 19.4 114.1 20.6 114.8 20.2 115.6 20.2 116.3 20.0 116.5 17.7 116.0 16.7 116.5 15.0 116.8 14.2 116.0 13.7 115.8 13.3 116.1 13.4 116.8 13.2 117.0ZM17.0 120.5 16.5 120.6 16.2 119.6 16.7 118.2 17.5 118.1 18.1 118.6 18.1 119.6 17.0 120.5ZM20.0 120.7 19.3 119.6 19.5 119.2 21.0 119.7 21.5 120.1 20.0 120.7ZM23.2 122.2 22.2 122.3 21.2 122.0 21.1 121.6 22.5 120.8 23.5 121.8 23.2 122.2Z"/>
<path fill="#00b4fb" fill-rule="evenodd" d="M25.2 119.1 24.2 118.3 22.9 117.8 22.1 116.8 22.6 115.8 22.9 113.6 24.0 111.8 23.7 111.2 22.1 111.1 23.0 109.9 24.2 109.6 25.0 108.9 25.4 108.1 25.4 106.8 27.0 106.8 27.5 107.1 27.9 108.1 30.0 109.7 30.6 110.8 31.5 111.4 32.3 111.6 32.3 112.1 30.7 112.1 29.9 112.8 29.8 114.3 30.1 115.1 29.5 116.1 29.5 117.1 29.0 117.5 28.2 117.1 27.2 117.3 26.1 118.6 25.2 119.1ZM13.2 116.9 12.4 116.8 12.4 115.3 12.1 114.8 12.9 113.6 13.0 112.0 15.5 112.5 16.0 112.4 16.7 111.6 17.0 111.5 17.2 112.1 17.7 112.6 19.0 112.8 19.2 114.1 19.7 114.6 20.3 114.8 20.0 116.4 17.7 115.9 16.7 116.4 15.0 116.6 14.2 115.9 13.7 115.7 13.2 116.1 13.2 116.9ZM16.7 120.4 16.4 119.8 16.7 118.6 17.0 118.3 17.5 118.3 18.0 118.7 18.0 119.3 16.7 120.4ZM20.2 120.4 20.0 120.5 19.6 119.6 20.7 119.8 21.1 120.1 20.2 120.4ZM23.0 122.1 22.2 122.1 21.4 121.8 21.3 121.6 22.5 121.0 23.1 121.8 23.0 122.1Z"/>
<path fill="#00dcf4" fill-rule="evenodd" d="M25.2 119.0 24.2 118.1 23.0 117.7 22.4 116.8 22.8 115.8 22.8 114.1 24.1 111.8 23.8 111.1 22.7 111.1 22.4 110.8 23.2 109.9 24.2 109.8 25.0 109.1 25.5 108.1 25.5 107.1 25.7 106.9 27.0 106.9 27.3 107.1 27.7 108.1 29.9 109.8 30.5 110.9 32.2 111.8 30.5 112.1 29.8 112.8 29.6 114.3 29.9 115.1 29.4 116.1 29.3 117.1 29.0 117.3 28.2 117.0 27.2 117.1 26.0 118.5 25.2 119.0ZM13.0 116.7 12.6 116.6 12.5 115.3 12.3 114.8 13.0 113.7 13.0 112.3 13.2 112.2 15.5 112.7 16.2 112.4 16.7 111.7 17.7 112.8 18.7 112.9 19.0 114.1 20.2 115.1 19.7 116.2 18.5 115.8 17.7 115.7 16.7 116.2 15.0 116.5 14.3 115.8 13.7 115.6 13.2 115.8 13.0 116.7ZM16.7 120.3 16.5 119.6 16.8 118.6 17.5 118.4 17.9 118.8 17.9 119.3 16.7 120.3ZM20.5 120.1 20.0 120.2 19.8 119.8 20.0 119.7 20.5 120.1ZM22.7 122.0 22.2 122.0 21.6 121.6 22.5 121.1 22.9 121.8 22.7 122.0Z"/>
<path fill="#04f0d8" fill-rule="evenodd" d="M25.2 118.9 24.4 118.1 23.0 117.6 22.7 117.1 23.1 115.6 22.9 114.8 22.9 114.1 24.1 112.3 24.2 111.6 23.7 110.9 22.7 111.0 22.5 110.8 23.2 110.0 24.4 109.8 25.2 109.1 25.6 108.1 25.7 107.0 27.0 107.0 27.5 108.1 29.7 109.8 30.5 111.0 31.5 111.7 32.0 111.8 30.7 111.9 29.7 112.7 29.5 114.3 29.8 115.3 29.3 116.1 29.2 116.9 29.0 117.1 28.2 116.9 27.1 117.1 26.0 118.4 25.2 118.9ZM27.2 112.1 27.1 111.8 26.7 111.7 26.5 112.1 26.7 112.3 27.2 112.1ZM13.0 116.6 12.7 116.6 12.4 114.6 13.1 113.6 13.2 112.3 15.5 112.8 16.1 112.6 16.7 112.0 17.6 112.8 18.7 113.0 19.0 114.2 20.0 115.1 19.7 116.1 18.5 115.7 17.7 115.6 16.7 116.1 15.0 116.4 14.2 115.7 13.5 115.5 12.9 116.1 13.0 116.6ZM24.4 115.6 24.7 115.3 24.5 115.2 23.9 115.6 24.4 115.6ZM16.7 120.1 17.0 118.6 17.5 118.5 17.8 118.8 17.8 119.3 16.7 120.1ZM20.0 119.9 20.0 119.9ZM20.2 120.1 20.2 120.0 20.2 120.1ZM22.7 121.9 22.2 121.9 21.9 121.6 22.5 121.3 22.7 121.9Z"/>
<path fill="#0cf0a8" fill-rule="evenodd" d="M25.2 118.8 24.5 118.0 22.9 117.3 22.9 116.6 23.2 116.2 24.3 115.8 25.0 115.3 24.7 115.0 23.5 115.4 23.1 115.1 23.0 114.1 24.2 112.3 24.4 111.6 24.0 110.9 22.6 110.8 23.2 110.1 24.0 110.1 25.2 109.1 26.0 107.1 27.0 107.2 27.5 108.1 29.6 109.8 30.2 110.9 31.2 111.6 30.2 112.1 29.5 113.0 29.5 114.6 29.7 115.3 29.2 116.0 29.2 116.8 29.0 117.0 28.5 116.8 27.4 116.8 25.2 118.8ZM27.2 112.3 27.4 112.1 27.2 111.6 26.5 111.6 26.4 112.3 26.7 112.5 27.2 112.3ZM16.0 116.2 15.0 116.3 13.7 115.4 13.0 115.7 12.8 115.6 12.5 114.6 13.2 113.6 13.3 112.6 15.7 112.8 16.7 112.1 17.5 112.9 18.5 113.1 18.9 114.3 19.9 115.1 19.5 116.0 18.5 115.6 17.7 115.5 16.0 116.2ZM17.2 119.7 17.0 119.8 16.8 119.6 17.5 118.7 17.7 119.3 17.2 119.7ZM22.5 121.8 22.1 121.6 22.5 121.4 22.5 121.8Z"/>
<path fill="#18ec78" fill-rule="evenodd" d="M25.2 118.7 24.2 117.8 23.0 117.3 23.2 116.6 25.2 115.3 25.2 115.1 24.7 114.8 23.5 115.1 23.1 114.8 23.1 114.1 24.3 112.3 24.5 111.6 24.4 111.1 24.0 110.7 23.0 110.7 22.9 110.6 23.2 110.2 24.0 110.2 24.6 109.8 25.7 108.3 25.8 107.3 26.5 107.2 27.0 107.3 27.5 108.2 29.5 109.8 30.2 110.9 31.1 111.6 30.1 112.1 29.5 112.8 29.4 114.6 29.6 115.1 29.2 115.8 29.1 116.8 29.0 117.0 28.5 116.8 27.2 116.8 25.2 118.7ZM27.0 112.6 27.5 112.2 27.5 111.7 27.0 111.3 26.5 111.4 26.1 111.8 26.2 112.3 26.5 112.6 27.0 112.6ZM15.7 116.2 15.0 116.2 13.7 115.3 13.0 115.6 12.6 114.6 13.2 113.8 13.5 112.6 15.7 112.9 16.7 112.2 17.7 113.1 18.5 113.1 18.9 114.3 19.7 115.1 19.5 116.0 18.5 115.5 17.5 115.5 15.7 116.2ZM17.5 119.5 17.2 119.6 17.0 119.3 17.5 119.0 17.5 119.5ZM17.0 119.7 16.8 119.6 17.0 119.3 17.2 119.6 17.0 119.7Z"/>
<path fill="#28e448" fill-rule="evenodd" d="M25.2 118.6 24.5 117.9 23.2 117.3 23.6 116.6 25.5 115.3 25.3 114.8 25.0 114.6 23.5 114.9 23.2 114.7 23.2 114.1 24.5 112.3 24.7 111.6 24.6 111.1 24.2 110.6 23.2 110.3 24.2 110.2 25.2 109.3 25.8 108.3 26.0 107.2 27.0 107.5 27.5 108.3 29.5 109.9 30.2 111.0 31.0 111.6 30.0 112.1 29.4 112.8 29.3 114.3 29.6 115.1 29.2 115.8 29.1 116.8 27.2 116.8 25.2 118.6ZM27.3 112.6 27.7 112.1 27.6 111.6 27.0 111.2 26.2 111.2 25.9 111.8 26.2 112.6 26.7 112.8 27.3 112.6ZM15.7 116.2 15.0 116.1 14.0 115.3 13.0 115.4 12.6 114.6 13.3 113.8 13.5 112.7 15.7 112.9 16.7 112.3 17.6 113.1 18.6 113.3 18.7 114.2 19.7 115.3 19.5 115.9 18.5 115.5 17.5 115.5 15.7 116.2ZM17.5 119.4 17.1 119.3 17.5 119.4ZM17.0 119.7 17.0 119.4 17.0 119.7Z"/>
<path fill="#48e424" fill-rule="evenodd" d="M25.5 118.3 25.2 118.5 24.5 117.8 23.4 117.3 23.8 116.6 25.6 115.6 25.6 114.8 24.7 114.4 23.5 114.6 23.3 114.3 23.5 113.8 24.9 111.8 24.9 111.1 24.2 110.3 25.5 109.1 26.0 107.3 27.0 107.7 27.4 108.3 29.5 109.9 30.2 111.1 30.9 111.6 30.0 112.0 29.4 112.8 29.3 114.3 29.5 115.1 29.0 116.8 27.2 116.7 25.5 118.3ZM27.1 112.8 27.7 112.3 27.7 111.5 26.7 110.9 26.0 111.0 25.7 111.6 25.9 112.3 26.5 112.9 27.1 112.8ZM15.7 116.1 15.2 116.1 14.0 115.2 13.0 115.2 12.7 114.6 13.3 113.8 13.5 112.7 15.7 113.0 16.7 112.4 17.5 113.1 18.5 113.3 18.7 114.3 19.6 115.3 19.5 115.8 18.7 115.5 17.7 115.4 15.7 116.1ZM17.0 119.6 17.0 119.6Z"/>
<path fill="#78ec0c" fill-rule="evenodd" d="M25.2 118.4 23.6 117.3 24.1 116.6 25.7 115.8 26.0 115.1 25.5 114.4 23.7 114.1 23.8 113.8 25.2 112.2 26.2 113.1 26.7 113.1 27.5 112.8 28.0 112.1 28.0 111.5 27.5 111.0 26.2 110.4 25.2 110.5 24.7 110.3 24.6 110.1 25.6 109.1 26.2 107.6 29.5 110.0 30.1 111.1 30.7 111.6 30.0 111.9 29.3 112.8 29.3 115.1 28.9 116.6 27.0 116.7 25.2 118.4ZM16.0 115.9 15.5 116.0 14.2 115.2 13.0 115.0 12.9 114.6 13.3 114.1 13.7 112.8 15.7 113.1 16.7 112.5 17.5 113.2 18.4 113.6 18.6 114.3 19.5 115.3 19.2 115.6 18.5 115.3 17.5 115.3 16.0 115.9Z"/>
<path fill="#acf000" fill-rule="evenodd" d="M25.5 118.1 25.2 118.3 23.8 117.3 24.4 116.6 25.7 116.0 26.2 115.6 26.0 114.4 24.8 113.8 24.6 113.3 25.2 112.7 26.2 113.4 27.0 113.3 27.8 112.8 28.3 112.1 28.2 111.6 27.7 110.9 26.5 110.1 25.2 110.0 25.0 109.8 26.2 107.9 28.0 108.9 29.4 110.1 30.4 111.6 29.5 112.3 29.2 112.8 29.1 114.8 28.7 116.5 27.0 116.6 25.5 118.1ZM15.7 115.9 13.0 114.6 13.5 113.9 13.7 112.9 15.7 113.2 16.7 112.6 17.5 113.3 18.4 113.6 18.5 114.3 19.4 115.3 19.2 115.5 17.5 115.2 15.7 115.9Z"/>
<path fill="#e3f000" fill-rule="evenodd" d="M25.2 118.2 24.0 117.3 24.1 117.1 24.7 116.5 26.2 116.0 26.5 115.3 26.2 113.8 28.0 112.8 28.4 112.1 28.3 111.3 27.7 110.7 26.5 109.8 25.5 109.7 26.2 108.1 28.0 109.0 29.5 110.3 30.2 111.6 29.1 112.8 28.7 116.3 26.7 116.6 25.2 118.2ZM16.5 115.6 15.7 115.7 13.3 114.6 13.7 113.0 15.7 113.2 16.7 112.8 17.5 113.3 18.2 113.5 18.5 114.3 19.1 115.1 19.0 115.3 17.5 115.2 16.5 115.6ZM25.5 113.6 25.2 113.6 25.2 113.3 25.7 113.6 25.5 113.6Z"/>
<path fill="#ffd800" fill-rule="evenodd" d="M28.2 116.3 27.1 116.3 26.8 116.1 26.5 114.3 26.8 113.8 28.5 112.6 28.6 111.8 28.2 111.0 26.7 109.3 25.7 109.4 26.2 108.4 27.0 109.1 28.0 109.0 29.4 110.3 30.1 111.6 29.1 112.6 29.0 114.3 28.2 116.3ZM16.5 115.6 15.2 115.3 13.5 114.4 13.7 113.1 15.5 113.3 16.7 112.9 17.5 113.4 18.2 113.6 18.8 115.1 17.5 115.1 16.5 115.6ZM25.2 118.1 24.1 117.3 24.2 117.1 25.0 116.5 26.2 116.4 26.4 116.8 25.2 118.1Z"/>
<path fill="#ffa800" fill-rule="evenodd" d="M29.2 112.2 27.5 109.8 27.7 109.2 29.2 110.2 29.9 111.3 30.0 111.6 29.2 112.2ZM29.0 112.8 29.0 112.8ZM16.5 115.4 15.0 115.0 13.6 114.3 13.8 113.3 14.0 113.2 15.7 113.4 16.7 113.0 18.0 113.6 18.6 114.8 16.5 115.4ZM28.0 116.1 27.5 116.1 27.1 115.8 26.8 114.3 27.1 113.8 28.7 112.8 28.8 114.3 28.0 116.1ZM25.5 117.9 25.2 118.1 24.3 117.3 24.3 117.1 25.0 116.6 26.0 116.6 26.1 117.1 25.5 117.9Z"/>
<path fill="#fd7400" fill-rule="evenodd" d="M29.5 111.8 28.8 111.3 27.9 109.8 28.0 109.4 29.3 110.3 29.8 111.3 29.8 111.6 29.5 111.8ZM17.0 115.1 16.5 115.3 14.2 114.6 13.7 114.2 13.9 113.3 15.7 113.4 16.7 113.1 18.0 113.7 18.3 114.8 17.0 115.1ZM28.0 115.6 27.5 115.7 27.2 115.4 27.1 114.3 27.5 113.8 28.5 113.4 28.7 114.1 28.0 115.6ZM25.5 117.9 25.2 117.9 24.4 117.3 24.5 117.1 25.2 116.7 25.9 116.8 26.0 117.1 25.5 117.9Z"/>
<path fill="#fa3c00" fill-rule="evenodd" d="M28.5 109.9 28.5 109.9ZM29.7 111.6 29.0 111.3 28.5 110.1 29.2 110.4 29.7 111.6ZM16.7 115.1 14.0 114.3 13.8 114.1 14.0 113.5 15.7 113.5 16.7 113.2 18.0 113.8 18.1 114.8 16.7 115.1ZM28.0 115.1 27.5 115.1 27.3 114.3 27.7 113.9 28.2 113.8 28.4 114.3 28.0 115.1ZM25.2 117.8 24.6 117.3 24.6 117.1 25.2 116.8 25.7 116.9 25.9 117.1 25.2 117.8Z"/>
<path fill="#f61700" fill-rule="evenodd" d="M29.5 111.4 29.0 110.8 29.0 110.4 29.5 111.4ZM17.5 114.8 16.7 115.0 14.7 114.5 14.2 114.2 14.0 113.8 14.2 113.6 16.7 113.4 18.0 113.8 18.0 114.7 17.5 114.8ZM25.5 117.6 25.2 117.7 24.7 117.3 24.8 117.1 25.7 117.1 25.5 117.6Z"/>
<path fill="#0808e8" fill-rule="evenodd" d="M52.1 126.6 50.6 126.3 49.4 125.3 49.1 125.3 48.1 126.3 47.1 126.3 46.6 125.8 46.1 125.8 45.9 125.3 45.4 125.1 44.1 124.8 43.4 123.3 42.9 123.3 42.6 123.6 40.9 122.1 41.6 121.1 40.4 119.8 40.1 118.1 39.6 117.6 39.6 117.3 40.6 116.3 41.9 116.1 42.9 114.3 44.1 113.8 44.9 114.3 45.6 113.8 45.9 113.6 45.9 112.8 45.6 112.6 45.9 112.3 46.4 112.3 46.9 113.3 46.9 112.8 46.4 112.1 45.9 112.3 45.1 112.1 44.9 111.6 43.9 111.1 43.9 110.6 44.6 110.1 45.1 110.8 45.9 111.1 45.6 110.1 45.9 109.6 47.1 108.6 48.1 108.8 48.1 107.1 49.1 105.8 49.1 104.8 49.9 104.1 50.4 104.1 50.9 103.3 51.4 103.3 52.1 104.3 52.6 104.3 53.1 105.6 54.4 105.6 54.6 105.3 55.6 105.3 55.9 105.6 55.6 106.1 55.9 106.3 55.9 107.1 55.4 107.8 55.4 108.3 56.4 109.1 56.1 109.6 56.1 111.8 55.6 112.6 54.4 113.3 54.4 113.8 54.1 114.1 53.6 114.3 51.4 114.3 50.4 114.8 50.4 115.6 51.1 117.1 51.1 117.6 51.6 118.1 52.9 118.3 53.4 118.8 54.1 118.8 55.1 118.1 55.6 118.6 55.9 120.3 56.4 120.6 56.1 120.3 56.1 119.1 56.9 118.6 57.4 117.8 58.4 117.6 57.9 117.1 58.4 116.6 58.4 116.1 60.4 114.3 60.9 114.6 62.1 116.1 62.1 117.1 61.4 117.8 60.1 118.3 60.9 119.3 61.1 120.1 60.1 120.6 59.6 120.6 59.1 121.1 57.4 121.1 57.1 121.3 57.1 121.8 57.4 122.1 56.9 123.3 57.1 124.1 56.9 124.3 56.6 124.1 56.9 124.3 56.6 124.8 56.4 125.1 56.1 124.8 55.4 125.1 55.1 125.6 54.4 126.1 53.9 126.1 53.6 126.3 52.4 126.3 52.1 126.6ZM50.9 115.1 50.6 114.8 50.9 114.6 51.1 114.8 50.9 115.1Z"/>
<path fill="#004cff" fill-rule="evenodd" d="M51.9 125.9 50.9 125.7 49.4 124.7 48.7 124.8 47.9 125.7 47.4 125.7 46.1 124.7 44.6 124.2 44.1 123.2 43.6 122.7 42.6 122.7 42.0 122.3 41.8 122.1 42.2 121.6 42.2 120.8 41.0 119.6 40.5 117.6 40.9 117.0 42.3 116.6 43.6 114.7 45.1 114.9 46.6 113.9 47.5 113.8 47.5 112.6 46.5 111.3 46.5 109.8 47.4 109.2 48.1 109.5 48.6 109.2 48.8 107.3 49.7 106.1 49.8 105.1 51.1 104.2 51.4 104.2 51.6 104.7 52.2 105.1 52.3 105.6 52.7 106.1 54.1 106.2 54.4 106.8 55.0 107.1 54.7 108.3 55.5 109.3 55.5 111.6 54.2 112.6 53.4 113.7 51.1 113.7 50.0 114.3 49.6 115.2 49.1 114.9 47.9 115.0 46.7 116.1 47.6 116.5 48.2 116.1 48.4 115.2 49.6 115.5 50.5 117.8 51.2 118.6 53.4 119.5 54.4 119.4 54.9 119.0 55.3 120.6 56.5 121.6 56.5 122.8 55.9 124.2 55.0 124.6 54.1 125.4 51.9 125.9ZM51.3 109.1 51.4 108.6 51.0 108.3 50.4 108.2 50.1 108.6 50.5 109.1 51.3 109.1ZM60.6 117.4 59.1 117.4 58.8 117.1 59.0 116.3 60.4 115.2 61.9 116.6 60.6 117.4ZM58.9 120.4 57.1 120.5 56.8 120.1 56.8 119.6 57.6 118.5 58.1 118.2 59.4 118.2 60.2 119.6 58.9 120.4ZM47.8 124.8 48.4 122.1 48.1 121.6 47.6 121.4 47.1 121.6 46.9 122.3 47.2 123.6 47.2 124.8 47.8 124.8Z"/>
<path fill="#0084ff" fill-rule="evenodd" d="M51.9 125.7 50.9 125.5 49.6 124.6 48.9 124.6 48.1 125.2 48.0 125.1 48.2 123.3 48.7 122.1 48.5 121.6 47.9 121.2 47.1 121.3 46.8 121.8 47.0 123.6 46.8 124.8 46.6 125.0 45.6 124.3 44.6 124.1 43.9 122.7 42.6 122.5 42.0 122.1 42.4 121.6 42.4 120.8 41.2 119.6 40.7 117.6 40.9 117.2 42.4 116.7 43.6 114.9 44.1 114.8 45.1 115.1 46.1 114.4 46.4 114.6 46.6 114.1 48.4 114.1 48.6 114.3 47.7 113.6 47.6 112.6 46.6 111.3 46.6 110.1 47.4 109.4 48.1 109.6 48.7 109.3 49.0 107.3 49.9 106.1 50.0 105.1 51.1 104.4 51.9 105.1 52.6 106.2 53.9 106.4 54.6 107.3 54.5 108.6 55.4 109.3 55.3 111.6 54.1 112.5 53.4 113.5 51.1 113.6 49.9 114.2 49.4 114.8 47.9 114.8 46.9 115.7 46.6 115.7 46.4 115.3 46.3 115.6 46.8 116.3 47.6 116.6 48.2 116.3 48.6 115.4 49.4 115.6 49.8 116.1 50.4 117.8 51.1 118.7 52.6 119.2 53.1 119.6 54.6 119.4 55.3 120.8 56.3 121.6 56.3 122.6 55.6 124.1 54.1 125.2 51.9 125.7ZM51.6 109.1 51.6 108.6 50.9 108.1 50.3 108.1 49.9 108.6 49.9 108.8 50.4 109.2 51.1 109.3 51.6 109.1ZM60.4 117.2 59.4 117.3 59.0 117.1 59.4 116.3 60.4 115.4 61.6 116.6 60.4 117.2ZM58.9 120.2 57.1 120.3 57.0 119.6 58.1 118.4 59.1 118.4 60.0 119.6 58.9 120.2ZM47.9 125.4 47.3 125.3 47.9 125.2 47.9 125.4Z"/>
<path fill="#00b4fb" fill-rule="evenodd" d="M49.4 114.6 47.8 113.6 47.8 112.6 46.8 111.1 46.8 110.1 47.4 109.7 48.4 109.8 48.9 109.4 49.1 107.6 49.9 106.3 50.1 105.2 51.1 104.7 51.9 105.3 52.1 105.8 52.6 106.4 53.9 106.5 54.1 106.8 54.2 107.6 53.9 108.8 54.1 109.1 54.6 109.0 55.1 109.5 55.2 111.3 53.2 113.3 51.1 113.4 49.9 114.0 49.4 114.6ZM51.5 109.3 51.9 108.8 51.6 108.3 50.6 107.9 49.9 108.2 49.9 109.1 51.5 109.3ZM46.9 115.5 46.6 115.5 46.4 115.1 46.8 114.3 48.1 114.3 48.7 114.6 47.6 114.8 46.9 115.5ZM53.1 125.4 51.6 125.5 49.4 124.4 48.4 124.7 48.3 123.3 49.0 122.1 48.5 121.3 47.9 121.0 47.1 121.1 46.6 121.8 46.6 122.6 46.9 123.6 46.6 124.5 44.9 124.0 44.4 123.1 43.9 122.5 42.2 122.1 42.6 121.6 42.6 120.8 41.4 119.4 41.0 117.3 42.5 116.8 43.4 115.3 43.9 115.0 45.1 115.3 46.1 114.6 46.4 116.1 47.4 116.7 48.1 116.6 48.6 115.6 49.4 115.8 50.3 118.1 51.0 118.8 53.1 119.8 54.6 119.7 55.1 120.8 56.2 121.8 56.2 122.6 55.7 123.8 54.8 124.3 54.1 125.0 53.1 125.4ZM60.1 117.1 59.3 117.1 59.3 116.6 60.4 115.7 61.3 116.6 60.1 117.1ZM58.6 120.1 57.4 120.1 57.1 119.8 57.9 118.8 59.1 118.5 59.7 119.6 58.6 120.1Z"/>
<path fill="#00dcf4" fill-rule="evenodd" d="M49.4 114.4 48.0 113.6 47.8 112.3 47.0 111.1 46.9 110.3 47.4 109.9 48.4 109.9 48.9 109.6 49.2 109.1 49.2 107.6 50.1 106.3 50.2 105.3 51.1 104.9 52.6 106.5 54.0 106.8 54.1 107.6 53.7 108.8 54.1 109.3 54.9 109.4 55.0 109.6 55.0 111.3 53.1 113.2 51.1 113.3 49.9 113.9 49.4 114.4ZM51.8 109.3 52.1 108.8 51.8 108.3 50.6 107.8 49.9 108.1 49.7 109.1 50.9 109.4 51.8 109.3ZM46.9 115.3 46.6 115.1 46.9 114.4 47.7 114.6 46.9 115.3ZM46.1 114.9 46.1 114.9ZM51.9 125.4 51.1 125.2 49.6 124.3 48.4 124.5 48.4 123.3 49.3 122.1 48.8 121.3 48.1 120.9 47.1 121.0 46.6 121.5 46.4 122.3 46.8 123.6 46.6 124.2 46.4 124.4 44.9 123.9 44.1 122.5 42.5 122.1 42.7 120.8 41.5 119.3 41.1 117.5 42.6 116.9 43.9 115.2 45.1 115.4 45.9 114.9 46.4 116.2 47.4 116.8 48.1 116.7 48.9 115.8 49.4 116.0 50.2 118.1 50.9 118.9 53.1 119.9 54.6 120.0 55.1 121.1 56.0 121.8 56.0 122.6 55.5 123.8 53.9 125.0 51.9 125.4ZM60.1 117.0 59.4 116.8 60.4 115.9 60.8 116.3 60.1 117.0ZM58.6 120.0 57.2 119.8 58.0 118.8 58.9 118.7 59.4 119.3 58.6 120.0Z"/>
<path fill="#04f0d8" fill-rule="evenodd" d="M49.4 114.2 48.1 113.4 47.9 112.3 47.1 111.1 47.0 110.3 47.4 110.1 48.4 110.0 49.1 109.6 49.3 109.1 49.3 107.6 50.1 106.5 50.3 105.3 51.1 105.0 52.5 106.6 53.9 106.8 53.9 107.6 53.5 108.8 54.1 109.5 54.9 109.6 54.9 111.3 53.9 112.1 53.1 113.1 51.1 113.2 49.4 114.2ZM52.0 109.3 52.2 108.6 50.9 107.8 50.1 107.8 49.5 108.6 49.5 109.1 50.1 109.3 51.4 109.5 52.0 109.3ZM46.9 115.1 46.7 114.8 46.8 114.6 47.5 114.6 46.9 115.1ZM53.1 125.1 51.6 125.3 49.6 124.2 48.6 124.3 48.4 124.1 48.5 123.3 49.3 122.6 49.4 122.1 48.9 121.2 48.1 120.8 47.1 120.8 46.6 121.3 46.2 122.3 46.6 123.6 46.5 124.1 46.4 124.2 45.0 123.8 44.1 122.4 42.8 122.1 42.8 120.8 41.6 119.3 41.2 117.6 42.6 117.0 43.9 115.3 45.1 115.5 45.9 115.0 46.4 116.3 47.4 116.9 48.1 116.8 48.9 115.9 49.1 116.0 50.1 118.2 50.9 119.0 53.1 120.0 54.4 120.0 54.9 121.1 55.9 121.8 55.9 122.6 55.6 123.6 54.0 124.8 53.1 125.1ZM59.9 116.9 59.6 116.8 60.4 116.0 60.6 116.3 59.9 116.9ZM43.7 118.6 43.9 118.1 43.6 117.9 43.0 118.6 43.4 118.7 43.7 118.6ZM47.8 118.8 47.4 118.4 47.1 118.6 47.4 119.0 47.8 118.8ZM58.6 119.9 57.3 119.8 58.1 118.9 58.9 118.8 59.3 119.3 58.6 119.9Z"/>
<path fill="#0cf0a8" fill-rule="evenodd" d="M49.4 114.0 48.2 113.3 48.2 112.6 47.2 111.1 47.2 110.6 47.4 110.3 47.9 110.3 48.9 109.9 49.4 109.1 51.4 109.6 52.4 109.1 52.4 108.6 52.2 108.3 50.9 107.7 50.1 107.7 49.6 108.2 49.5 108.1 49.4 107.6 50.4 106.1 50.4 105.6 51.1 105.1 52.4 106.6 53.9 107.1 53.2 108.8 53.9 109.5 54.8 109.8 54.8 111.3 53.8 112.1 53.1 113.0 51.1 113.1 49.4 114.0ZM46.9 115.0 46.9 114.7 47.0 114.8 46.9 115.0ZM51.9 125.2 51.1 125.0 49.7 124.1 48.5 124.1 48.7 123.3 49.6 122.3 49.4 121.6 48.4 120.6 47.1 120.7 46.6 121.1 46.1 122.3 46.5 123.6 46.4 124.1 45.1 123.8 44.2 122.3 42.9 122.0 42.9 120.8 41.7 119.3 41.3 117.6 42.7 117.1 43.9 115.4 44.9 115.6 45.6 115.4 46.6 116.7 47.4 117.1 48.1 116.9 48.9 116.0 49.1 116.1 50.1 118.3 50.8 119.1 53.1 120.1 54.4 120.1 54.9 121.1 55.8 121.8 55.8 122.6 55.4 123.7 54.6 124.0 53.9 124.8 51.9 125.2ZM60.4 116.3 60.4 116.3ZM60.1 116.6 60.1 116.6ZM43.5 118.8 44.1 118.3 44.0 117.8 43.4 117.8 42.9 118.3 42.9 118.9 43.5 118.8ZM47.7 119.3 48.0 119.1 48.0 118.6 47.6 118.1 47.1 118.1 46.8 118.3 46.9 118.9 47.1 119.2 47.7 119.3ZM58.6 119.8 57.9 119.8 57.7 119.6 58.1 119.0 58.6 118.9 59.1 119.3 58.6 119.8Z"/>
<path fill="#18ec78" fill-rule="evenodd" d="M52.9 108.5 50.6 107.5 50.1 107.5 49.6 108.0 49.5 107.6 50.4 106.3 50.6 105.4 51.1 105.2 52.4 106.7 53.8 107.1 53.5 107.8 52.9 108.5ZM49.4 114.0 48.3 113.3 48.1 111.8 47.3 111.1 47.4 110.5 48.1 110.5 49.4 109.3 51.6 109.7 52.9 108.9 53.9 109.7 54.6 109.9 54.8 111.3 53.1 112.8 50.9 113.1 49.4 114.0ZM53.1 125.0 51.6 125.1 49.9 124.1 48.6 124.1 48.8 123.3 49.8 122.3 49.4 121.3 48.4 120.4 47.1 120.5 46.6 120.8 45.9 122.3 46.4 123.8 45.1 123.7 44.2 122.3 42.9 121.8 42.9 120.6 41.7 119.3 41.4 117.6 42.7 117.1 43.9 115.4 44.9 115.6 45.6 115.4 46.4 116.6 47.4 117.3 48.1 117.1 49.1 116.2 49.9 118.1 50.8 119.1 52.9 120.1 54.4 120.2 54.9 121.2 55.8 121.8 55.8 122.6 55.4 123.6 53.9 124.7 53.1 125.0ZM43.3 119.1 44.2 118.3 44.3 118.1 44.1 117.7 43.4 117.7 42.7 118.3 42.7 119.1 43.3 119.1ZM47.9 119.6 48.3 119.1 48.1 118.3 47.6 117.9 46.9 117.9 46.6 118.3 46.9 119.2 47.4 119.6 47.9 119.6ZM58.6 119.7 57.7 119.6 58.4 119.0 58.7 119.1 58.6 119.7Z"/>
<path fill="#28e448" fill-rule="evenodd" d="M52.9 108.1 50.6 107.3 49.9 107.5 50.6 105.5 51.1 105.3 52.4 106.7 53.7 107.1 53.4 107.8 52.9 108.1ZM49.6 107.8 49.8 107.6 49.6 107.8ZM49.4 113.9 48.4 113.3 48.2 111.1 49.4 109.5 51.6 109.8 52.9 109.4 54.6 110.0 54.7 111.3 53.1 112.7 52.6 112.9 50.9 113.0 49.4 113.9ZM46.1 123.8 45.1 123.7 44.3 122.3 43.0 121.8 42.9 120.6 41.8 119.3 41.6 118.3 41.5 117.6 42.8 117.1 43.9 115.5 44.9 115.7 45.6 115.5 46.8 117.3 46.4 118.3 47.1 120.1 46.5 120.8 45.6 122.6 46.1 123.8ZM53.1 124.9 51.4 125.0 49.9 124.0 48.7 123.8 49.0 123.3 49.8 122.8 49.9 122.3 49.7 121.6 48.5 119.8 48.5 118.6 48.1 117.6 49.1 116.2 49.9 118.2 50.7 119.1 52.9 120.1 54.4 120.2 54.9 121.3 55.7 121.8 55.7 122.6 55.4 123.5 53.9 124.7 53.1 124.9ZM43.2 119.3 44.4 118.3 44.5 117.8 44.2 117.6 43.4 117.6 42.5 118.3 42.4 119.1 42.6 119.4 43.2 119.3ZM58.4 119.6 57.8 119.6 58.4 119.1 58.4 119.6Z"/>
<path fill="#48e424" fill-rule="evenodd" d="M52.9 107.9 51.9 107.7 50.6 107.1 50.1 107.2 50.6 105.5 51.1 105.4 52.4 106.8 53.5 107.1 53.4 107.6 52.9 107.9ZM49.9 107.3 49.9 107.3ZM49.6 113.6 48.9 113.6 48.4 111.3 48.8 110.3 49.4 109.7 50.1 109.6 51.9 110.0 53.1 109.8 54.6 110.2 54.6 111.3 53.1 112.6 52.6 112.9 50.9 113.0 49.6 113.6ZM45.9 123.6 45.1 123.6 45.0 123.1 44.4 122.3 43.1 121.8 43.0 120.6 42.5 119.8 44.3 118.6 44.8 117.8 44.4 117.5 43.6 117.4 41.9 118.5 41.6 118.2 41.6 117.6 42.9 117.1 43.9 115.6 45.6 115.8 46.3 117.1 46.1 118.1 46.7 120.1 45.3 122.6 45.9 123.6ZM53.1 124.8 51.6 125.0 49.9 124.0 48.9 123.8 49.9 123.0 50.1 122.3 48.8 119.3 48.5 117.6 49.1 116.4 49.9 118.3 50.6 119.1 52.9 120.2 54.4 120.3 54.8 121.3 55.6 121.9 55.4 123.3 53.9 124.6 53.1 124.8ZM58.1 119.6 58.1 119.3 58.1 119.6Z"/>
<path fill="#78ec0c" fill-rule="evenodd" d="M52.9 107.6 52.1 107.6 51.2 107.1 50.7 106.3 50.8 105.6 51.1 105.5 52.1 106.7 53.1 107.2 53.2 107.3 52.9 107.6ZM49.9 113.4 49.4 113.4 49.1 113.1 48.7 111.8 48.8 110.8 49.4 109.9 50.6 109.8 52.0 110.3 52.6 110.8 53.4 110.3 54.4 110.4 54.5 110.6 54.5 111.3 53.1 112.4 52.4 112.8 50.9 112.9 49.9 113.4ZM45.6 117.7 43.9 117.2 43.1 117.3 43.0 117.1 43.9 115.7 45.4 115.8 46.0 117.1 45.6 117.7ZM51.9 124.9 51.4 124.8 49.4 123.6 50.1 123.1 50.3 122.3 49.1 119.3 48.9 117.6 49.1 116.8 49.8 118.3 50.9 119.4 52.9 120.3 53.9 120.4 54.4 121.1 55.6 122.1 55.3 123.3 53.9 124.4 51.9 124.9ZM42.9 117.4 43.1 117.3 42.9 117.4ZM42.6 117.6 42.4 117.8 42.2 117.6 42.6 117.6ZM42.1 117.8 42.1 117.8ZM44.6 122.4 43.2 121.6 42.8 120.1 45.4 117.9 46.1 118.8 46.4 119.8 45.8 121.6 44.6 122.4Z"/>
<path fill="#acf000" fill-rule="evenodd" d="M52.9 107.4 52.4 107.4 51.6 107.1 51.1 106.1 51.4 105.9 52.1 106.9 52.9 107.4ZM50.1 113.1 49.4 112.8 48.9 111.6 49.1 110.3 49.9 109.8 51.5 110.3 52.7 111.8 52.4 112.6 50.1 113.1ZM53.9 111.6 53.3 111.6 53.5 110.8 54.4 110.7 54.4 111.3 53.9 111.6ZM45.4 117.2 43.4 116.8 43.9 115.9 44.1 115.8 45.4 116.1 45.6 116.8 45.4 117.2ZM49.4 118.2 49.4 117.5 49.4 118.2ZM53.1 124.6 51.6 124.8 50.1 123.8 50.5 123.1 50.5 122.3 49.4 118.3 49.6 118.3 50.1 119.1 50.8 119.6 53.9 120.5 54.2 121.3 55.4 122.1 55.2 123.3 53.1 124.6ZM45.1 121.9 44.4 122.0 43.5 121.6 43.1 120.3 44.1 119.1 45.4 118.4 45.9 118.8 46.2 119.8 45.7 121.3 45.1 121.9Z"/>
<path fill="#e3f000" fill-rule="evenodd" d="M51.9 107.1 51.5 106.6 52.0 106.8 51.9 107.1ZM52.1 107.2 51.9 107.1 52.4 107.1 52.1 107.2ZM52.1 112.6 50.4 112.8 49.6 112.6 49.1 111.3 49.4 110.2 50.1 109.9 51.3 110.3 52.3 111.8 52.1 112.6ZM45.1 116.9 43.6 116.6 44.1 115.8 45.1 116.0 45.3 116.6 45.1 116.9ZM44.6 121.9 44.1 121.8 43.5 121.3 43.2 120.3 44.1 119.2 45.4 118.6 46.0 119.3 45.9 120.3 45.6 121.3 44.6 121.9ZM52.9 124.6 51.6 124.6 50.8 123.6 50.3 120.6 50.4 119.9 52.1 120.0 53.7 120.6 54.1 121.5 55.4 122.2 55.1 123.3 53.6 124.4 52.9 124.6Z"/>
<path fill="#ffd800" fill-rule="evenodd" d="M51.9 112.6 50.7 112.6 49.6 112.1 49.2 111.3 49.4 110.3 50.1 110.0 51.0 110.3 52.1 112.1 51.9 112.6ZM44.9 116.7 44.1 116.6 43.8 116.3 44.1 115.9 44.9 116.1 44.9 116.7ZM44.9 121.6 44.4 121.7 43.7 121.3 43.4 120.3 44.4 119.1 45.4 118.8 45.8 119.3 45.8 120.1 45.6 121.1 44.9 121.6ZM52.9 124.6 51.9 124.6 51.6 123.8 51.0 123.1 50.6 121.1 50.6 120.5 50.9 120.3 52.1 120.1 53.4 120.6 53.9 121.6 55.3 122.3 55.0 123.3 53.6 124.3 52.9 124.6Z"/>
<path fill="#ffa800" fill-rule="evenodd" d="M51.6 112.4 50.9 112.3 50.6 111.8 49.6 111.7 49.3 111.1 49.6 110.2 50.4 110.1 51.1 110.6 51.8 112.1 51.6 112.4ZM44.4 116.3 44.1 116.1 44.4 116.1 44.5 116.3 44.4 116.3ZM45.1 121.4 44.1 121.4 43.5 120.6 44.0 119.6 45.1 119.0 45.6 119.3 45.7 119.8 45.5 120.8 45.1 121.4ZM53.4 124.3 52.9 124.5 52.2 124.3 51.9 123.6 51.1 122.7 50.8 121.3 51.0 120.6 52.1 120.3 53.1 120.7 53.9 121.8 55.1 122.4 54.9 123.3 53.4 124.3Z"/>
<path fill="#fd7400" fill-rule="evenodd" d="M50.6 111.5 49.6 111.4 49.5 110.8 49.7 110.3 50.4 110.2 50.9 110.6 51.0 111.1 50.6 111.5ZM44.9 121.3 44.4 121.4 43.9 121.1 43.7 120.3 44.1 119.6 45.1 119.1 45.5 119.3 45.6 120.1 45.4 120.9 44.9 121.3ZM53.1 124.4 52.5 124.3 52.1 123.3 51.2 122.3 51.0 121.3 51.4 120.7 52.7 120.6 53.2 120.8 53.5 121.8 54.6 122.2 55.0 122.6 54.9 123.2 53.1 124.4Z"/>
<path fill="#fa3c00" fill-rule="evenodd" d="M50.1 111.3 49.6 110.8 50.1 110.3 50.6 110.5 50.8 110.8 50.6 111.1 50.1 111.3ZM44.9 121.2 44.1 121.1 43.8 120.3 44.1 119.7 44.9 119.3 45.2 119.3 45.4 119.8 45.3 120.8 44.9 121.2ZM53.6 124.1 52.9 124.3 52.3 123.1 51.4 122.3 51.2 121.6 51.4 121.0 52.1 120.7 52.8 120.8 53.4 122.0 54.9 122.6 54.9 123.1 53.6 124.1Z"/>
<path fill="#f61700" fill-rule="evenodd" d="M50.1 111.1 49.8 110.8 50.1 110.5 50.5 110.8 50.1 111.1ZM44.9 121.0 44.1 120.9 43.9 120.3 44.2 119.8 44.9 119.5 45.2 119.6 45.3 120.1 44.9 121.0ZM53.4 124.1 52.9 123.8 52.4 122.6 51.5 122.1 51.4 121.6 51.8 121.1 52.7 121.1 53.1 122.3 54.6 122.6 54.7 123.1 53.4 124.1Z"/>
<path fill="#0808e8" fill-rule="evenodd" d="M81.1 126.6 80.3 126.6 80.1 126.3 78.6 126.6 77.1 124.3 76.1 123.6 75.3 123.3 75.1 122.8 73.8 122.6 72.6 121.6 72.8 121.1 72.8 120.1 72.6 119.8 70.8 119.8 69.8 119.1 69.8 118.6 69.3 118.1 69.6 116.8 70.3 116.3 70.6 115.8 70.6 115.3 70.3 115.1 71.1 113.8 71.1 113.3 71.8 112.6 72.6 112.6 73.1 113.3 73.6 113.3 73.8 113.1 75.3 113.1 75.6 113.3 76.1 113.3 76.3 113.8 76.8 113.8 76.8 113.3 76.3 112.8 75.8 112.6 74.8 112.6 73.6 111.1 72.8 110.8 72.3 110.1 73.3 109.6 73.3 109.3 74.3 108.3 75.3 108.3 76.1 107.8 75.8 107.3 75.8 106.8 76.1 106.6 75.8 106.3 76.1 106.1 75.8 105.8 76.6 105.1 77.1 105.3 78.1 105.1 79.3 104.1 80.3 104.1 80.6 104.3 81.6 104.3 81.8 104.6 83.1 104.6 83.3 104.3 83.8 105.1 84.3 105.1 84.8 105.6 85.3 105.3 87.1 106.6 87.6 107.1 87.6 107.6 87.8 107.8 88.8 107.8 89.3 108.3 89.3 108.8 89.1 109.1 89.3 109.3 89.3 110.3 88.8 110.8 88.3 110.8 88.1 111.1 87.8 110.8 87.6 111.1 86.8 110.8 86.6 111.1 86.1 111.1 85.6 111.6 84.6 111.6 82.6 113.1 82.1 113.8 83.1 114.6 83.1 115.1 82.3 115.6 83.3 116.1 84.1 116.1 84.6 115.6 85.8 115.8 86.6 116.8 86.6 117.8 87.6 117.8 88.1 117.3 90.6 117.1 91.1 118.1 91.1 119.8 90.8 120.1 90.6 119.8 90.1 119.8 89.8 120.3 89.8 121.3 88.6 122.6 88.1 122.3 87.1 122.3 86.6 122.6 86.3 123.1 85.8 123.1 85.6 122.8 85.1 123.1 83.6 124.3 83.6 125.6 83.3 125.8 82.1 125.8 81.1 126.6ZM77.1 107.3 77.3 107.1 77.8 107.1 77.8 106.6 77.3 106.8 77.1 107.3Z"/>
<path fill="#004cff" fill-rule="evenodd" d="M80.8 125.9 80.1 125.7 78.8 125.9 77.5 123.8 75.3 122.2 74.1 121.9 73.4 121.3 73.4 119.8 73.0 119.3 71.1 119.2 70.0 117.8 70.2 117.1 70.8 116.7 71.2 116.1 71.2 115.1 72.1 113.2 73.1 114.0 75.1 113.7 75.7 114.1 75.8 114.7 77.3 114.2 77.5 113.3 77.2 112.8 76.1 112.0 75.1 111.9 74.0 110.6 73.5 110.3 74.6 109.0 75.6 108.9 76.8 107.9 78.2 107.6 78.5 107.1 78.4 106.3 77.7 105.8 79.8 104.7 81.3 105.0 81.8 105.3 81.0 106.1 81.5 106.6 82.3 106.5 83.3 105.5 84.6 106.2 85.8 106.5 86.9 107.3 87.0 107.8 87.6 108.4 88.7 108.6 88.2 109.3 88.5 110.1 88.3 110.2 86.6 110.2 85.3 110.9 83.8 111.2 82.1 112.7 81.3 113.9 79.8 113.0 78.8 113.0 78.7 113.1 79.2 113.3 79.3 114.0 79.6 114.2 80.8 114.2 81.3 114.7 81.8 114.7 81.7 115.8 82.3 116.4 83.3 116.7 84.3 116.7 84.8 116.2 85.6 116.5 85.9 117.1 86.0 118.1 86.3 118.4 87.6 118.5 88.3 118.0 90.1 117.7 90.4 118.6 90.4 119.1 89.5 119.6 89.2 121.1 88.6 121.7 86.8 121.7 86.1 122.2 84.8 122.5 83.1 123.9 82.8 125.1 81.8 125.2 80.8 125.9ZM76.8 106.4 76.8 105.9 77.2 106.1 76.8 106.4ZM75.5 115.3 75.6 115.0 75.3 114.7 75.1 115.1 75.3 115.5 75.5 115.3ZM77.5 115.3 78.2 114.8 77.1 114.7 75.9 115.1 76.6 115.5 77.5 115.3Z"/>
<path fill="#0084ff" fill-rule="evenodd" d="M81.3 113.6 80.3 113.2 79.8 112.8 77.3 112.5 76.1 111.8 75.1 111.7 73.8 110.3 74.6 109.2 75.6 109.1 76.3 108.7 76.8 108.1 78.3 107.7 78.6 107.1 78.3 105.8 79.8 104.9 81.5 105.3 80.8 106.0 81.1 106.6 82.3 106.7 83.3 105.7 85.8 106.7 87.3 108.4 88.2 108.8 88.0 109.3 88.1 110.0 86.6 110.1 85.3 110.7 83.8 111.1 82.3 112.2 81.3 113.6ZM80.8 125.7 78.8 125.6 77.6 123.7 75.6 122.2 74.1 121.7 73.6 121.3 73.6 119.8 73.1 119.2 71.3 119.0 70.7 118.6 70.2 117.8 71.3 116.1 71.3 115.1 72.1 113.4 72.8 114.1 74.3 113.9 75.3 114.1 74.8 114.8 75.1 115.8 75.3 115.9 75.8 115.3 76.3 115.6 77.3 115.6 78.4 114.8 77.4 114.3 77.6 113.8 77.4 112.8 78.1 112.6 79.5 114.3 80.8 114.4 81.3 114.8 81.6 115.1 81.6 115.8 82.3 116.6 83.3 116.9 84.3 116.8 84.8 116.4 85.3 116.6 85.7 117.1 85.8 118.1 86.3 118.6 87.6 118.6 88.6 118.1 90.1 118.1 90.3 118.8 89.5 119.3 89.1 120.1 89.0 121.1 88.6 121.5 86.8 121.6 84.8 122.3 83.0 123.8 82.6 125.0 81.8 125.1 80.8 125.7ZM79.1 114.6 79.1 114.6Z"/>
<path fill="#00b4fb" fill-rule="evenodd" d="M81.3 113.2 80.6 113.1 79.8 112.6 77.3 112.4 76.1 111.6 75.2 111.6 74.2 110.3 74.3 109.7 74.7 109.3 75.6 109.3 77.0 108.3 78.4 107.8 78.8 107.1 78.7 105.8 79.8 105.0 81.2 105.3 80.6 106.1 81.1 106.7 82.1 106.8 83.3 105.9 83.8 106.0 85.7 106.8 86.6 107.6 87.2 108.6 87.9 108.8 87.9 109.8 86.6 109.9 85.1 110.6 84.3 110.6 83.6 111.0 82.2 112.1 81.3 113.2ZM80.8 110.8 80.7 110.3 80.3 110.3 80.3 110.8 80.8 110.8ZM78.6 114.7 77.7 114.3 77.8 112.8 78.8 113.5 79.2 114.3 78.6 114.7ZM80.8 125.5 79.1 125.5 77.7 123.6 75.6 122.0 73.9 121.3 73.8 119.8 73.2 119.1 71.3 118.9 70.8 118.5 70.4 117.8 70.5 117.3 71.1 116.9 71.5 116.1 71.5 115.1 72.1 113.7 73.1 114.3 74.7 114.1 74.7 115.1 75.3 116.9 75.8 115.7 77.3 115.8 78.8 114.7 80.6 114.5 81.4 115.1 81.4 115.8 82.1 116.6 83.3 117.0 84.3 117.0 84.8 116.7 85.3 116.8 85.8 118.3 86.3 118.8 87.8 118.8 88.6 118.3 89.8 118.3 90.1 118.5 90.1 118.8 89.3 119.3 88.9 120.1 88.8 120.9 88.5 121.3 86.8 121.4 84.6 122.3 82.8 123.7 82.5 124.8 81.8 124.9 80.8 125.5ZM76.6 118.1 76.8 117.3 76.3 117.1 75.9 117.3 76.0 117.6 76.6 118.1ZM77.9 120.1 78.0 119.8 77.6 119.7 77.6 120.0 77.9 120.1Z"/>
<path fill="#00dcf4" fill-rule="evenodd" d="M81.1 113.1 79.8 112.5 77.3 112.2 76.2 111.6 75.3 111.5 74.3 110.1 74.8 109.4 75.8 109.3 77.1 108.4 78.6 107.9 78.9 107.3 78.9 105.8 79.8 105.2 80.6 105.6 80.4 106.3 81.0 106.8 82.3 106.8 83.3 106.1 85.6 106.9 87.6 109.1 87.6 109.7 86.6 109.8 85.1 110.5 84.3 110.5 83.6 110.9 81.1 113.1ZM84.5 109.6 84.6 109.3 84.3 109.3 84.0 109.6 84.5 109.6ZM81.0 111.1 81.0 110.3 80.6 110.0 80.1 110.1 80.0 110.6 80.3 111.2 81.0 111.1ZM78.8 114.4 78.6 114.5 77.9 114.1 78.1 113.1 78.7 113.6 78.8 114.4ZM80.6 125.4 79.1 125.4 77.8 123.5 75.6 121.9 74.1 121.3 73.9 119.8 73.3 119.0 72.8 118.8 71.3 118.7 70.9 118.3 70.6 117.6 71.5 116.3 71.6 115.1 72.1 114.2 72.3 114.1 73.1 114.4 74.3 114.3 74.9 117.1 76.6 118.4 76.9 118.1 76.9 117.3 76.8 117.0 75.9 116.6 76.0 115.8 77.3 115.9 78.8 114.9 80.6 114.7 81.2 115.1 81.4 116.1 82.1 116.8 83.3 117.2 85.2 116.8 85.5 117.3 85.6 118.3 86.1 118.8 87.8 118.9 88.6 118.4 89.8 118.4 90.0 118.6 89.1 119.3 88.8 120.1 88.7 120.8 88.3 121.3 86.8 121.3 86.3 121.5 85.6 121.3 82.8 123.6 82.3 124.7 80.8 125.1 80.6 125.4ZM77.9 120.3 78.3 119.8 77.6 119.3 77.3 119.6 77.3 120.1 77.9 120.3ZM80.1 124.1 79.8 123.6 79.3 123.8 80.1 124.1ZM81.1 124.8 80.8 124.4 80.3 124.3 80.6 124.9 80.8 125.1 81.1 124.8Z"/>
<path fill="#04f0d8" fill-rule="evenodd" d="M81.3 112.9 80.6 112.9 79.8 112.4 77.3 112.1 76.3 111.5 75.3 111.4 74.4 110.1 74.8 109.5 75.6 109.5 77.1 108.5 78.6 108.0 79.0 107.3 78.9 106.1 79.8 105.3 80.4 105.6 80.2 106.3 80.8 106.9 82.3 106.9 83.3 106.2 85.3 106.9 87.4 109.1 87.3 109.6 86.6 109.7 85.1 110.4 84.3 110.4 83.4 110.8 82.1 111.9 81.3 112.9ZM84.4 109.8 85.0 109.3 84.8 109.1 84.3 109.1 83.6 109.6 83.8 109.9 84.4 109.8ZM81.1 111.3 81.4 110.8 81.2 110.3 80.6 109.8 80.1 109.8 79.9 110.3 80.1 111.1 80.6 111.6 81.1 111.3ZM78.6 114.4 78.0 114.1 78.1 113.3 78.7 113.8 78.6 114.4ZM80.1 125.1 79.1 125.2 78.5 124.1 77.8 123.4 75.6 121.7 74.3 121.3 74.0 121.1 74.0 119.8 73.3 118.9 72.8 118.7 71.3 118.6 71.0 118.3 70.8 117.6 71.6 116.5 71.8 115.1 72.2 114.3 74.2 114.6 74.7 115.8 74.8 117.3 76.6 118.6 76.8 118.6 77.0 118.3 77.1 117.3 76.8 116.7 76.1 116.3 76.1 116.1 77.3 116.0 79.6 114.8 80.6 114.8 81.1 115.3 81.4 116.3 82.3 117.0 84.1 117.3 85.1 116.9 85.4 117.3 85.6 118.5 86.3 119.0 87.8 119.0 88.6 118.5 89.9 118.6 89.1 119.2 88.7 120.1 88.6 120.8 88.3 121.1 86.8 121.2 86.3 121.4 86.1 121.0 85.6 121.2 82.6 123.6 82.3 124.6 81.6 124.7 79.8 123.3 79.3 123.4 78.6 123.8 78.7 124.1 79.8 124.4 80.3 125.1 80.1 125.1ZM84.3 118.6 84.3 118.6ZM78.2 120.3 78.4 119.8 78.1 119.3 77.3 119.1 77.1 119.3 77.3 120.4 77.8 120.5 78.2 120.3ZM76.2 121.3 75.8 121.1 75.6 121.3 76.2 121.3Z"/>
<path fill="#0cf0a8" fill-rule="evenodd" d="M81.1 112.9 79.8 112.3 77.3 112.0 76.6 111.4 75.3 111.3 74.5 110.1 74.8 109.6 75.6 109.6 77.1 108.6 78.6 108.1 79.1 107.3 79.0 106.1 79.6 105.5 80.0 105.6 80.0 106.3 80.6 106.9 82.1 107.0 83.3 106.3 85.1 106.9 85.7 107.3 87.1 109.1 87.1 109.3 85.1 110.3 84.2 110.1 85.1 109.6 85.3 109.3 85.1 109.0 84.3 109.0 83.5 109.3 83.3 109.6 83.5 110.1 84.3 110.3 83.3 110.7 81.1 112.9ZM80.6 111.8 81.6 111.1 81.6 110.6 80.9 109.8 80.1 109.6 79.7 110.1 79.8 110.8 80.2 111.6 80.6 111.8ZM78.6 114.2 78.4 114.1 78.6 113.9 78.6 114.2ZM82.1 124.5 81.6 124.5 79.8 123.2 78.3 123.7 75.9 121.8 76.5 121.3 76.3 120.9 75.6 120.9 75.1 121.4 74.3 121.3 74.1 121.1 74.1 119.8 73.4 118.8 72.8 118.6 71.3 118.5 71.1 118.3 70.9 117.6 71.8 116.1 71.9 115.1 72.3 114.4 72.8 114.6 74.1 114.6 74.6 115.8 74.6 117.3 76.6 118.8 77.0 120.3 77.3 120.7 78.1 120.6 78.5 119.8 78.2 119.3 77.3 118.8 76.8 116.3 79.6 114.9 80.6 114.9 81.0 115.3 81.3 116.4 82.3 117.1 84.1 117.4 85.1 117.0 85.5 118.6 86.3 119.1 87.8 119.1 88.6 118.6 89.3 118.8 88.6 120.0 88.5 120.8 88.3 121.0 86.6 121.2 86.3 120.8 85.8 120.9 83.5 122.6 82.6 123.5 82.1 124.5ZM84.6 118.8 84.8 118.6 84.6 118.3 83.8 118.3 83.9 118.8 84.6 118.8ZM86.9 120.1 86.7 120.1 86.9 120.1ZM79.8 124.9 79.1 125.0 78.7 124.6 79.3 124.5 79.8 124.9Z"/>
<path fill="#18ec78" fill-rule="evenodd" d="M81.1 112.8 80.1 112.3 80.8 112.0 81.9 110.8 81.4 110.1 80.6 109.5 80.1 109.4 79.6 109.8 79.8 111.2 80.3 112.1 80.1 112.3 77.3 111.9 76.6 111.1 75.3 111.2 74.6 110.1 74.8 109.7 75.8 109.6 77.1 108.7 78.7 108.1 79.1 107.6 79.1 106.1 79.3 106.0 80.1 106.8 80.6 107.1 82.1 107.1 83.6 106.4 85.3 107.1 86.1 108.2 86.8 108.8 86.6 109.3 85.6 109.8 85.6 109.1 84.8 108.7 83.3 109.3 83.1 109.8 83.5 110.6 81.1 112.8ZM85.1 110.2 84.5 110.1 85.3 109.7 85.6 109.8 85.1 110.2ZM75.1 121.3 74.2 121.1 74.1 119.6 73.4 118.8 72.8 118.5 71.3 118.5 71.1 118.1 71.0 117.6 71.8 116.3 71.9 115.1 72.3 114.4 74.1 114.8 74.5 115.8 74.4 117.3 75.8 118.3 76.6 119.3 76.6 120.6 75.3 120.8 75.1 121.3ZM82.1 124.3 81.6 124.2 79.8 123.0 78.1 123.4 76.1 121.8 77.1 121.1 78.1 120.7 78.6 120.1 78.4 119.3 77.3 118.6 77.1 116.3 79.6 114.9 80.6 114.9 81.0 115.3 81.2 116.3 82.1 117.1 83.8 117.4 85.1 117.1 85.4 118.6 86.3 119.2 87.8 119.1 88.8 118.6 89.2 118.8 88.6 119.8 88.3 121.0 86.6 120.8 87.4 120.1 87.1 119.6 86.6 119.6 86.0 120.6 84.5 121.6 84.5 121.8 82.6 123.5 82.1 124.3ZM84.4 119.1 85.1 118.6 84.4 118.1 83.8 118.1 83.6 118.3 83.7 118.8 84.4 119.1ZM79.6 124.8 79.0 124.8 79.1 124.6 79.6 124.8Z"/>
<path fill="#28e448" fill-rule="evenodd" d="M79.8 112.1 78.8 112.2 77.4 111.8 76.8 111.0 75.3 111.1 74.6 110.1 74.8 109.8 75.8 109.6 77.1 108.8 78.8 108.1 79.1 107.6 79.3 106.4 80.3 107.3 82.3 107.1 83.6 106.5 85.5 107.3 85.6 108.3 82.9 109.3 82.9 110.3 82.6 110.8 80.3 109.2 79.6 109.3 79.5 110.1 79.8 112.1ZM85.1 110.1 84.9 110.1 85.1 110.1ZM81.1 112.7 80.7 112.6 81.3 111.8 82.3 111.2 82.5 111.3 81.1 112.7ZM74.8 121.1 74.3 121.1 74.1 119.6 73.5 118.8 72.8 118.5 71.6 118.4 71.2 118.1 72.3 114.5 73.8 114.8 74.1 115.0 74.4 116.1 74.3 117.6 75.8 118.5 76.4 119.3 76.3 120.3 75.1 120.8 74.8 121.1ZM82.1 124.0 81.6 124.0 79.8 122.9 77.8 123.1 76.3 122.1 78.7 120.3 78.8 119.8 78.6 119.3 77.4 118.3 77.3 116.6 77.7 116.1 79.6 115.0 80.3 115.0 80.8 115.2 81.2 116.3 82.1 117.1 83.8 117.5 85.1 117.2 85.1 118.2 84.1 117.8 83.5 118.1 83.4 118.6 83.8 119.2 84.3 119.3 85.6 118.8 86.2 119.3 85.7 120.6 83.9 121.6 84.1 122.1 83.4 122.6 82.1 124.0ZM88.3 120.9 87.0 120.8 87.7 120.1 87.1 119.3 88.8 118.7 89.1 118.8 88.5 119.8 88.3 120.9Z"/>
<path fill="#48e424" fill-rule="evenodd" d="M79.6 112.1 77.7 111.8 77.3 111.1 76.8 110.8 75.3 111.0 74.7 110.1 78.6 108.3 79.2 107.6 79.3 106.8 80.1 107.6 82.3 107.2 83.6 106.5 85.3 107.3 85.3 108.1 82.9 109.1 82.3 110.0 80.1 108.9 79.6 109.0 79.3 109.8 79.7 112.1 79.6 112.1ZM82.1 111.6 82.1 111.6ZM81.6 111.9 81.6 111.9ZM81.3 112.3 81.3 112.0 81.3 112.3ZM81.1 112.6 81.1 112.6ZM74.6 121.1 74.3 120.8 74.2 119.6 73.6 118.8 72.8 118.4 71.6 118.4 71.2 118.1 72.3 114.6 73.6 114.8 73.9 115.1 74.3 116.1 74.1 117.6 75.6 118.5 76.2 119.3 76.2 120.1 74.8 120.6 74.6 121.1ZM81.8 123.8 80.1 122.8 78.1 122.9 76.8 122.3 76.8 122.1 78.7 120.6 79.0 120.1 78.7 119.3 77.5 118.3 77.5 116.3 79.6 115.1 80.3 115.0 80.8 115.3 81.1 116.3 82.1 117.2 83.8 117.5 85.1 117.3 85.1 118.0 83.8 117.7 83.5 117.8 83.2 118.3 83.3 118.8 83.8 119.4 85.3 119.2 85.8 119.4 85.8 120.1 85.3 120.7 82.7 121.6 82.6 121.8 82.8 122.1 83.8 122.1 81.8 123.8ZM88.1 120.9 87.3 120.8 88.1 120.3 87.4 119.3 89.0 118.8 88.1 120.9Z"/>
<path fill="#78ec0c" fill-rule="evenodd" d="M81.8 109.4 81.3 109.3 80.6 108.8 80.4 108.3 80.8 107.7 82.3 107.4 83.6 106.7 85.1 107.3 85.1 107.8 84.8 108.1 81.8 109.4ZM79.3 111.9 78.2 111.8 77.1 110.6 75.3 110.9 74.8 110.1 78.6 108.4 79.3 107.8 79.3 107.5 79.5 108.1 79.0 109.3 79.3 111.9ZM75.6 120.1 74.6 120.2 74.2 119.3 73.5 118.6 71.4 118.1 72.2 115.3 72.5 114.8 73.6 115.0 74.1 115.6 74.2 116.3 73.8 117.6 74.2 118.1 75.8 119.1 75.9 119.8 75.6 120.1ZM81.8 123.6 81.1 123.3 80.1 122.5 78.6 122.6 77.9 122.3 78.1 121.6 79.3 120.1 79.0 119.3 77.7 118.3 77.6 116.6 78.0 116.1 79.6 115.2 80.3 115.1 81.6 117.0 83.0 117.6 82.9 118.6 83.6 119.6 84.1 119.7 85.1 119.5 85.5 119.8 85.1 120.6 82.3 121.3 82.1 121.6 82.2 122.1 82.6 122.5 83.1 122.6 82.3 123.4 81.8 123.6ZM84.8 117.7 84.4 117.6 84.8 117.5 85.0 117.6 84.8 117.7ZM88.3 119.7 87.9 119.3 88.6 119.0 88.6 119.3 88.3 119.7ZM80.8 121.1 80.8 120.5 80.5 120.8 80.6 121.1 80.8 121.1Z"/>
<path fill="#acf000" fill-rule="evenodd" d="M81.6 109.1 80.8 108.6 81.1 107.8 82.6 107.4 83.6 106.9 84.9 107.3 84.8 107.8 84.3 108.2 81.6 109.1ZM78.8 111.6 77.3 110.5 75.3 110.6 74.9 110.1 76.1 109.8 77.3 108.9 78.7 108.6 79.0 110.8 78.8 111.6ZM75.3 119.9 74.6 119.7 73.3 118.4 71.6 118.1 71.7 117.3 72.6 115.3 73.3 115.2 73.9 115.6 74.0 116.1 73.6 117.8 74.1 118.4 75.4 119.1 75.6 119.6 75.3 119.9ZM82.6 120.9 81.8 121.0 81.6 120.7 81.8 118.8 80.8 118.8 79.8 119.9 79.1 119.1 77.9 118.3 77.6 117.3 77.8 116.3 79.1 115.4 80.1 115.2 81.6 117.1 82.7 117.6 82.4 118.6 83.7 120.3 82.6 120.9ZM84.6 120.3 84.4 120.1 85.0 120.1 84.6 120.3ZM79.6 122.1 78.8 122.2 78.5 121.8 78.7 121.3 79.3 120.9 79.8 121.1 80.0 121.6 80.0 121.8 79.6 122.1ZM82.1 123.2 81.6 123.3 81.1 123.1 80.7 122.6 80.6 122.1 81.6 121.9 82.3 122.8 82.1 123.2Z"/>
<path fill="#e3f000" fill-rule="evenodd" d="M82.1 108.6 81.3 108.7 81.2 108.1 82.3 107.7 83.6 107.0 84.7 107.3 84.6 107.8 84.1 108.2 82.1 108.6ZM78.6 110.7 77.3 110.3 75.6 110.4 75.1 110.1 75.8 109.9 78.1 108.7 78.4 108.8 78.6 110.7ZM79.8 119.1 78.1 118.3 77.7 117.3 78.0 116.3 79.1 115.5 79.8 115.3 80.1 115.3 81.5 117.1 82.6 117.6 82.1 118.2 80.6 118.6 79.8 119.1ZM73.3 118.3 71.7 118.1 71.8 117.1 72.3 116.0 73.1 115.4 73.6 115.5 73.9 116.1 73.3 118.3ZM73.6 118.4 73.4 118.3 73.6 118.4ZM82.8 120.4 82.1 120.5 82.0 120.1 82.3 119.6 82.9 119.8 83.0 120.1 82.8 120.4ZM79.3 121.6 79.1 121.6 79.3 121.6ZM81.6 122.9 81.1 122.6 81.2 122.3 81.7 122.6 81.6 122.9Z"/>
<path fill="#ffd800" fill-rule="evenodd" d="M83.8 108.1 83.1 108.2 82.7 108.1 82.7 107.8 83.8 107.1 84.4 107.3 84.4 107.6 83.8 108.1ZM77.8 110.1 75.5 110.1 76.1 110.0 77.3 109.1 78.1 108.8 78.2 109.6 77.8 110.1ZM79.8 118.7 79.3 118.7 78.3 118.4 78.0 118.1 77.8 117.3 78.1 116.3 79.1 115.6 79.8 115.3 81.4 117.1 82.4 117.6 81.8 118.0 79.8 118.7ZM73.1 118.1 72.0 118.1 71.9 117.6 72.6 116.1 73.3 115.7 73.6 116.3 73.2 117.3 73.3 118.1 73.1 118.1Z"/>
<path fill="#ffa800" fill-rule="evenodd" d="M83.8 107.9 83.2 107.8 83.8 107.4 84.1 107.6 83.8 107.9ZM77.6 109.9 76.6 110.0 76.4 109.8 77.8 109.0 78.0 109.1 77.9 109.6 77.6 109.9ZM79.8 118.4 79.1 118.5 78.3 118.2 77.9 117.3 78.2 116.3 79.6 115.5 82.1 117.6 79.8 118.4ZM72.8 117.9 72.1 117.8 72.1 117.6 72.3 116.8 73.1 116.0 73.4 116.3 72.8 117.9Z"/>
<path fill="#fd7400" fill-rule="evenodd" d="M77.6 109.6 77.1 109.8 77.0 109.6 77.6 109.2 77.7 109.3 77.6 109.6ZM76.8 109.8 76.5 109.8 76.8 109.8ZM79.1 118.3 78.3 118.1 78.0 117.1 78.3 116.3 79.1 115.7 79.6 115.6 81.6 117.6 79.1 118.3ZM72.6 117.6 72.6 117.2 72.6 117.6Z"/>
<path fill="#fa3c00" fill-rule="evenodd" d="M77.3 109.4 77.3 109.4ZM77.1 109.6 77.1 109.6ZM79.3 118.1 78.5 118.1 78.1 117.3 78.3 116.4 79.3 115.8 81.3 117.3 79.3 118.1Z"/>
<path fill="#f61700" fill-rule="evenodd" d="M79.6 117.9 78.8 118.0 78.2 117.6 78.3 116.6 79.1 116.0 79.6 116.1 80.5 117.1 80.5 117.3 79.6 117.9Z"/>
<text x="96.3" y="10.9" font-size="13.2" text-anchor="start" fill="#111">B</text>
<line x1="126" y1="18.4" x2="126" y2="96.3" stroke="#333" stroke-width="0.6"/>
<line x1="126" y1="96.3" x2="178" y2="96.3" stroke="#333" stroke-width="0.6"/>
<line x1="122.4" y1="18.39999999999999" x2="126" y2="18.39999999999999" stroke="#333" stroke-width="0.5"/>
<text x="121.60000000000001" y="20.667999999999992" font-size="6.3" text-anchor="end" fill="#111" class="s">100</text>
<line x1="122.4" y1="37.87499999999999" x2="126" y2="37.87499999999999" stroke="#333" stroke-width="0.5"/>
<text x="121.60000000000001" y="40.142999999999994" font-size="6.3" text-anchor="end" fill="#111" class="s">75</text>
<line x1="122.4" y1="57.349999999999994" x2="126" y2="57.349999999999994" stroke="#333" stroke-width="0.5"/>
<text x="121.60000000000001" y="59.617999999999995" font-size="6.3" text-anchor="end" fill="#111" class="s">50</text>
<line x1="122.4" y1="76.82499999999999" x2="126" y2="76.82499999999999" stroke="#333" stroke-width="0.5"/>
<text x="121.60000000000001" y="79.09299999999999" font-size="6.3" text-anchor="end" fill="#111" class="s">25</text>
<line x1="122.4" y1="96.3" x2="126" y2="96.3" stroke="#333" stroke-width="0.5"/>
<text x="121.60000000000001" y="98.568" font-size="6.3" text-anchor="end" fill="#111" class="s">0</text>
<text x="111.6" y="52" font-size="7.6" text-anchor="middle" fill="#111" transform="rotate(-90 111.6 52)" class="s">CART GFP+ cells</text>
<rect x="131.00" y="18.40" width="10.30" height="77.90" fill="#33c833"/>
<rect x="131.00" y="65.14" width="10.30" height="31.16" fill="#a9b5d6"/>
<line x1="136.15" y1="96.3" x2="136.15" y2="98.8" stroke="#333" stroke-width="0.5"/>
<rect x="146.70" y="18.40" width="10.30" height="77.90" fill="#33c833"/>
<rect x="146.70" y="45.66" width="10.30" height="50.64" fill="#a9b5d6"/>
<line x1="151.85" y1="96.3" x2="151.85" y2="98.8" stroke="#333" stroke-width="0.5"/>
<rect x="162.30" y="18.40" width="10.30" height="77.90" fill="#33c833"/>
<rect x="162.30" y="52.68" width="10.30" height="43.62" fill="#a9b5d6"/>
<line x1="167.45000000000002" y1="96.3" x2="167.45000000000002" y2="98.8" stroke="#333" stroke-width="0.5"/>
<text x="137.85" y="105.3" font-size="5.9" text-anchor="end" fill="#111" transform="rotate(-45 137.85 105.3)" class="s">Pre-infusion</text>
<text x="153.54999999999998" y="105.3" font-size="5.9" text-anchor="end" fill="#111" transform="rotate(-45 153.54999999999998 105.3)" class="s">Blood</text>
<text x="169.15" y="105.3" font-size="5.9" text-anchor="end" fill="#111" transform="rotate(-45 169.15 105.3)" class="s">Bone marrow</text>
<text x="0" y="0" font-size="7.0" text-anchor="start" fill="#111" transform="translate(184.4 31.8) rotate(-90) scale(0.95 1)" class="s">CD4+</text>
<text x="0" y="0" font-size="7.0" text-anchor="start" fill="#111" transform="translate(192.2 31.8) rotate(-90) scale(0.95 1)" class="s">CD8+</text>
<rect x="180.00" y="34.80" width="4.00" height="8.20" fill="#a9b5d6"/>
<rect x="187.40" y="34.80" width="4.00" height="8.20" fill="#33c833"/>
<text x="204.0" y="11.4" font-size="15.2" text-anchor="start" fill="#111">C</text>
<line x1="240.5" y1="17.4" x2="240.5" y2="95.6" stroke="#333" stroke-width="0.6"/>
<line x1="240.5" y1="95.6" x2="292" y2="95.6" stroke="#333" stroke-width="0.6"/>
<line x1="236.9" y1="17.400000000000006" x2="240.5" y2="17.400000000000006" stroke="#333" stroke-width="0.5"/>
<text x="236.1" y="19.668000000000006" font-size="6.3" text-anchor="end" fill="#111" class="s">100</text>
<line x1="236.9" y1="36.95" x2="240.5" y2="36.95" stroke="#333" stroke-width="0.5"/>
<text x="236.1" y="39.218" font-size="6.3" text-anchor="end" fill="#111" class="s">75</text>
<line x1="236.9" y1="56.5" x2="240.5" y2="56.5" stroke="#333" stroke-width="0.5"/>
<text x="236.1" y="58.768" font-size="6.3" text-anchor="end" fill="#111" class="s">50</text>
<line x1="236.9" y1="76.05" x2="240.5" y2="76.05" stroke="#333" stroke-width="0.5"/>
<text x="236.1" y="78.318" font-size="6.3" text-anchor="end" fill="#111" class="s">25</text>
<line x1="236.9" y1="95.6" x2="240.5" y2="95.6" stroke="#333" stroke-width="0.5"/>
<text x="236.1" y="97.868" font-size="6.3" text-anchor="end" fill="#111" class="s">0</text>
<text x="0" y="0" font-size="7.6" text-anchor="middle" fill="#111" transform="translate(224.2 54.8) rotate(-90) scale(0.96 1)" class="s">%Lympho CD4+</text>
<rect x="245.60" y="72.14" width="10.50" height="23.46" fill="#a3a3a3"/>
<rect x="245.60" y="25.22" width="10.50" height="46.92" fill="#33c833"/>
<rect x="245.60" y="18.18" width="10.50" height="7.04" fill="#0000c0"/>
<rect x="245.60" y="17.40" width="10.50" height="0.78" fill="#f6ee00"/>
<line x1="250.85" y1="95.6" x2="250.85" y2="97.8" stroke="#333" stroke-width="0.5"/>
<rect x="261.00" y="95.60" width="10.50" height="0.00" fill="#a3a3a3"/>
<rect x="261.00" y="57.28" width="10.50" height="38.32" fill="#33c833"/>
<rect x="261.00" y="20.53" width="10.50" height="36.75" fill="#0000c0"/>
<rect x="261.00" y="17.40" width="10.50" height="3.13" fill="#f6ee00"/>
<line x1="266.25" y1="95.6" x2="266.25" y2="97.8" stroke="#333" stroke-width="0.5"/>
<rect x="277.00" y="93.25" width="10.50" height="2.35" fill="#a3a3a3"/>
<rect x="277.00" y="52.59" width="10.50" height="40.66" fill="#33c833"/>
<rect x="277.00" y="18.18" width="10.50" height="34.41" fill="#0000c0"/>
<rect x="277.00" y="17.40" width="10.50" height="0.78" fill="#f6ee00"/>
<line x1="282.25" y1="95.6" x2="282.25" y2="97.8" stroke="#333" stroke-width="0.5"/>
<text x="251.35" y="105.69999999999999" font-size="5.9" text-anchor="end" fill="#111" transform="rotate(-45 251.35 105.69999999999999)" class="s">Pre-infusion</text>
<text x="266.75" y="105.69999999999999" font-size="5.9" text-anchor="end" fill="#111" transform="rotate(-45 266.75 105.69999999999999)" class="s">Blood</text>
<text x="282.75" y="105.69999999999999" font-size="5.9" text-anchor="end" fill="#111" transform="rotate(-45 282.75 105.69999999999999)" class="s">Bone marrow</text>
<line x1="324.5" y1="17.6" x2="324.5" y2="95.0" stroke="#333" stroke-width="0.6"/>
<line x1="324.5" y1="95.0" x2="376" y2="95.0" stroke="#333" stroke-width="0.6"/>
<line x1="320.9" y1="17.599999999999994" x2="324.5" y2="17.599999999999994" stroke="#333" stroke-width="0.5"/>
<text x="320.09999999999997" y="19.867999999999995" font-size="6.3" text-anchor="end" fill="#111" class="s">100</text>
<line x1="320.9" y1="36.949999999999996" x2="324.5" y2="36.949999999999996" stroke="#333" stroke-width="0.5"/>
<text x="320.09999999999997" y="39.217999999999996" font-size="6.3" text-anchor="end" fill="#111" class="s">75</text>
<line x1="320.9" y1="56.3" x2="324.5" y2="56.3" stroke="#333" stroke-width="0.5"/>
<text x="320.09999999999997" y="58.568" font-size="6.3" text-anchor="end" fill="#111" class="s">50</text>
<line x1="320.9" y1="75.65" x2="324.5" y2="75.65" stroke="#333" stroke-width="0.5"/>
<text x="320.09999999999997" y="77.918" font-size="6.3" text-anchor="end" fill="#111" class="s">25</text>
<line x1="320.9" y1="95.0" x2="324.5" y2="95.0" stroke="#333" stroke-width="0.5"/>
<text x="320.09999999999997" y="97.268" font-size="6.3" text-anchor="end" fill="#111" class="s">0</text>
<text x="0" y="0" font-size="7.6" text-anchor="middle" fill="#111" transform="translate(305.8 54.599999999999994) rotate(-90) scale(0.96 1)" class="s">%Lympho CD8+</text>
<rect x="328.50" y="65.59" width="10.50" height="29.41" fill="#a3a3a3"/>
<rect x="328.50" y="44.69" width="10.50" height="20.90" fill="#33c833"/>
<rect x="328.50" y="36.18" width="10.50" height="8.51" fill="#0000c0"/>
<rect x="328.50" y="17.60" width="10.50" height="18.58" fill="#f6ee00"/>
<line x1="333.75" y1="95.0" x2="333.75" y2="97.2" stroke="#333" stroke-width="0.5"/>
<rect x="344.00" y="95.00" width="10.50" height="0.00" fill="#a3a3a3"/>
<rect x="344.00" y="60.17" width="10.50" height="34.83" fill="#33c833"/>
<rect x="344.00" y="17.60" width="10.50" height="42.57" fill="#0000c0"/>
<rect x="344.00" y="17.60" width="10.50" height="0.00" fill="#f6ee00"/>
<line x1="349.25" y1="95.0" x2="349.25" y2="97.2" stroke="#333" stroke-width="0.5"/>
<rect x="359.70" y="95.00" width="10.50" height="0.00" fill="#a3a3a3"/>
<rect x="359.70" y="67.91" width="10.50" height="27.09" fill="#33c833"/>
<rect x="359.70" y="17.60" width="10.50" height="50.31" fill="#0000c0"/>
<rect x="359.70" y="17.60" width="10.50" height="0.00" fill="#f6ee00"/>
<line x1="364.95" y1="95.0" x2="364.95" y2="97.2" stroke="#333" stroke-width="0.5"/>
<text x="334.25" y="105.1" font-size="5.9" text-anchor="end" fill="#111" transform="rotate(-45 334.25 105.1)" class="s">Pre-infusion</text>
<text x="349.75" y="105.1" font-size="5.9" text-anchor="end" fill="#111" transform="rotate(-45 349.75 105.1)" class="s">Blood</text>
<text x="365.45" y="105.1" font-size="5.9" text-anchor="end" fill="#111" transform="rotate(-45 365.45 105.1)" class="s">Bone marrow</text>
<path fill="#e4e8f8" fill-rule="evenodd" d="M411.1 49.6 407.9 49.7 404.6 49.1 401.6 47.8 399.1 45.9 397.0 43.6 395.4 40.6 394.5 37.6 394.3 34.3 394.7 31.3 395.8 28.3 397.6 25.6 399.9 23.4 402.6 21.5 405.9 20.2 409.4 19.4 412.6 19.2 415.4 19.6 417.6 20.4 419.9 21.8 421.7 23.6 424.2 28.1 424.9 33.6 423.7 39.3 420.7 44.3 416.4 47.8 413.9 48.9 411.1 49.6Z"/>
<path fill="#d0d6f2" fill-rule="evenodd" d="M410.9 44.6 408.4 44.7 406.1 44.2 404.1 43.3 402.2 41.8 400.8 40.1 399.8 37.8 399.4 35.6 399.5 33.3 400.1 31.1 401.2 29.1 404.6 25.7 409.6 23.3 412.1 22.8 414.4 23.0 417.6 24.2 419.9 26.6 421.3 30.1 421.4 33.8 420.1 37.6 417.6 41.0 414.4 43.4 410.9 44.6Z"/>
<path fill="#5868d0" fill-rule="evenodd" d="M411.6 13.8 411.6 13.8ZM418.6 13.9 418.2 13.8 418.6 13.9ZM422.9 13.9 422.5 13.8 423.0 13.8 422.9 13.9ZM420.6 21.7 420.4 21.3 420.6 21.1 420.9 21.3 420.6 21.7ZM413.4 39.9 412.9 39.9 412.5 39.6 412.6 37.8 412.4 37.5 410.9 38.0 409.1 37.6 408.9 37.3 409.1 36.8 410.3 36.6 410.7 35.8 410.4 35.4 409.6 35.3 408.9 35.9 408.5 35.3 408.6 34.8 409.3 34.6 409.5 34.1 408.8 33.3 409.0 32.3 408.7 31.6 409.1 30.6 408.8 29.6 409.1 28.6 409.6 28.5 410.1 30.6 411.1 30.7 411.4 28.3 411.8 27.6 411.4 27.2 410.6 27.7 410.1 27.6 409.6 26.9 409.6 26.4 410.1 26.1 411.4 26.3 412.1 24.7 412.6 24.2 413.4 24.5 414.8 24.6 414.8 22.8 413.6 22.5 413.4 21.8 413.9 21.7 415.1 22.1 416.1 21.4 416.4 21.6 417.1 23.1 417.9 22.8 418.2 21.8 418.9 21.5 419.2 22.8 418.6 23.0 418.7 23.8 418.3 24.6 418.6 24.8 419.4 24.8 419.9 25.1 420.4 26.9 421.6 27.7 421.8 28.1 421.8 29.1 421.1 29.8 421.0 30.3 420.5 30.8 420.8 31.8 420.8 32.8 421.1 33.0 421.9 32.6 422.5 33.1 422.5 33.6 422.1 34.0 421.1 34.1 420.4 34.5 419.6 34.3 419.1 34.5 418.2 35.3 419.6 36.1 419.4 36.3 418.4 36.8 417.4 36.4 415.4 38.3 414.7 38.1 414.4 37.3 413.9 37.3 413.4 38.6 413.6 39.6 413.4 39.9ZM401.9 23.4 401.4 23.3 401.4 22.7 401.9 22.8 401.9 23.4ZM419.9 24.1 419.3 23.6 419.2 23.1 419.4 22.9 420.1 23.1 420.4 23.6 420.4 23.9 419.9 24.1ZM412.6 23.8 412.6 23.3 412.6 23.8ZM422.4 25.3 421.6 25.1 421.5 24.6 421.9 24.4 422.4 24.6 422.6 25.1 422.4 25.3ZM399.6 29.7 399.1 29.6 398.1 28.8 398.4 27.8 399.6 27.6 399.9 27.7 400.1 29.1 399.6 29.7ZM421.4 31.0 421.2 30.6 421.5 30.8 421.4 31.0ZM407.9 34.2 407.2 34.1 407.2 33.8 407.9 33.3 408.3 33.6 407.9 34.2ZM432.9 34.7 432.4 34.6 432.4 34.3 432.9 34.2 432.9 34.7ZM391.4 39.3 391.1 39.3 391.1 38.6 391.5 38.8 391.6 39.1 391.4 39.3ZM419.6 39.3 419.1 39.5 418.7 39.3 418.8 39.1 419.4 38.8 419.7 39.1 419.6 39.3ZM415.4 41.1 414.6 40.9 414.3 40.1 414.9 40.1 415.4 40.3 415.6 40.8 415.4 41.1ZM432.6 41.1 432.1 41.0 432.0 40.6 432.9 40.2 432.9 41.0 432.6 41.1ZM391.1 41.3 391.1 41.0 391.1 41.3ZM420.9 41.4 420.6 41.3 420.6 41.1 420.9 40.9 421.1 41.1 420.9 41.4ZM397.9 50.1 397.9 49.8 397.9 50.1ZM405.9 51.1 405.4 51.3 405.4 50.6 405.9 50.6 405.9 51.1Z"/>
<path fill="#48a0c0" fill-rule="evenodd" d="M416.1 23.4 415.8 22.6 416.1 22.3 416.4 22.8 416.1 23.4ZM416.1 37.1 415.9 37.3 415.7 37.1 415.7 36.6 415.4 36.3 413.6 36.7 411.6 35.7 411.4 35.3 411.6 34.6 411.4 34.3 410.9 34.2 410.4 34.8 410.1 34.8 409.9 34.6 409.9 33.8 409.4 33.3 409.5 32.3 409.2 31.6 409.6 31.0 410.6 31.5 411.7 31.1 411.9 28.6 412.6 27.8 412.0 26.6 412.4 24.9 412.9 24.8 413.9 25.4 415.1 24.9 415.6 24.4 416.6 24.9 417.9 23.5 417.8 24.6 419.6 25.6 420.1 27.2 421.3 28.3 420.9 29.0 419.8 28.8 419.8 29.3 420.3 29.8 419.3 30.6 420.1 31.8 420.3 33.8 419.1 33.8 418.9 33.1 418.4 33.3 418.3 33.8 418.8 34.1 418.6 34.3 416.9 34.8 416.8 35.1 417.0 35.8 416.1 37.1ZM399.4 28.9 399.4 28.9ZM411.7 33.1 411.1 32.1 410.7 32.1 410.8 33.1 411.4 33.3 411.7 33.1ZM410.9 37.6 410.3 37.3 410.9 36.9 411.2 37.1 411.2 37.3 410.9 37.6ZM415.6 37.3 415.6 37.3Z"/>
<path fill="#70c068" fill-rule="evenodd" d="M413.6 35.8 413.1 35.8 412.7 35.3 412.7 33.8 411.7 31.8 412.5 30.3 412.4 29.1 412.8 28.3 413.0 26.8 412.7 26.3 412.6 25.3 412.9 25.1 413.1 25.3 413.1 26.6 413.6 26.8 414.4 25.5 415.9 24.9 416.6 25.7 417.6 24.9 419.4 25.9 419.9 27.3 420.5 28.1 419.5 28.6 418.7 30.3 418.9 31.4 419.8 32.1 419.6 32.9 418.9 32.6 417.9 33.3 417.5 34.1 416.1 34.4 415.0 35.3 413.6 35.8ZM416.4 35.9 415.9 35.8 416.1 35.6 416.4 35.9Z"/>
<path fill="#c8d040" fill-rule="evenodd" d="M413.6 35.2 413.4 35.3 413.1 35.1 413.2 33.6 412.2 31.8 413.0 30.6 412.7 29.6 413.3 27.6 414.1 27.1 414.6 25.7 415.6 25.3 416.1 26.2 417.1 26.4 417.6 27.0 417.9 26.8 417.5 25.6 417.6 25.3 417.9 25.3 419.4 26.9 419.6 28.0 418.6 29.1 418.6 28.3 418.1 27.7 417.1 28.4 416.4 28.3 416.3 28.6 416.9 29.2 418.4 29.3 418.2 30.3 418.6 32.3 417.1 33.8 416.4 33.9 413.6 35.2ZM414.2 32.3 414.4 32.1 414.1 31.7 413.5 32.1 413.6 32.5 414.2 32.3Z"/>
<path fill="#e8a030" fill-rule="evenodd" d="M415.4 27.9 415.1 27.8 414.6 26.6 414.7 26.1 415.1 25.8 415.6 26.0 415.8 27.1 416.4 27.3 415.4 27.9ZM419.1 27.8 419.1 27.5 419.1 27.8ZM414.9 34.1 414.0 34.1 413.8 33.3 415.4 32.3 415.4 31.8 414.4 31.2 413.5 31.1 413.1 29.6 413.9 28.0 415.1 29.1 415.9 29.0 416.6 29.6 417.6 29.6 417.9 29.8 418.3 32.1 418.1 32.6 417.1 33.3 414.9 34.1ZM412.9 32.0 412.7 31.6 413.1 31.4 412.9 32.0Z"/>
<path fill="#3050c8" fill-opacity="0.42" d="M409.0 38.0h.8v.8h-.8zM411.5 38.3h.8v.8h-.8zM406.7 31.4h.8v.8h-.8zM401.4 52.2h.8v.8h-.8zM405.1 38.2h.8v.8h-.8zM400.6 50.1h.8v.8h-.8zM409.5 43.2h.8v.8h-.8zM420.4 29.4h.8v.8h-.8zM404.8 31.8h.8v.8h-.8zM403.7 38.7h.8v.8h-.8zM413.2 35.5h.8v.8h-.8zM412.0 35.4h.8v.8h-.8zM409.9 32.6h.8v.8h-.8zM401.1 19.6h.8v.8h-.8zM408.8 33.1h.8v.8h-.8zM414.9 16.1h.8v.8h-.8zM397.6 38.2h.8v.8h-.8zM405.1 28.8h.8v.8h-.8zM392.8 28.9h.8v.8h-.8zM398.0 33.1h.8v.8h-.8zM393.3 37.3h.8v.8h-.8zM407.0 22.8h.8v.8h-.8zM398.2 20.1h.8v.8h-.8zM411.3 25.9h.8v.8h-.8zM410.3 17.6h.8v.8h-.8zM407.4 26.8h.8v.8h-.8zM404.4 26.0h.8v.8h-.8zM408.6 40.5h.8v.8h-.8zM410.0 23.3h.8v.8h-.8zM396.0 37.5h.8v.8h-.8zM404.9 32.3h.8v.8h-.8zM400.7 34.5h.8v.8h-.8zM402.1 39.8h.8v.8h-.8zM418.0 49.9h.8v.8h-.8zM402.1 36.7h.8v.8h-.8zM408.7 36.1h.8v.8h-.8zM416.5 26.7h.8v.8h-.8zM404.0 40.0h.8v.8h-.8zM408.1 32.9h.8v.8h-.8zM409.9 42.1h.8v.8h-.8zM409.5 34.6h.8v.8h-.8zM398.6 49.8h.8v.8h-.8zM409.6 18.1h.8v.8h-.8zM420.5 32.5h.8v.8h-.8zM395.8 42.5h.8v.8h-.8zM416.3 32.0h.8v.8h-.8zM410.0 28.3h.8v.8h-.8zM403.5 32.7h.8v.8h-.8zM426.0 23.3h.8v.8h-.8zM415.5 36.0h.8v.8h-.8zM409.6 44.7h.8v.8h-.8zM413.9 25.6h.8v.8h-.8zM407.4 27.6h.8v.8h-.8zM414.8 31.6h.8v.8h-.8zM408.4 43.5h.8v.8h-.8zM414.7 28.0h.8v.8h-.8zM421.2 29.1h.8v.8h-.8zM403.3 42.5h.8v.8h-.8zM410.7 42.3h.8v.8h-.8zM405.1 31.8h.8v.8h-.8zM410.1 25.5h.8v.8h-.8zM398.9 21.8h.8v.8h-.8zM404.1 29.1h.8v.8h-.8zM407.3 16.0h.8v.8h-.8zM416.6 41.4h.8v.8h-.8zM418.7 29.6h.8v.8h-.8zM397.8 39.1h.8v.8h-.8zM402.2 50.9h.8v.8h-.8zM414.5 45.0h.8v.8h-.8zM392.1 25.2h.8v.8h-.8zM405.1 42.4h.8v.8h-.8zM408.2 44.8h.8v.8h-.8zM419.7 28.7h.8v.8h-.8zM414.9 26.9h.8v.8h-.8zM406.2 34.1h.8v.8h-.8zM405.9 21.4h.8v.8h-.8zM406.9 47.5h.8v.8h-.8zM421.9 14.6h.8v.8h-.8zM405.4 25.6h.8v.8h-.8zM406.4 32.7h.8v.8h-.8zM412.0 33.1h.8v.8h-.8zM408.0 36.4h.8v.8h-.8zM407.3 37.3h.8v.8h-.8zM399.5 33.2h.8v.8h-.8zM408.9 44.7h.8v.8h-.8zM405.2 16.8h.8v.8h-.8zM418.9 35.0h.8v.8h-.8zM414.6 28.9h.8v.8h-.8zM408.8 36.1h.8v.8h-.8zM414.7 36.9h.8v.8h-.8zM406.1 27.2h.8v.8h-.8zM417.9 29.6h.8v.8h-.8zM409.0 41.7h.8v.8h-.8zM414.0 38.0h.8v.8h-.8zM398.0 29.2h.8v.8h-.8zM411.9 52.3h.8v.8h-.8zM394.7 54.6h.8v.8h-.8zM391.7 22.6h.8v.8h-.8zM406.4 37.6h.8v.8h-.8zM410.4 41.7h.8v.8h-.8zM428.1 36.9h.8v.8h-.8zM401.9 33.2h.8v.8h-.8zM403.7 30.4h.8v.8h-.8zM410.7 33.2h.8v.8h-.8zM413.2 30.3h.8v.8h-.8zM407.5 41.3h.8v.8h-.8zM407.2 31.6h.8v.8h-.8zM415.0 31.3h.8v.8h-.8zM413.4 24.8h.8v.8h-.8zM400.2 34.6h.8v.8h-.8zM408.3 27.4h.8v.8h-.8zM409.3 33.5h.8v.8h-.8zM400.0 43.9h.8v.8h-.8zM411.2 38.1h.8v.8h-.8zM401.7 39.3h.8v.8h-.8zM417.3 38.0h.8v.8h-.8zM410.6 35.5h.8v.8h-.8zM409.8 33.9h.8v.8h-.8zM404.0 32.4h.8v.8h-.8zM408.0 41.5h.8v.8h-.8zM392.0 25.8h.8v.8h-.8zM399.4 46.4h.8v.8h-.8zM412.1 35.3h.8v.8h-.8zM416.2 30.8h.8v.8h-.8zM394.2 29.2h.8v.8h-.8zM415.4 36.4h.8v.8h-.8zM401.8 28.9h.8v.8h-.8zM415.6 44.7h.8v.8h-.8zM410.1 28.4h.8v.8h-.8zM395.9 15.7h.8v.8h-.8zM419.6 28.8h.8v.8h-.8zM421.3 17.9h.8v.8h-.8zM408.4 34.7h.8v.8h-.8zM406.7 44.0h.8v.8h-.8zM407.6 40.5h.8v.8h-.8zM400.7 23.6h.8v.8h-.8zM418.3 28.5h.8v.8h-.8zM404.4 50.1h.8v.8h-.8zM408.6 37.7h.8v.8h-.8zM402.3 35.0h.8v.8h-.8zM403.7 44.0h.8v.8h-.8zM419.7 46.0h.8v.8h-.8zM407.7 36.2h.8v.8h-.8zM417.2 38.0h.8v.8h-.8zM409.1 40.2h.8v.8h-.8zM403.1 29.8h.8v.8h-.8zM406.2 26.0h.8v.8h-.8zM404.2 35.4h.8v.8h-.8zM409.1 26.9h.8v.8h-.8zM405.8 34.5h.8v.8h-.8zM406.5 35.8h.8v.8h-.8zM397.3 54.9h.8v.8h-.8zM402.1 27.8h.8v.8h-.8zM423.1 34.0h.8v.8h-.8zM403.3 33.6h.8v.8h-.8zM400.0 38.7h.8v.8h-.8zM411.9 43.9h.8v.8h-.8zM421.0 30.8h.8v.8h-.8zM396.6 28.0h.8v.8h-.8zM407.2 21.1h.8v.8h-.8zM403.6 27.1h.8v.8h-.8zM394.0 39.6h.8v.8h-.8zM415.2 35.4h.8v.8h-.8zM408.8 26.4h.8v.8h-.8zM409.6 31.8h.8v.8h-.8zM402.6 35.3h.8v.8h-.8zM412.9 39.3h.8v.8h-.8zM404.4 30.0h.8v.8h-.8zM407.8 32.9h.8v.8h-.8zM399.6 19.5h.8v.8h-.8zM398.7 25.2h.8v.8h-.8zM420.4 48.8h.8v.8h-.8zM404.7 16.4h.8v.8h-.8zM411.5 32.1h.8v.8h-.8zM408.7 36.9h.8v.8h-.8zM405.3 31.8h.8v.8h-.8zM404.7 28.1h.8v.8h-.8zM414.4 34.5h.8v.8h-.8zM406.4 35.0h.8v.8h-.8zM407.7 34.3h.8v.8h-.8zM409.2 19.0h.8v.8h-.8zM419.0 33.7h.8v.8h-.8zM414.8 27.7h.8v.8h-.8zM412.3 30.3h.8v.8h-.8zM404.2 36.9h.8v.8h-.8zM397.3 40.4h.8v.8h-.8zM417.1 42.6h.8v.8h-.8zM417.2 30.8h.8v.8h-.8zM407.8 42.9h.8v.8h-.8zM413.6 45.0h.8v.8h-.8zM415.6 44.7h.8v.8h-.8zM416.1 46.8h.8v.8h-.8zM416.8 33.8h.8v.8h-.8zM405.1 33.5h.8v.8h-.8zM421.9 42.0h.8v.8h-.8zM398.4 23.4h.8v.8h-.8zM416.3 36.8h.8v.8h-.8zM413.2 30.5h.8v.8h-.8zM416.4 31.9h.8v.8h-.8zM425.0 20.2h.8v.8h-.8zM421.6 27.4h.8v.8h-.8zM399.3 34.8h.8v.8h-.8zM394.6 42.6h.8v.8h-.8zM415.9 43.4h.8v.8h-.8zM400.4 34.3h.8v.8h-.8zM408.9 33.4h.8v.8h-.8zM416.1 27.9h.8v.8h-.8zM395.0 38.4h.8v.8h-.8zM411.2 40.2h.8v.8h-.8zM409.4 49.9h.8v.8h-.8zM406.9 34.7h.8v.8h-.8zM409.3 22.3h.8v.8h-.8zM401.7 27.7h.8v.8h-.8zM396.1 22.6h.8v.8h-.8zM407.6 24.8h.8v.8h-.8zM400.7 46.1h.8v.8h-.8zM395.0 36.9h.8v.8h-.8zM413.3 22.1h.8v.8h-.8zM408.5 40.6h.8v.8h-.8zM412.5 45.7h.8v.8h-.8zM400.6 31.9h.8v.8h-.8zM403.4 29.3h.8v.8h-.8zM400.5 32.1h.8v.8h-.8zM401.5 37.4h.8v.8h-.8zM410.7 40.4h.8v.8h-.8zM402.3 45.0h.8v.8h-.8zM412.0 45.3h.8v.8h-.8zM411.9 45.1h.8v.8h-.8zM426.2 46.6h.8v.8h-.8zM397.2 40.6h.8v.8h-.8zM416.5 22.0h.8v.8h-.8zM408.2 33.9h.8v.8h-.8zM408.9 37.7h.8v.8h-.8zM396.7 31.7h.8v.8h-.8zM405.1 42.7h.8v.8h-.8zM415.3 31.9h.8v.8h-.8zM408.3 27.1h.8v.8h-.8zM409.7 47.3h.8v.8h-.8zM406.5 40.7h.8v.8h-.8zM418.8 36.9h.8v.8h-.8zM408.8 42.9h.8v.8h-.8zM403.1 37.9h.8v.8h-.8zM404.5 31.1h.8v.8h-.8zM420.3 26.6h.8v.8h-.8zM409.4 36.7h.8v.8h-.8zM399.0 45.1h.8v.8h-.8zM401.0 30.9h.8v.8h-.8zM418.6 25.4h.8v.8h-.8zM410.3 52.2h.8v.8h-.8zM409.4 31.2h.8v.8h-.8zM408.5 24.5h.8v.8h-.8zM409.3 37.0h.8v.8h-.8zM415.8 38.6h.8v.8h-.8zM413.7 29.0h.8v.8h-.8zM410.8 41.7h.8v.8h-.8zM400.1 30.9h.8v.8h-.8zM413.3 27.2h.8v.8h-.8zM403.2 36.5h.8v.8h-.8zM418.3 41.6h.8v.8h-.8zM398.2 29.6h.8v.8h-.8zM407.8 37.8h.8v.8h-.8zM408.9 34.2h.8v.8h-.8zM423.6 29.0h.8v.8h-.8zM421.4 46.8h.8v.8h-.8zM405.1 34.6h.8v.8h-.8zM415.6 33.9h.8v.8h-.8zM412.2 41.1h.8v.8h-.8zM411.1 45.8h.8v.8h-.8zM408.5 37.8h.8v.8h-.8zM409.7 29.9h.8v.8h-.8zM399.8 30.4h.8v.8h-.8zM406.7 39.3h.8v.8h-.8zM407.5 39.9h.8v.8h-.8zM419.1 46.9h.8v.8h-.8zM411.8 38.6h.8v.8h-.8zM409.0 44.0h.8v.8h-.8zM422.0 47.9h.8v.8h-.8zM404.3 36.4h.8v.8h-.8zM405.7 22.4h.8v.8h-.8zM393.6 25.0h.8v.8h-.8zM422.3 22.8h.8v.8h-.8zM417.2 48.5h.8v.8h-.8zM416.8 27.8h.8v.8h-.8zM414.7 45.5h.8v.8h-.8zM409.9 40.0h.8v.8h-.8zM410.8 49.6h.8v.8h-.8zM406.9 43.5h.8v.8h-.8zM407.3 34.1h.8v.8h-.8zM409.5 33.3h.8v.8h-.8zM421.9 35.7h.8v.8h-.8zM413.7 36.5h.8v.8h-.8zM408.5 30.5h.8v.8h-.8zM404.1 34.7h.8v.8h-.8zM403.6 48.7h.8v.8h-.8zM422.6 20.5h.8v.8h-.8zM413.3 37.2h.8v.8h-.8zM409.6 27.3h.8v.8h-.8zM406.1 36.6h.8v.8h-.8zM399.6 42.1h.8v.8h-.8zM408.4 34.5h.8v.8h-.8zM416.4 41.6h.8v.8h-.8zM405.7 21.5h.8v.8h-.8zM407.1 44.4h.8v.8h-.8zM407.1 29.9h.8v.8h-.8zM409.9 40.3h.8v.8h-.8zM395.5 36.6h.8v.8h-.8zM401.7 28.6h.8v.8h-.8zM416.5 36.9h.8v.8h-.8zM402.4 48.2h.8v.8h-.8zM413.9 37.4h.8v.8h-.8zM422.0 37.2h.8v.8h-.8zM406.3 23.0h.8v.8h-.8zM403.9 47.2h.8v.8h-.8zM410.6 50.4h.8v.8h-.8zM409.0 35.2h.8v.8h-.8zM400.6 33.1h.8v.8h-.8zM412.9 21.2h.8v.8h-.8zM426.1 42.5h.8v.8h-.8zM407.3 41.1h.8v.8h-.8zM400.1 45.7h.8v.8h-.8zM411.7 39.6h.8v.8h-.8zM398.4 26.6h.8v.8h-.8zM399.6 46.4h.8v.8h-.8zM419.9 24.5h.8v.8h-.8zM401.3 33.2h.8v.8h-.8zM418.2 37.4h.8v.8h-.8zM422.0 42.5h.8v.8h-.8zM411.2 38.5h.8v.8h-.8zM413.7 38.3h.8v.8h-.8zM425.6 28.5h.8v.8h-.8zM407.3 24.0h.8v.8h-.8zM404.0 35.5h.8v.8h-.8zM397.5 29.0h.8v.8h-.8zM409.4 23.9h.8v.8h-.8zM421.6 24.2h.8v.8h-.8zM417.2 30.8h.8v.8h-.8zM401.0 19.3h.8v.8h-.8zM401.7 23.5h.8v.8h-.8zM404.7 21.1h.8v.8h-.8zM411.5 36.5h.8v.8h-.8zM407.3 38.5h.8v.8h-.8zM410.8 52.1h.8v.8h-.8zM411.5 22.3h.8v.8h-.8zM406.5 29.2h.8v.8h-.8zM408.7 42.8h.8v.8h-.8zM410.8 33.2h.8v.8h-.8zM408.3 32.2h.8v.8h-.8zM413.3 49.5h.8v.8h-.8zM424.9 32.1h.8v.8h-.8zM414.0 25.2h.8v.8h-.8zM409.5 23.8h.8v.8h-.8zM394.7 37.9h.8v.8h-.8zM412.3 37.6h.8v.8h-.8zM392.5 23.3h.8v.8h-.8zM397.0 26.6h.8v.8h-.8zM416.3 39.5h.8v.8h-.8zM415.0 39.9h.8v.8h-.8zM407.7 29.5h.8v.8h-.8zM394.5 40.3h.8v.8h-.8zM405.8 39.9h.8v.8h-.8zM403.2 19.8h.8v.8h-.8zM414.4 32.3h.8v.8h-.8zM428.2 38.5h.8v.8h-.8zM410.8 30.1h.8v.8h-.8zM402.4 16.8h.8v.8h-.8zM399.1 32.6h.8v.8h-.8zM408.5 41.4h.8v.8h-.8zM407.5 48.4h.8v.8h-.8zM399.2 16.4h.8v.8h-.8zM399.2 25.4h.8v.8h-.8zM418.5 43.1h.8v.8h-.8zM418.0 45.5h.8v.8h-.8zM418.2 43.4h.8v.8h-.8zM405.0 36.3h.8v.8h-.8zM413.4 25.1h.8v.8h-.8zM407.9 40.3h.8v.8h-.8zM405.7 28.9h.8v.8h-.8zM396.7 41.0h.8v.8h-.8zM415.8 50.5h.8v.8h-.8zM407.4 27.3h.8v.8h-.8zM410.8 47.5h.8v.8h-.8zM417.5 48.5h.8v.8h-.8zM394.3 48.2h.8v.8h-.8zM402.3 34.8h.8v.8h-.8zM410.5 24.8h.8v.8h-.8zM412.3 33.5h.8v.8h-.8zM405.8 16.3h.8v.8h-.8zM417.7 20.5h.8v.8h-.8zM410.8 35.8h.8v.8h-.8zM398.7 26.6h.8v.8h-.8zM401.1 33.6h.8v.8h-.8zM415.8 34.1h.8v.8h-.8zM412.9 51.4h.8v.8h-.8zM392.9 46.0h.8v.8h-.8zM420.5 34.6h.8v.8h-.8zM414.1 45.3h.8v.8h-.8zM420.4 28.4h.8v.8h-.8zM405.7 32.1h.8v.8h-.8zM406.5 42.7h.8v.8h-.8zM399.4 24.4h.8v.8h-.8zM430.6 32.6h.8v.8h-.8zM407.5 23.8h.8v.8h-.8zM422.5 36.0h.8v.8h-.8zM403.5 48.9h.8v.8h-.8zM410.4 28.6h.8v.8h-.8zM394.8 36.9h.8v.8h-.8zM405.7 27.4h.8v.8h-.8zM417.4 25.2h.8v.8h-.8zM398.4 24.5h.8v.8h-.8zM418.1 47.4h.8v.8h-.8zM400.1 39.1h.8v.8h-.8zM404.7 28.9h.8v.8h-.8zM405.1 41.0h.8v.8h-.8zM408.6 32.2h.8v.8h-.8zM404.4 41.8h.8v.8h-.8zM402.0 37.5h.8v.8h-.8zM406.4 37.4h.8v.8h-.8zM400.3 40.2h.8v.8h-.8zM398.0 30.1h.8v.8h-.8zM408.6 31.6h.8v.8h-.8zM416.5 20.4h.8v.8h-.8zM396.0 31.2h.8v.8h-.8zM409.0 22.9h.8v.8h-.8zM403.5 33.8h.8v.8h-.8zM400.7 26.9h.8v.8h-.8zM416.3 35.9h.8v.8h-.8zM404.6 38.9h.8v.8h-.8zM421.7 22.9h.8v.8h-.8zM402.4 28.1h.8v.8h-.8zM412.3 27.0h.8v.8h-.8zM407.1 41.3h.8v.8h-.8zM402.6 49.5h.8v.8h-.8zM414.0 42.2h.8v.8h-.8zM407.7 32.0h.8v.8h-.8zM414.1 47.5h.8v.8h-.8zM408.6 22.1h.8v.8h-.8zM399.8 47.7h.8v.8h-.8zM408.1 29.4h.8v.8h-.8zM401.3 48.4h.8v.8h-.8zM408.7 26.2h.8v.8h-.8zM394.4 36.4h.8v.8h-.8zM414.5 33.2h.8v.8h-.8zM399.8 35.9h.8v.8h-.8zM393.6 22.4h.8v.8h-.8zM408.5 29.2h.8v.8h-.8zM418.4 39.0h.8v.8h-.8zM396.0 36.9h.8v.8h-.8zM399.8 45.2h.8v.8h-.8zM402.7 35.7h.8v.8h-.8zM399.4 55.0h.8v.8h-.8zM412.2 28.9h.8v.8h-.8zM402.1 37.2h.8v.8h-.8zM402.9 18.7h.8v.8h-.8zM414.0 24.3h.8v.8h-.8zM402.6 46.3h.8v.8h-.8zM412.7 27.0h.8v.8h-.8zM400.7 39.5h.8v.8h-.8zM398.7 34.5h.8v.8h-.8zM393.4 26.1h.8v.8h-.8zM424.8 32.0h.8v.8h-.8zM406.3 30.6h.8v.8h-.8zM411.1 30.9h.8v.8h-.8zM408.7 41.4h.8v.8h-.8zM410.4 40.5h.8v.8h-.8zM409.4 30.1h.8v.8h-.8zM425.2 27.3h.8v.8h-.8zM400.2 37.4h.8v.8h-.8zM395.8 34.1h.8v.8h-.8zM400.4 43.7h.8v.8h-.8zM415.3 42.2h.8v.8h-.8zM416.0 34.7h.8v.8h-.8zM400.8 33.5h.8v.8h-.8zM397.2 27.7h.8v.8h-.8zM406.0 27.3h.8v.8h-.8zM420.8 26.5h.8v.8h-.8zM413.5 31.4h.8v.8h-.8zM399.9 41.3h.8v.8h-.8zM417.8 31.6h.8v.8h-.8zM399.8 33.3h.8v.8h-.8zM406.6 24.6h.8v.8h-.8zM396.2 49.0h.8v.8h-.8zM400.7 39.3h.8v.8h-.8zM420.8 50.2h.8v.8h-.8zM416.0 41.8h.8v.8h-.8zM405.6 47.7h.8v.8h-.8zM401.6 32.9h.8v.8h-.8zM392.9 41.1h.8v.8h-.8zM408.7 24.6h.8v.8h-.8zM408.3 45.0h.8v.8h-.8zM408.2 49.4h.8v.8h-.8zM399.5 38.6h.8v.8h-.8zM408.4 41.5h.8v.8h-.8zM408.7 45.9h.8v.8h-.8zM420.0 29.3h.8v.8h-.8zM424.9 38.5h.8v.8h-.8zM407.8 27.5h.8v.8h-.8zM402.5 29.1h.8v.8h-.8zM408.4 29.6h.8v.8h-.8zM403.8 33.8h.8v.8h-.8zM402.7 36.3h.8v.8h-.8zM408.5 38.9h.8v.8h-.8zM400.1 22.7h.8v.8h-.8zM414.2 52.2h.8v.8h-.8zM408.1 45.1h.8v.8h-.8zM411.1 41.3h.8v.8h-.8zM407.4 31.9h.8v.8h-.8zM402.8 34.2h.8v.8h-.8zM400.9 39.8h.8v.8h-.8zM407.0 38.6h.8v.8h-.8zM404.3 20.4h.8v.8h-.8zM411.0 41.5h.8v.8h-.8zM397.4 18.9h.8v.8h-.8zM409.6 43.7h.8v.8h-.8zM397.6 38.2h.8v.8h-.8zM403.8 34.0h.8v.8h-.8zM406.5 47.0h.8v.8h-.8zM409.8 36.4h.8v.8h-.8zM410.3 47.8h.8v.8h-.8zM407.7 33.3h.8v.8h-.8zM405.4 31.4h.8v.8h-.8zM405.8 36.0h.8v.8h-.8zM400.7 31.1h.8v.8h-.8zM406.7 48.5h.8v.8h-.8zM404.3 27.1h.8v.8h-.8zM409.8 42.6h.8v.8h-.8zM398.8 24.1h.8v.8h-.8zM411.0 40.8h.8v.8h-.8zM410.2 34.1h.8v.8h-.8zM405.3 34.9h.8v.8h-.8zM413.7 25.7h.8v.8h-.8zM394.9 31.1h.8v.8h-.8zM412.9 48.4h.8v.8h-.8zM411.1 25.2h.8v.8h-.8zM411.4 25.7h.8v.8h-.8zM412.3 47.6h.8v.8h-.8zM403.4 36.0h.8v.8h-.8zM406.8 48.5h.8v.8h-.8zM414.4 37.8h.8v.8h-.8zM412.7 27.3h.8v.8h-.8zM410.8 34.4h.8v.8h-.8zM396.1 45.7h.8v.8h-.8zM413.6 43.2h.8v.8h-.8zM418.9 35.0h.8v.8h-.8zM417.6 35.4h.8v.8h-.8zM411.0 34.0h.8v.8h-.8zM395.8 29.9h.8v.8h-.8zM417.0 51.9h.8v.8h-.8zM407.7 35.1h.8v.8h-.8zM412.2 30.8h.8v.8h-.8zM396.3 41.3h.8v.8h-.8zM398.0 40.6h.8v.8h-.8zM403.6 33.8h.8v.8h-.8zM419.8 29.2h.8v.8h-.8zM405.8 35.2h.8v.8h-.8zM411.3 20.4h.8v.8h-.8zM423.9 23.6h.8v.8h-.8zM422.5 42.0h.8v.8h-.8zM408.1 30.8h.8v.8h-.8zM406.9 38.3h.8v.8h-.8zM398.3 45.6h.8v.8h-.8zM403.1 40.7h.8v.8h-.8zM412.6 35.2h.8v.8h-.8zM412.4 53.6h.8v.8h-.8zM409.9 40.8h.8v.8h-.8zM417.5 31.9h.8v.8h-.8zM402.4 41.4h.8v.8h-.8zM408.5 38.6h.8v.8h-.8zM415.2 27.5h.8v.8h-.8zM414.0 35.6h.8v.8h-.8zM418.1 33.6h.8v.8h-.8zM412.4 17.8h.8v.8h-.8zM406.4 33.5h.8v.8h-.8zM412.1 32.5h.8v.8h-.8zM400.5 31.2h.8v.8h-.8zM395.1 20.6h.8v.8h-.8zM413.9 31.9h.8v.8h-.8zM408.5 34.7h.8v.8h-.8zM411.6 35.9h.8v.8h-.8zM394.6 25.1h.8v.8h-.8zM405.9 40.5h.8v.8h-.8zM403.9 24.4h.8v.8h-.8zM401.7 33.0h.8v.8h-.8zM406.2 29.0h.8v.8h-.8zM416.6 30.5h.8v.8h-.8zM412.2 44.4h.8v.8h-.8zM403.9 31.6h.8v.8h-.8zM408.9 32.4h.8v.8h-.8zM415.4 36.9h.8v.8h-.8zM407.9 15.8h.8v.8h-.8zM413.6 27.8h.8v.8h-.8zM414.8 26.2h.8v.8h-.8zM423.5 25.5h.8v.8h-.8zM418.6 27.5h.8v.8h-.8zM411.7 27.7h.8v.8h-.8zM411.6 37.6h.8v.8h-.8zM415.7 27.2h.8v.8h-.8zM404.4 36.1h.8v.8h-.8zM408.7 38.5h.8v.8h-.8zM416.7 28.6h.8v.8h-.8zM425.6 36.1h.8v.8h-.8zM407.6 49.3h.8v.8h-.8zM408.6 37.8h.8v.8h-.8zM410.7 29.4h.8v.8h-.8zM420.4 34.4h.8v.8h-.8zM408.7 27.0h.8v.8h-.8zM421.5 37.4h.8v.8h-.8zM400.8 42.5h.8v.8h-.8zM407.4 27.9h.8v.8h-.8zM407.3 33.2h.8v.8h-.8zM415.7 44.7h.8v.8h-.8zM417.9 30.7h.8v.8h-.8zM396.2 36.6h.8v.8h-.8zM401.2 26.1h.8v.8h-.8zM411.9 27.9h.8v.8h-.8zM403.4 30.6h.8v.8h-.8zM396.1 53.5h.8v.8h-.8zM417.8 31.5h.8v.8h-.8zM413.2 30.5h.8v.8h-.8zM413.2 30.2h.8v.8h-.8zM405.0 33.6h.8v.8h-.8zM417.7 40.6h.8v.8h-.8zM407.0 36.6h.8v.8h-.8zM418.3 52.5h.8v.8h-.8zM401.3 36.8h.8v.8h-.8zM401.7 47.3h.8v.8h-.8zM410.7 37.4h.8v.8h-.8zM403.0 40.1h.8v.8h-.8zM414.7 22.7h.8v.8h-.8zM411.2 33.9h.8v.8h-.8zM401.2 34.4h.8v.8h-.8zM409.6 32.9h.8v.8h-.8zM406.0 16.7h.8v.8h-.8zM416.8 42.5h.8v.8h-.8zM403.6 31.7h.8v.8h-.8zM405.3 31.3h.8v.8h-.8zM419.3 32.8h.8v.8h-.8zM428.0 33.1h.8v.8h-.8zM426.0 38.5h.8v.8h-.8zM409.5 24.2h.8v.8h-.8zM410.9 27.1h.8v.8h-.8zM422.0 37.5h.8v.8h-.8zM407.9 36.2h.8v.8h-.8zM400.7 31.8h.8v.8h-.8zM410.0 30.1h.8v.8h-.8zM412.8 27.9h.8v.8h-.8zM402.0 34.5h.8v.8h-.8zM395.0 45.0h.8v.8h-.8zM396.8 26.0h.8v.8h-.8zM414.7 47.9h.8v.8h-.8zM402.6 42.2h.8v.8h-.8zM407.8 31.1h.8v.8h-.8zM410.8 41.7h.8v.8h-.8zM414.3 22.5h.8v.8h-.8zM406.2 20.3h.8v.8h-.8zM413.2 24.0h.8v.8h-.8zM401.4 31.5h.8v.8h-.8zM405.9 32.2h.8v.8h-.8zM400.3 30.6h.8v.8h-.8zM418.6 35.8h.8v.8h-.8zM408.8 16.9h.8v.8h-.8zM402.7 39.2h.8v.8h-.8zM406.0 22.9h.8v.8h-.8zM407.1 29.4h.8v.8h-.8zM415.0 31.5h.8v.8h-.8zM395.4 25.2h.8v.8h-.8zM400.2 23.3h.8v.8h-.8zM405.8 26.4h.8v.8h-.8zM430.5 34.9h.8v.8h-.8zM417.1 40.0h.8v.8h-.8zM408.1 39.8h.8v.8h-.8zM415.1 26.5h.8v.8h-.8zM426.5 28.3h.8v.8h-.8zM407.0 27.2h.8v.8h-.8zM405.9 38.8h.8v.8h-.8zM419.3 17.7h.8v.8h-.8zM413.2 45.5h.8v.8h-.8zM414.7 30.9h.8v.8h-.8zM404.7 28.3h.8v.8h-.8zM425.4 37.9h.8v.8h-.8zM423.5 43.8h.8v.8h-.8zM413.8 37.9h.8v.8h-.8zM414.8 43.9h.8v.8h-.8zM391.8 36.1h.8v.8h-.8zM414.4 45.5h.8v.8h-.8zM407.4 45.6h.8v.8h-.8zM412.7 34.2h.8v.8h-.8zM414.8 47.2h.8v.8h-.8zM406.1 36.4h.8v.8h-.8zM394.6 35.7h.8v.8h-.8zM412.1 27.2h.8v.8h-.8zM402.7 32.5h.8v.8h-.8zM406.2 41.6h.8v.8h-.8zM403.9 23.8h.8v.8h-.8zM406.1 40.5h.8v.8h-.8zM419.3 37.4h.8v.8h-.8zM411.2 16.2h.8v.8h-.8zM418.4 34.1h.8v.8h-.8zM425.8 40.5h.8v.8h-.8zM409.2 28.5h.8v.8h-.8zM393.7 35.8h.8v.8h-.8zM401.4 14.8h.8v.8h-.8zM398.7 40.7h.8v.8h-.8zM404.7 29.4h.8v.8h-.8zM409.7 42.4h.8v.8h-.8zM392.0 19.3h.8v.8h-.8zM411.9 40.9h.8v.8h-.8zM396.2 33.0h.8v.8h-.8zM411.5 41.9h.8v.8h-.8zM408.1 27.1h.8v.8h-.8zM406.3 29.7h.8v.8h-.8zM408.4 54.1h.8v.8h-.8zM404.4 27.9h.8v.8h-.8zM403.8 29.0h.8v.8h-.8zM394.7 32.6h.8v.8h-.8zM408.7 26.3h.8v.8h-.8zM424.7 45.1h.8v.8h-.8zM425.8 49.7h.8v.8h-.8zM420.2 29.0h.8v.8h-.8zM415.0 20.3h.8v.8h-.8zM403.2 45.0h.8v.8h-.8zM421.3 44.4h.8v.8h-.8zM408.5 42.0h.8v.8h-.8zM408.4 44.8h.8v.8h-.8zM406.5 27.6h.8v.8h-.8zM409.8 33.6h.8v.8h-.8zM405.3 23.2h.8v.8h-.8zM408.3 22.9h.8v.8h-.8zM399.8 43.3h.8v.8h-.8zM405.8 29.3h.8v.8h-.8zM428.4 54.4h.8v.8h-.8zM408.4 35.6h.8v.8h-.8zM407.0 29.6h.8v.8h-.8zM413.5 41.8h.8v.8h-.8zM415.0 50.3h.8v.8h-.8zM399.5 39.1h.8v.8h-.8zM407.2 24.7h.8v.8h-.8zM416.8 38.2h.8v.8h-.8zM411.3 46.7h.8v.8h-.8zM410.0 30.8h.8v.8h-.8zM422.2 28.4h.8v.8h-.8zM403.2 43.6h.8v.8h-.8zM409.7 36.2h.8v.8h-.8zM404.6 25.6h.8v.8h-.8zM421.7 31.8h.8v.8h-.8zM392.4 28.6h.8v.8h-.8zM403.3 37.5h.8v.8h-.8zM404.5 35.9h.8v.8h-.8zM414.6 44.8h.8v.8h-.8zM414.2 41.0h.8v.8h-.8zM420.9 21.7h.8v.8h-.8zM395.6 38.5h.8v.8h-.8zM415.4 42.6h.8v.8h-.8zM406.5 38.9h.8v.8h-.8zM403.3 43.8h.8v.8h-.8zM413.6 30.3h.8v.8h-.8zM401.2 26.9h.8v.8h-.8zM405.9 25.9h.8v.8h-.8zM396.3 16.6h.8v.8h-.8zM403.5 43.7h.8v.8h-.8zM412.2 28.8h.8v.8h-.8zM411.7 32.4h.8v.8h-.8zM422.5 23.1h.8v.8h-.8zM407.3 23.7h.8v.8h-.8zM396.0 25.2h.8v.8h-.8zM402.6 31.9h.8v.8h-.8zM401.2 38.1h.8v.8h-.8zM398.6 15.5h.8v.8h-.8zM412.7 41.4h.8v.8h-.8zM403.5 25.0h.8v.8h-.8zM392.2 25.9h.8v.8h-.8zM414.9 40.8h.8v.8h-.8zM408.1 34.4h.8v.8h-.8zM412.0 21.9h.8v.8h-.8zM409.9 50.7h.8v.8h-.8zM414.4 27.7h.8v.8h-.8zM409.3 37.1h.8v.8h-.8zM419.5 36.7h.8v.8h-.8zM412.6 47.0h.8v.8h-.8zM412.3 31.1h.8v.8h-.8zM412.5 43.6h.8v.8h-.8zM396.6 28.7h.8v.8h-.8zM407.6 44.5h.8v.8h-.8zM406.8 28.5h.8v.8h-.8zM410.8 31.9h.8v.8h-.8zM397.5 51.1h.8v.8h-.8zM422.9 37.7h.8v.8h-.8zM409.9 35.9h.8v.8h-.8zM398.7 54.1h.8v.8h-.8zM394.5 38.1h.8v.8h-.8zM406.6 28.1h.8v.8h-.8zM408.2 41.2h.8v.8h-.8zM402.9 25.0h.8v.8h-.8zM409.8 44.6h.8v.8h-.8zM403.6 45.3h.8v.8h-.8zM413.7 30.1h.8v.8h-.8zM402.8 29.7h.8v.8h-.8zM408.7 36.5h.8v.8h-.8zM417.3 35.1h.8v.8h-.8zM430.9 26.7h.8v.8h-.8zM400.4 39.8h.8v.8h-.8zM405.1 17.6h.8v.8h-.8zM401.9 31.3h.8v.8h-.8zM415.7 31.6h.8v.8h-.8zM399.2 32.7h.8v.8h-.8zM404.9 37.6h.8v.8h-.8zM408.7 24.6h.8v.8h-.8zM400.7 40.0h.8v.8h-.8zM400.9 33.5h.8v.8h-.8zM405.0 29.5h.8v.8h-.8zM396.7 24.9h.8v.8h-.8zM405.5 38.1h.8v.8h-.8zM410.3 26.8h.8v.8h-.8zM407.4 35.5h.8v.8h-.8zM393.9 44.0h.8v.8h-.8zM405.1 43.8h.8v.8h-.8zM415.8 48.3h.8v.8h-.8zM413.7 32.5h.8v.8h-.8zM408.3 25.8h.8v.8h-.8zM401.5 43.7h.8v.8h-.8zM414.4 37.6h.8v.8h-.8zM404.1 44.6h.8v.8h-.8zM399.1 35.1h.8v.8h-.8zM402.2 45.2h.8v.8h-.8zM421.3 42.2h.8v.8h-.8zM410.9 41.1h.8v.8h-.8zM418.9 39.3h.8v.8h-.8zM404.9 38.4h.8v.8h-.8zM417.0 37.0h.8v.8h-.8zM403.9 36.9h.8v.8h-.8zM407.7 43.4h.8v.8h-.8zM430.1 30.6h.8v.8h-.8zM415.5 49.8h.8v.8h-.8zM404.7 34.1h.8v.8h-.8zM408.3 43.4h.8v.8h-.8zM411.8 34.2h.8v.8h-.8zM419.3 32.9h.8v.8h-.8zM404.8 52.3h.8v.8h-.8zM394.2 32.4h.8v.8h-.8zM406.6 24.1h.8v.8h-.8zM409.1 28.9h.8v.8h-.8zM409.9 32.3h.8v.8h-.8zM420.2 53.3h.8v.8h-.8zM411.7 36.8h.8v.8h-.8zM415.9 42.9h.8v.8h-.8zM399.6 26.5h.8v.8h-.8zM416.4 38.0h.8v.8h-.8zM426.8 40.7h.8v.8h-.8zM415.6 50.3h.8v.8h-.8zM411.2 29.1h.8v.8h-.8zM410.3 40.1h.8v.8h-.8zM424.2 37.6h.8v.8h-.8zM401.1 26.3h.8v.8h-.8zM408.1 34.8h.8v.8h-.8zM412.9 32.8h.8v.8h-.8zM415.3 15.2h.8v.8h-.8zM405.3 40.1h.8v.8h-.8zM411.6 39.6h.8v.8h-.8zM406.6 31.3h.8v.8h-.8zM410.0 23.6h.8v.8h-.8zM407.9 47.6h.8v.8h-.8zM399.3 37.3h.8v.8h-.8zM408.8 43.6h.8v.8h-.8zM416.5 47.0h.8v.8h-.8zM400.8 30.6h.8v.8h-.8zM407.0 41.9h.8v.8h-.8zM414.7 33.0h.8v.8h-.8zM399.9 34.5h.8v.8h-.8zM410.6 34.3h.8v.8h-.8zM400.0 35.0h.8v.8h-.8zM418.6 44.5h.8v.8h-.8zM428.7 36.1h.8v.8h-.8zM426.2 33.7h.8v.8h-.8zM407.1 32.6h.8v.8h-.8zM415.3 37.9h.8v.8h-.8zM410.0 27.4h.8v.8h-.8zM409.9 30.7h.8v.8h-.8zM422.2 34.6h.8v.8h-.8zM397.8 30.2h.8v.8h-.8zM418.0 34.0h.8v.8h-.8zM408.6 29.8h.8v.8h-.8zM421.0 52.0h.8v.8h-.8zM410.6 46.3h.8v.8h-.8zM403.3 38.8h.8v.8h-.8zM411.4 34.5h.8v.8h-.8zM415.3 53.6h.8v.8h-.8zM409.3 37.7h.8v.8h-.8zM413.1 34.3h.8v.8h-.8zM404.6 37.6h.8v.8h-.8zM416.7 47.0h.8v.8h-.8zM414.9 34.8h.8v.8h-.8zM410.3 52.8h.8v.8h-.8zM409.6 27.5h.8v.8h-.8zM417.8 40.9h.8v.8h-.8zM405.1 26.5h.8v.8h-.8zM403.0 50.4h.8v.8h-.8zM407.4 32.2h.8v.8h-.8zM419.1 34.5h.8v.8h-.8zM397.2 42.9h.8v.8h-.8zM419.1 45.7h.8v.8h-.8zM403.6 25.5h.8v.8h-.8zM399.6 32.1h.8v.8h-.8zM419.7 23.1h.8v.8h-.8zM408.2 36.2h.8v.8h-.8zM397.9 34.1h.8v.8h-.8zM406.0 32.0h.8v.8h-.8zM416.9 29.2h.8v.8h-.8zM419.1 31.7h.8v.8h-.8zM405.4 28.7h.8v.8h-.8zM412.5 39.5h.8v.8h-.8zM415.1 47.9h.8v.8h-.8zM403.5 18.6h.8v.8h-.8zM412.0 34.0h.8v.8h-.8zM408.7 31.4h.8v.8h-.8zM404.4 39.2h.8v.8h-.8zM404.8 26.9h.8v.8h-.8zM409.6 33.8h.8v.8h-.8zM409.3 26.2h.8v.8h-.8zM404.2 40.9h.8v.8h-.8zM405.4 35.8h.8v.8h-.8zM418.5 33.6h.8v.8h-.8zM410.8 38.1h.8v.8h-.8zM416.5 32.9h.8v.8h-.8zM419.2 21.8h.8v.8h-.8zM414.0 40.1h.8v.8h-.8zM428.3 37.5h.8v.8h-.8zM402.0 33.7h.8v.8h-.8zM415.9 43.4h.8v.8h-.8zM406.3 45.4h.8v.8h-.8zM424.8 25.7h.8v.8h-.8zM423.5 28.4h.8v.8h-.8zM392.4 48.2h.8v.8h-.8zM400.8 47.1h.8v.8h-.8zM414.6 28.7h.8v.8h-.8zM415.7 25.0h.8v.8h-.8zM415.3 29.6h.8v.8h-.8zM408.4 30.8h.8v.8h-.8zM412.9 21.5h.8v.8h-.8zM414.6 35.3h.8v.8h-.8zM408.3 24.1h.8v.8h-.8zM417.7 24.7h.8v.8h-.8zM414.4 29.2h.8v.8h-.8zM400.2 34.4h.8v.8h-.8zM417.1 40.3h.8v.8h-.8zM407.1 41.9h.8v.8h-.8zM401.4 32.1h.8v.8h-.8zM412.2 35.4h.8v.8h-.8zM401.3 28.0h.8v.8h-.8zM401.2 49.9h.8v.8h-.8zM395.7 40.5h.8v.8h-.8zM408.8 25.6h.8v.8h-.8zM413.2 35.0h.8v.8h-.8zM417.7 41.1h.8v.8h-.8zM407.8 39.1h.8v.8h-.8zM417.9 50.5h.8v.8h-.8zM409.2 46.7h.8v.8h-.8zM408.2 30.4h.8v.8h-.8zM413.9 34.2h.8v.8h-.8zM418.0 24.1h.8v.8h-.8zM406.1 37.1h.8v.8h-.8zM406.9 36.3h.8v.8h-.8zM409.7 35.8h.8v.8h-.8zM401.3 17.2h.8v.8h-.8zM417.7 29.3h.8v.8h-.8zM405.6 36.0h.8v.8h-.8zM412.9 24.3h.8v.8h-.8zM402.0 27.6h.8v.8h-.8zM413.2 32.6h.8v.8h-.8zM416.7 33.4h.8v.8h-.8zM414.2 33.1h.8v.8h-.8zM410.6 32.6h.8v.8h-.8zM418.9 38.4h.8v.8h-.8zM412.3 32.7h.8v.8h-.8zM412.5 34.7h.8v.8h-.8zM408.1 33.1h.8v.8h-.8zM411.1 39.9h.8v.8h-.8zM418.3 19.6h.8v.8h-.8zM406.9 37.1h.8v.8h-.8zM414.6 28.6h.8v.8h-.8zM418.6 28.5h.8v.8h-.8zM413.1 24.7h.8v.8h-.8zM416.2 19.7h.8v.8h-.8zM409.4 27.9h.8v.8h-.8zM421.6 26.2h.8v.8h-.8zM420.5 32.7h.8v.8h-.8zM416.2 21.9h.8v.8h-.8zM406.2 37.9h.8v.8h-.8zM409.8 31.5h.8v.8h-.8zM419.9 28.6h.8v.8h-.8zM423.6 26.1h.8v.8h-.8zM416.5 25.7h.8v.8h-.8zM421.2 23.8h.8v.8h-.8zM412.0 27.0h.8v.8h-.8zM414.1 30.0h.8v.8h-.8zM415.0 29.0h.8v.8h-.8zM417.1 22.2h.8v.8h-.8zM407.4 28.5h.8v.8h-.8zM419.7 25.1h.8v.8h-.8zM421.6 30.9h.8v.8h-.8zM409.3 40.3h.8v.8h-.8zM408.2 33.4h.8v.8h-.8zM416.8 28.3h.8v.8h-.8zM411.7 21.1h.8v.8h-.8zM403.1 22.2h.8v.8h-.8zM419.0 20.7h.8v.8h-.8zM415.8 34.0h.8v.8h-.8zM412.6 25.8h.8v.8h-.8zM425.6 30.3h.8v.8h-.8zM415.7 26.6h.8v.8h-.8zM411.2 30.5h.8v.8h-.8zM415.5 37.7h.8v.8h-.8zM409.8 26.2h.8v.8h-.8zM411.2 28.1h.8v.8h-.8zM416.9 25.6h.8v.8h-.8zM412.2 34.8h.8v.8h-.8zM412.7 24.4h.8v.8h-.8zM423.3 23.8h.8v.8h-.8zM419.3 22.4h.8v.8h-.8zM419.0 22.3h.8v.8h-.8zM417.6 32.6h.8v.8h-.8zM417.4 44.1h.8v.8h-.8zM422.3 24.5h.8v.8h-.8zM414.9 35.2h.8v.8h-.8zM424.3 31.4h.8v.8h-.8zM410.2 23.9h.8v.8h-.8zM413.7 28.5h.8v.8h-.8zM408.1 28.7h.8v.8h-.8zM413.3 26.2h.8v.8h-.8zM417.6 40.6h.8v.8h-.8zM422.3 19.5h.8v.8h-.8zM411.7 32.1h.8v.8h-.8zM415.0 31.8h.8v.8h-.8zM413.2 26.8h.8v.8h-.8zM411.3 30.8h.8v.8h-.8zM409.1 34.8h.8v.8h-.8zM415.3 30.8h.8v.8h-.8zM406.3 32.3h.8v.8h-.8zM415.6 33.8h.8v.8h-.8zM415.1 18.8h.8v.8h-.8zM411.7 38.1h.8v.8h-.8zM409.9 42.5h.8v.8h-.8zM408.1 35.4h.8v.8h-.8zM424.4 35.6h.8v.8h-.8zM408.3 22.3h.8v.8h-.8zM422.8 29.3h.8v.8h-.8zM418.0 25.5h.8v.8h-.8zM413.2 26.8h.8v.8h-.8zM409.2 35.3h.8v.8h-.8zM420.2 25.6h.8v.8h-.8zM423.6 29.3h.8v.8h-.8zM410.3 19.5h.8v.8h-.8zM413.5 29.1h.8v.8h-.8zM420.3 30.5h.8v.8h-.8zM416.7 26.1h.8v.8h-.8zM425.0 26.0h.8v.8h-.8zM412.1 40.4h.8v.8h-.8zM417.7 23.3h.8v.8h-.8zM408.7 24.2h.8v.8h-.8zM425.5 25.6h.8v.8h-.8zM411.3 36.6h.8v.8h-.8zM404.0 41.6h.8v.8h-.8zM414.4 31.8h.8v.8h-.8zM414.3 26.1h.8v.8h-.8zM424.6 27.6h.8v.8h-.8zM413.3 35.9h.8v.8h-.8zM414.9 25.0h.8v.8h-.8zM418.0 38.0h.8v.8h-.8zM422.9 37.8h.8v.8h-.8zM414.7 30.4h.8v.8h-.8zM420.2 33.6h.8v.8h-.8zM417.6 34.1h.8v.8h-.8zM413.5 38.5h.8v.8h-.8zM415.4 24.2h.8v.8h-.8zM415.1 36.5h.8v.8h-.8zM410.4 27.9h.8v.8h-.8zM421.1 25.8h.8v.8h-.8zM408.1 30.6h.8v.8h-.8zM420.9 28.8h.8v.8h-.8zM419.8 24.6h.8v.8h-.8zM414.5 21.2h.8v.8h-.8zM411.2 24.8h.8v.8h-.8zM413.9 38.0h.8v.8h-.8zM417.4 40.8h.8v.8h-.8zM418.7 33.6h.8v.8h-.8zM416.4 36.5h.8v.8h-.8zM420.0 27.2h.8v.8h-.8zM412.2 29.6h.8v.8h-.8zM416.2 31.6h.8v.8h-.8zM407.2 24.1h.8v.8h-.8zM418.8 24.6h.8v.8h-.8zM415.8 30.5h.8v.8h-.8zM412.9 28.2h.8v.8h-.8zM420.8 24.2h.8v.8h-.8zM418.5 32.1h.8v.8h-.8zM400.9 28.6h.8v.8h-.8zM415.2 35.6h.8v.8h-.8zM407.7 30.0h.8v.8h-.8zM420.3 28.3h.8v.8h-.8zM427.4 30.7h.8v.8h-.8zM412.4 29.1h.8v.8h-.8zM415.4 26.3h.8v.8h-.8zM413.7 27.8h.8v.8h-.8zM416.8 34.1h.8v.8h-.8zM418.2 33.6h.8v.8h-.8zM421.4 37.1h.8v.8h-.8zM410.1 20.7h.8v.8h-.8zM422.9 27.8h.8v.8h-.8zM410.3 27.7h.8v.8h-.8zM416.4 30.9h.8v.8h-.8zM420.8 27.5h.8v.8h-.8zM418.6 27.2h.8v.8h-.8zM410.3 34.3h.8v.8h-.8zM411.5 31.0h.8v.8h-.8zM412.7 23.6h.8v.8h-.8zM414.7 37.3h.8v.8h-.8zM420.7 35.5h.8v.8h-.8zM408.5 26.8h.8v.8h-.8zM425.4 33.9h.8v.8h-.8zM416.6 43.0h.8v.8h-.8zM425.9 46.9h.8v.8h-.8zM418.4 47.2h.8v.8h-.8zM429.1 23.7h.8v.8h-.8zM427.9 48.3h.8v.8h-.8zM393.7 37.7h.8v.8h-.8zM402.7 41.7h.8v.8h-.8zM407.6 49.1h.8v.8h-.8zM402.1 31.2h.8v.8h-.8zM399.1 51.8h.8v.8h-.8zM426.9 50.3h.8v.8h-.8zM393.0 47.3h.8v.8h-.8zM399.3 30.2h.8v.8h-.8zM422.4 36.1h.8v.8h-.8zM400.9 21.9h.8v.8h-.8zM402.3 45.4h.8v.8h-.8zM430.7 50.6h.8v.8h-.8zM422.5 21.4h.8v.8h-.8zM409.9 44.8h.8v.8h-.8zM397.4 42.8h.8v.8h-.8zM402.8 16.5h.8v.8h-.8zM431.2 51.7h.8v.8h-.8zM423.6 34.2h.8v.8h-.8zM394.8 25.8h.8v.8h-.8zM420.3 16.2h.8v.8h-.8zM407.0 46.3h.8v.8h-.8zM420.8 28.5h.8v.8h-.8zM403.8 35.5h.8v.8h-.8zM397.2 22.8h.8v.8h-.8zM392.8 39.3h.8v.8h-.8zM403.8 30.9h.8v.8h-.8zM426.4 47.3h.8v.8h-.8zM427.6 41.7h.8v.8h-.8zM419.3 43.9h.8v.8h-.8zM421.9 25.0h.8v.8h-.8zM399.8 17.6h.8v.8h-.8zM406.2 50.2h.8v.8h-.8zM428.0 52.4h.8v.8h-.8zM431.5 40.7h.8v.8h-.8zM409.7 51.9h.8v.8h-.8zM423.0 43.3h.8v.8h-.8zM429.3 39.2h.8v.8h-.8zM431.9 31.8h.8v.8h-.8zM403.8 29.2h.8v.8h-.8zM418.2 34.6h.8v.8h-.8zM407.6 23.9h.8v.8h-.8zM410.6 32.1h.8v.8h-.8zM410.5 35.3h.8v.8h-.8zM403.1 16.2h.8v.8h-.8zM392.8 30.7h.8v.8h-.8zM422.7 26.4h.8v.8h-.8zM419.8 40.4h.8v.8h-.8zM425.6 47.5h.8v.8h-.8zM398.1 39.6h.8v.8h-.8zM401.5 41.6h.8v.8h-.8zM415.8 39.6h.8v.8h-.8zM429.5 25.2h.8v.8h-.8zM410.9 30.1h.8v.8h-.8zM400.0 48.8h.8v.8h-.8zM415.8 52.8h.8v.8h-.8zM430.3 22.2h.8v.8h-.8zM426.7 15.4h.8v.8h-.8zM428.0 53.5h.8v.8h-.8zM408.4 49.4h.8v.8h-.8zM402.5 39.3h.8v.8h-.8zM426.8 47.7h.8v.8h-.8zM423.5 38.8h.8v.8h-.8zM426.1 51.2h.8v.8h-.8zM407.6 24.7h.8v.8h-.8zM403.4 32.8h.8v.8h-.8zM401.6 41.8h.8v.8h-.8zM426.8 23.6h.8v.8h-.8zM428.8 43.6h.8v.8h-.8zM406.7 25.5h.8v.8h-.8zM427.0 43.4h.8v.8h-.8zM407.3 47.2h.8v.8h-.8zM409.9 32.0h.8v.8h-.8zM414.7 54.6h.8v.8h-.8zM400.9 40.3h.8v.8h-.8zM402.7 45.3h.8v.8h-.8zM402.7 15.8h.8v.8h-.8zM402.4 19.5h.8v.8h-.8zM412.6 43.5h.8v.8h-.8zM396.0 52.7h.8v.8h-.8zM423.2 40.1h.8v.8h-.8zM399.0 51.5h.8v.8h-.8zM409.8 17.4h.8v.8h-.8zM417.7 50.7h.8v.8h-.8zM397.5 50.1h.8v.8h-.8zM408.4 40.2h.8v.8h-.8zM414.5 32.2h.8v.8h-.8zM414.0 43.2h.8v.8h-.8zM427.7 24.8h.8v.8h-.8zM423.4 41.7h.8v.8h-.8zM396.8 42.8h.8v.8h-.8zM425.3 36.6h.8v.8h-.8zM414.0 25.4h.8v.8h-.8zM419.1 15.1h.8v.8h-.8zM398.4 22.8h.8v.8h-.8z"/>
<rect x="391" y="13.7" width="42.1" height="41.6" fill="none" stroke="#888" stroke-width="0.4"/>
<line x1="407.2" y1="13.7" x2="407.2" y2="55.3" stroke="#555" stroke-width="0.6"/>
<line x1="391" y1="39.4" x2="433.1" y2="39.4" stroke="#555" stroke-width="0.6"/>
<line x1="389.8" y1="17" x2="391" y2="17" stroke="#888" stroke-width="0.4"/>
<line x1="395" y1="55.3" x2="395" y2="56.5" stroke="#888" stroke-width="0.4"/>
<line x1="389.8" y1="24" x2="391" y2="24" stroke="#888" stroke-width="0.4"/>
<line x1="402" y1="55.3" x2="402" y2="56.5" stroke="#888" stroke-width="0.4"/>
<line x1="389.8" y1="31" x2="391" y2="31" stroke="#888" stroke-width="0.4"/>
<line x1="409" y1="55.3" x2="409" y2="56.5" stroke="#888" stroke-width="0.4"/>
<line x1="389.8" y1="38" x2="391" y2="38" stroke="#888" stroke-width="0.4"/>
<line x1="416" y1="55.3" x2="416" y2="56.5" stroke="#888" stroke-width="0.4"/>
<line x1="389.8" y1="45" x2="391" y2="45" stroke="#888" stroke-width="0.4"/>
<line x1="423" y1="55.3" x2="423" y2="56.5" stroke="#888" stroke-width="0.4"/>
<line x1="389.8" y1="52" x2="391" y2="52" stroke="#888" stroke-width="0.4"/>
<line x1="430" y1="55.3" x2="430" y2="56.5" stroke="#888" stroke-width="0.4"/>
<text x="0" y="0" font-size="5.6" text-anchor="start" fill="#111" transform="translate(393.9 19.8) scale(0.93 1)" class="n">CM</text>
<text x="0" y="0" font-size="5.6" text-anchor="start" fill="#111" transform="translate(412.9 19.8) scale(0.93 1)" class="n">Naïve</text>
<text x="0" y="0" font-size="5.6" text-anchor="start" fill="#111" transform="translate(393.9 54.3) scale(0.93 1)" class="n">EM</text>
<text x="0" y="0" font-size="5.6" text-anchor="start" fill="#111" transform="translate(412.9 54.3) scale(0.93 1)" class="n">TemRA</text>
<text x="387.0" y="54.3" font-size="4.6" text-anchor="start" fill="#222" transform="rotate(-90 387.0 54.3)">CCR7</text>
<line x1="388.3" y1="54.5" x2="388.3" y2="33.5" stroke="#333" stroke-width="0.5"/>
<path d="M387,34 L388.3,31.3 L389.6,34 Z" fill="#333"/>
<text x="391.2" y="63.6" font-size="4.6" text-anchor="start" fill="#222">CD45RA</text>
<line x1="391" y1="57.6" x2="411" y2="57.6" stroke="#333" stroke-width="0.5"/>
<path d="M410.5,56.3 L413.3,57.6 L410.5,58.9 Z" fill="#333"/>
<rect x="386.70" y="73.30" width="6.00" height="3.20" fill="#f6ee00"/>
<text x="0" y="0" font-size="6.9" text-anchor="start" fill="#111" transform="translate(398.6 77.4) scale(0.91 1)" class="n">TemRA</text>
<rect x="386.70" y="83.30" width="6.00" height="3.20" fill="#0000c0"/>
<text x="0" y="0" font-size="6.9" text-anchor="start" fill="#111" transform="translate(396.7 87.4) scale(0.91 1)" class="n">Central memory</text>
<rect x="386.70" y="92.00" width="6.00" height="3.20" fill="#33c833"/>
<text x="0" y="0" font-size="6.9" text-anchor="start" fill="#111" transform="translate(395.5 96.1) scale(0.91 1)" class="n">Effector memory</text>
<rect x="386.70" y="101.90" width="6.00" height="3.20" fill="#a9b5d6"/>
<text x="0" y="0" font-size="6.9" text-anchor="start" fill="#111" transform="translate(400 106.0) scale(0.91 1)" class="n">Naïve</text>
<text x="-0.2" y="150.5" font-size="15.8" text-anchor="start" fill="#111">D</text>
<text x="0" y="0" font-size="7" text-anchor="middle" fill="#111" transform="translate(37 156) scale(0.93 1)" class="s">Pre-infusion</text>
<text x="0" y="0" font-size="7" text-anchor="middle" fill="#111" transform="translate(80.6 156) scale(0.93 1)" class="s">Blood</text>
<text x="0" y="0" font-size="7" text-anchor="middle" fill="#111" transform="translate(126 153.2) scale(0.93 1)" class="s">Bone</text>
<text x="0" y="0" font-size="7" text-anchor="middle" fill="#111" transform="translate(126 160.5) scale(0.93 1)" class="s">marrow</text>
<path d="M36.75,178.3 L36.75,163.10 A15.2,15.2 0 1 1 34.90,193.39 Z" fill="#a9b5d6"/>
<path d="M36.75,178.3 L34.90,193.39 A15.2,15.2 0 0 1 32.56,192.91 Z" fill="#33c833"/>
<path d="M36.75,178.3 L32.56,192.91 A15.2,15.2 0 0 1 34.11,163.33 Z" fill="#0000c0"/>
<path d="M36.75,178.3 L34.11,163.33 A15.2,15.2 0 0 1 36.75,163.10 Z" fill="#a020e0"/>
<path d="M80.5,178 L80.50,162.80 A15.2,15.2 0 0 1 95.18,174.07 Z" fill="#a9b5d6"/>
<path d="M80.5,178 L95.18,174.07 A15.2,15.2 0 1 1 65.31,178.53 Z" fill="#33c833"/>
<path d="M80.5,178 L65.31,178.53 A15.2,15.2 0 0 1 75.80,163.54 Z" fill="#0000c0"/>
<path d="M80.5,178 L75.80,163.54 A15.2,15.2 0 0 1 80.50,162.80 Z" fill="#a020e0"/>
<path d="M125.75,177.9 L125.75,162.60 A15.3,15.3 0 0 1 140.38,182.37 Z" fill="#a9b5d6"/>
<path d="M125.75,177.9 L140.38,182.37 A15.3,15.3 0 0 1 118.80,191.53 Z" fill="#33c833"/>
<path d="M125.75,177.9 L118.80,191.53 A15.3,15.3 0 0 1 114.03,168.07 Z" fill="#0000c0"/>
<path d="M125.75,177.9 L114.03,168.07 A15.3,15.3 0 0 1 125.75,162.60 Z" fill="#a020e0"/>
<rect x="147.40" y="161.15" width="5.60" height="2.30" fill="#a9b5d6"/>
<text x="156.3" y="164.05" font-size="4.9" text-anchor="start" fill="#000" class="s2">Doble negative</text>
<rect x="147.40" y="166.50" width="5.60" height="2.30" fill="#33c833"/>
<text x="156.3" y="169.4" font-size="4.9" text-anchor="start" fill="#000" class="s2">PD1+</text>
<rect x="147.40" y="171.85" width="5.60" height="2.30" fill="#0000c0"/>
<text x="156.3" y="174.75" font-size="4.9" text-anchor="start" fill="#000" class="s2">TIM3+</text>
<rect x="147.40" y="177.20" width="5.60" height="2.30" fill="#a020e0"/>
<text x="156.3" y="180.10000000000002" font-size="4.9" text-anchor="start" fill="#000" class="s2">PD1+ TIM3+</text>
<text x="0" y="0" font-size="7" text-anchor="middle" fill="#111" transform="translate(222.5 156) scale(0.93 1)" class="s">Pre-infusion</text>
<text x="0" y="0" font-size="7" text-anchor="middle" fill="#111" transform="translate(266.5 156) scale(0.93 1)" class="s">Blood</text>
<text x="0" y="0" font-size="7" text-anchor="middle" fill="#111" transform="translate(311.6 153) scale(0.93 1)" class="s">Bone</text>
<text x="0" y="0" font-size="7" text-anchor="middle" fill="#111" transform="translate(311.75 160.2) scale(0.93 1)" class="s">marrow</text>
<path d="M222.3,180 L222.30,163.70 A16.3,16.3 0 0 1 238.48,178.01 Z" fill="#333333"/>
<path d="M222.3,180 L238.48,178.01 A16.3,16.3 0 0 1 234.97,190.26 Z" fill="#a9b5d6"/>
<path d="M222.3,180 L234.97,190.26 A16.3,16.3 0 0 1 229.70,194.52 Z" fill="#0000c0"/>
<path d="M222.3,180 L229.70,194.52 A16.3,16.3 0 0 1 227.07,195.59 Z" fill="#a020e0"/>
<path d="M222.3,180 L227.07,195.59 A16.3,16.3 0 0 1 206.36,183.39 Z" fill="#f6ee00"/>
<path d="M222.3,180 L206.36,183.39 A16.3,16.3 0 0 1 222.30,163.70 Z" fill="#33c833"/>
<circle cx="222.3" cy="180" r="16.3" fill="none" stroke="#777" stroke-width="0.5"/>
<path d="M266.5,179.9 L266.50,163.60 A16.3,16.3 0 0 1 267.35,163.62 Z" fill="#333333"/>
<path d="M266.5,179.9 L267.35,163.62 A16.3,16.3 0 0 1 268.77,163.76 Z" fill="#a9b5d6"/>
<path d="M266.5,179.9 L268.77,163.76 A16.3,16.3 0 0 1 282.64,177.63 Z" fill="#0000c0"/>
<path d="M266.5,179.9 L282.64,177.63 A16.3,16.3 0 0 1 263.67,195.95 Z" fill="#a020e0"/>
<path d="M266.5,179.9 L263.67,195.95 A16.3,16.3 0 0 1 251.85,187.05 Z" fill="#f6ee00"/>
<path d="M266.5,179.9 L251.85,187.05 A16.3,16.3 0 0 1 266.50,163.60 Z" fill="#33c833"/>
<circle cx="266.5" cy="179.9" r="16.3" fill="none" stroke="#777" stroke-width="0.5"/>
<path d="M311.8,180 L311.80,163.80 A16.2,16.2 0 0 1 312.65,163.82 Z" fill="#333333"/>
<path d="M311.8,180 L312.65,163.82 A16.2,16.2 0 0 1 314.33,164.00 Z" fill="#a9b5d6"/>
<path d="M311.8,180 L314.33,164.00 A16.2,16.2 0 0 1 326.71,186.33 Z" fill="#0000c0"/>
<path d="M311.8,180 L326.71,186.33 A16.2,16.2 0 0 1 305.73,195.02 Z" fill="#a020e0"/>
<path d="M311.8,180 L305.73,195.02 A16.2,16.2 0 0 1 296.02,183.64 Z" fill="#f6ee00"/>
<path d="M311.8,180 L296.02,183.64 A16.2,16.2 0 0 1 311.80,163.80 Z" fill="#33c833"/>
<circle cx="311.8" cy="180" r="16.2" fill="none" stroke="#777" stroke-width="0.5"/>
<rect x="332.50" y="160.10" width="5.20" height="2.30" fill="#111"/>
<text x="0" y="0" font-size="4.9" text-anchor="start" fill="#000" transform="translate(340.75 163.0) scale(0.95 1)" class="s2">Triple negative</text>
<rect x="332.50" y="165.75" width="5.20" height="2.30" fill="#a9b5d6"/>
<text x="0" y="0" font-size="4.9" text-anchor="start" fill="#000" transform="translate(340.75 168.65) scale(0.95 1)" class="s2">CD25+</text>
<rect x="332.50" y="171.40" width="5.20" height="2.30" fill="#0000c0"/>
<text x="0" y="0" font-size="4.9" text-anchor="start" fill="#000" transform="translate(340.75 174.3) scale(0.95 1)" class="s2">HLA-DR+</text>
<rect x="332.50" y="177.05" width="5.20" height="2.30" fill="#a020e0"/>
<text x="0" y="0" font-size="4.9" text-anchor="start" fill="#000" transform="translate(340.75 179.95) scale(0.95 1)" class="s2">CD25+ HLADR+</text>
<rect x="332.50" y="182.70" width="5.20" height="2.30" fill="#f6ee00"/>
<text x="0" y="0" font-size="4.9" text-anchor="start" fill="#000" transform="translate(340.75 185.6) scale(0.95 1)" class="s2">CD69+ HLADR+</text>
<rect x="332.50" y="188.35" width="5.20" height="2.30" fill="#33c833"/>
<text x="0" y="0" font-size="4.9" text-anchor="start" fill="#000" transform="translate(340.75 191.25) scale(0.95 1)" class="s2">Triple positive</text>
<line x1="403.7" y1="146.6" x2="403.7" y2="197.1" stroke="#333" stroke-width="0.55"/>
<line x1="403.7" y1="197.1" x2="435.3" y2="197.1" stroke="#333" stroke-width="0.55"/>
<line x1="402.2" y1="197.1" x2="403.7" y2="197.1" stroke="#444" stroke-width="0.4"/>
<text x="401.6" y="198.4" font-size="3.9" text-anchor="end" fill="#111">0</text>
<line x1="402.2" y1="182.86666666666667" x2="403.7" y2="182.86666666666667" stroke="#444" stroke-width="0.4"/>
<text x="401.6" y="184.16666666666669" font-size="3.9" text-anchor="end" fill="#111">20</text>
<line x1="402.2" y1="168.63333333333333" x2="403.7" y2="168.63333333333333" stroke="#444" stroke-width="0.4"/>
<text x="401.6" y="169.93333333333334" font-size="3.9" text-anchor="end" fill="#111">40</text>
<line x1="402.2" y1="154.4" x2="403.7" y2="154.4" stroke="#444" stroke-width="0.4"/>
<text x="401.6" y="155.70000000000002" font-size="3.9" text-anchor="end" fill="#111">60</text>
<rect x="407.00" y="179.31" width="7.30" height="17.79" fill="#a8a8a8"/>
<line x1="410.65" y1="179.30833333333334" x2="410.65" y2="176.46166666666667" stroke="#777" stroke-width="0.5"/>
<line x1="409.15" y1="176.46166666666667" x2="412.15" y2="176.46166666666667" stroke="#777" stroke-width="0.5"/>
<line x1="410.65" y1="197.1" x2="410.65" y2="198.6" stroke="#444" stroke-width="0.4"/>
<rect x="416.50" y="172.90" width="7.30" height="24.20" fill="#a8a8a8"/>
<line x1="420.15" y1="172.90333333333334" x2="420.15" y2="160.805" stroke="#777" stroke-width="0.5"/>
<line x1="418.65" y1="160.805" x2="421.65" y2="160.805" stroke="#777" stroke-width="0.5"/>
<line x1="420.15" y1="197.1" x2="420.15" y2="198.6" stroke="#444" stroke-width="0.4"/>
<rect x="427.00" y="160.45" width="7.20" height="36.65" fill="#a8a8a8"/>
<line x1="430.6" y1="160.44916666666666" x2="430.6" y2="152.9766666666667" stroke="#777" stroke-width="0.5"/>
<line x1="429.1" y1="152.9766666666667" x2="432.1" y2="152.9766666666667" stroke="#777" stroke-width="0.5"/>
<line x1="430.6" y1="197.1" x2="430.6" y2="198.6" stroke="#444" stroke-width="0.4"/>
<line x1="410.5" y1="149.3" x2="431" y2="149.3" stroke="#444" stroke-width="0.6"/>
<text x="420.7" y="149" font-size="4.5" text-anchor="middle" fill="#111">*</text>
<text x="391.8" y="173.5" font-size="5.0" text-anchor="middle" fill="#111" transform="rotate(-90 391.8 173.5)">%GZMB cells</text>
<text x="411.6" y="201.5" font-size="3.8" text-anchor="end" fill="#111" transform="rotate(-45 411.6 201.5)">Pre-infusion</text>
<text x="421.1" y="201.5" font-size="3.8" text-anchor="end" fill="#111" transform="rotate(-45 421.1 201.5)">Blood</text>
<text x="431.6" y="201.5" font-size="3.8" text-anchor="end" fill="#111" transform="rotate(-45 431.6 201.5)">BM</text>
<text x="-0.3" y="224.5" font-size="15.8" text-anchor="start" fill="#111">E</text>
<text x="72" y="222.4" font-size="9" text-anchor="middle" fill="#111">CD4+</text>
<text x="142.4" y="222.4" font-size="9" text-anchor="middle" fill="#111">CD8+</text>
<text x="29.9" y="229.10000000000002" font-size="5.1" text-anchor="end" fill="#000" class="s2">CD25</text>
<text x="29.9" y="239.98600000000002" font-size="5.1" text-anchor="end" fill="#000" class="s2">CD69</text>
<text x="29.9" y="250.872" font-size="5.1" text-anchor="end" fill="#000" class="s2">GZMB</text>
<text x="29.9" y="261.75800000000004" font-size="5.1" text-anchor="end" fill="#000" class="s2">FOXP3</text>
<text x="29.9" y="272.644" font-size="5.1" text-anchor="end" fill="#000" class="s2">CD127</text>
<text x="29.9" y="283.53000000000003" font-size="5.1" text-anchor="end" fill="#000" class="s2">PD1</text>
<text x="29.9" y="294.416" font-size="5.1" text-anchor="end" fill="#000" class="s2">TIM3</text>
<text x="29.9" y="305.302" font-size="5.1" text-anchor="end" fill="#000" class="s2">HLA-DR</text>
<text x="13.2" y="315.9" font-size="5.1" text-anchor="start" fill="#000" class="s2">Cluster</text>
<rect x="33.00" y="224.70" width="11.33" height="10.94" fill="#311010"/>
<rect x="43.93" y="224.70" width="11.33" height="10.94" fill="#2f1010"/>
<rect x="54.86" y="224.70" width="11.33" height="10.94" fill="#2f1010"/>
<rect x="65.79" y="224.70" width="11.33" height="10.94" fill="#2f1010"/>
<rect x="76.71" y="224.70" width="11.33" height="10.94" fill="#1d0808"/>
<rect x="87.64" y="224.70" width="11.33" height="10.94" fill="#2f1010"/>
<rect x="98.57" y="224.70" width="10.93" height="10.94" fill="#2f1010"/>
<rect x="33.00" y="235.24" width="11.33" height="10.94" fill="#3c1313"/>
<rect x="43.93" y="235.24" width="11.33" height="10.94" fill="#184c18"/>
<rect x="54.86" y="235.24" width="11.33" height="10.94" fill="#184c18"/>
<rect x="65.79" y="235.24" width="11.33" height="10.94" fill="#184c18"/>
<rect x="76.71" y="235.24" width="11.33" height="10.94" fill="#184c18"/>
<rect x="87.64" y="235.24" width="11.33" height="10.94" fill="#7a2222"/>
<rect x="98.57" y="235.24" width="10.93" height="10.94" fill="#1b511b"/>
<rect x="33.00" y="245.77" width="11.33" height="10.94" fill="#163e16"/>
<rect x="43.93" y="245.77" width="11.33" height="10.94" fill="#113111"/>
<rect x="54.86" y="245.77" width="11.33" height="10.94" fill="#113111"/>
<rect x="65.79" y="245.77" width="11.33" height="10.94" fill="#288828"/>
<rect x="76.71" y="245.77" width="11.33" height="10.94" fill="#491313"/>
<rect x="87.64" y="245.77" width="11.33" height="10.94" fill="#1a4c1a"/>
<rect x="98.57" y="245.77" width="10.93" height="10.94" fill="#0b160b"/>
<rect x="33.00" y="256.31" width="11.33" height="10.94" fill="#0f2d0f"/>
<rect x="43.93" y="256.31" width="11.33" height="10.94" fill="#103110"/>
<rect x="54.86" y="256.31" width="11.33" height="10.94" fill="#103110"/>
<rect x="65.79" y="256.31" width="11.33" height="10.94" fill="#0c230c"/>
<rect x="76.71" y="256.31" width="11.33" height="10.94" fill="#e04040"/>
<rect x="87.64" y="256.31" width="11.33" height="10.94" fill="#081608"/>
<rect x="98.57" y="256.31" width="10.93" height="10.94" fill="#112f11"/>
<rect x="33.00" y="266.85" width="11.33" height="10.94" fill="#8a2a2a"/>
<rect x="43.93" y="266.85" width="11.33" height="10.94" fill="#8a2a2a"/>
<rect x="54.86" y="266.85" width="11.33" height="10.94" fill="#9a3030"/>
<rect x="65.79" y="266.85" width="11.33" height="10.94" fill="#163e16"/>
<rect x="76.71" y="266.85" width="11.33" height="10.94" fill="#000000"/>
<rect x="87.64" y="266.85" width="11.33" height="10.94" fill="#163e16"/>
<rect x="98.57" y="266.85" width="10.93" height="10.94" fill="#163e16"/>
<rect x="33.00" y="277.39" width="11.33" height="10.94" fill="#220c0c"/>
<rect x="43.93" y="277.39" width="11.33" height="10.94" fill="#2f0e0e"/>
<rect x="54.86" y="277.39" width="11.33" height="10.94" fill="#0c1a0c"/>
<rect x="65.79" y="277.39" width="11.33" height="10.94" fill="#163e16"/>
<rect x="76.71" y="277.39" width="11.33" height="10.94" fill="#a03030"/>
<rect x="87.64" y="277.39" width="11.33" height="10.94" fill="#113111"/>
<rect x="98.57" y="277.39" width="10.93" height="10.94" fill="#561919"/>
<rect x="33.00" y="287.93" width="11.33" height="10.94" fill="#1b5f1b"/>
<rect x="43.93" y="287.93" width="11.33" height="10.94" fill="#1b5f1b"/>
<rect x="54.86" y="287.93" width="11.33" height="10.94" fill="#1b5a1b"/>
<rect x="65.79" y="287.93" width="11.33" height="10.94" fill="#113511"/>
<rect x="76.71" y="287.93" width="11.33" height="10.94" fill="#d04040"/>
<rect x="87.64" y="287.93" width="11.33" height="10.94" fill="#081108"/>
<rect x="98.57" y="287.93" width="10.93" height="10.94" fill="#081108"/>
<rect x="33.00" y="298.46" width="11.33" height="10.54" fill="#2f0e0e"/>
<rect x="43.93" y="298.46" width="11.33" height="10.54" fill="#2f0e0e"/>
<rect x="54.86" y="298.46" width="11.33" height="10.54" fill="#36a336"/>
<rect x="65.79" y="298.46" width="11.33" height="10.54" fill="#0c230c"/>
<rect x="76.71" y="298.46" width="11.33" height="10.54" fill="#36b036"/>
<rect x="87.64" y="298.46" width="11.33" height="10.54" fill="#2f0e0e"/>
<rect x="98.57" y="298.46" width="10.93" height="10.54" fill="#491414"/>
<text x="38.06428571428572" y="316.2" font-size="5.1" text-anchor="middle" fill="#000" class="s2">1</text>
<text x="48.99285714285714" y="316.2" font-size="5.1" text-anchor="middle" fill="#000" class="s2">2</text>
<text x="59.92142857142857" y="316.2" font-size="5.1" text-anchor="middle" fill="#000" class="s2">3</text>
<text x="70.85" y="316.2" font-size="5.1" text-anchor="middle" fill="#000" class="s2">4</text>
<text x="81.77857142857142" y="316.2" font-size="5.1" text-anchor="middle" fill="#000" class="s2">5</text>
<text x="92.70714285714286" y="316.2" font-size="5.1" text-anchor="middle" fill="#000" class="s2">6</text>
<text x="103.63571428571429" y="316.2" font-size="5.1" text-anchor="middle" fill="#000" class="s2">7</text>
<rect x="114.00" y="224.70" width="11.76" height="10.94" fill="#163116"/>
<rect x="125.36" y="224.70" width="11.76" height="10.94" fill="#8a2525"/>
<rect x="136.72" y="224.70" width="11.76" height="10.94" fill="#36b036"/>
<rect x="148.08" y="224.70" width="11.76" height="10.94" fill="#2faa2f"/>
<rect x="159.44" y="224.70" width="11.36" height="10.94" fill="#163116"/>
<rect x="114.00" y="235.24" width="11.76" height="10.94" fill="#163e16"/>
<rect x="125.36" y="235.24" width="11.76" height="10.94" fill="#b03535"/>
<rect x="136.72" y="235.24" width="11.76" height="10.94" fill="#163e16"/>
<rect x="148.08" y="235.24" width="11.76" height="10.94" fill="#8a2828"/>
<rect x="159.44" y="235.24" width="11.36" height="10.94" fill="#c83a3a"/>
<rect x="114.00" y="245.77" width="11.76" height="10.94" fill="#164c16"/>
<rect x="125.36" y="245.77" width="11.76" height="10.94" fill="#d84040"/>
<rect x="136.72" y="245.77" width="11.76" height="10.94" fill="#c83a3a"/>
<rect x="148.08" y="245.77" width="11.76" height="10.94" fill="#c83a3a"/>
<rect x="159.44" y="245.77" width="11.36" height="10.94" fill="#0c230c"/>
<rect x="114.00" y="256.31" width="11.76" height="10.94" fill="#0d1f0d"/>
<rect x="125.36" y="256.31" width="11.76" height="10.94" fill="#3c1010"/>
<rect x="136.72" y="256.31" width="11.76" height="10.94" fill="#0b1b0b"/>
<rect x="148.08" y="256.31" width="11.76" height="10.94" fill="#0b160b"/>
<rect x="159.44" y="256.31" width="11.36" height="10.94" fill="#0d1f0d"/>
<rect x="114.00" y="266.85" width="11.76" height="10.94" fill="#163e16"/>
<rect x="125.36" y="266.85" width="11.76" height="10.94" fill="#163e16"/>
<rect x="136.72" y="266.85" width="11.76" height="10.94" fill="#102f10"/>
<rect x="148.08" y="266.85" width="11.76" height="10.94" fill="#163e16"/>
<rect x="159.44" y="266.85" width="11.36" height="10.94" fill="#163e16"/>
<rect x="114.00" y="277.39" width="11.76" height="10.94" fill="#1b511b"/>
<rect x="125.36" y="277.39" width="11.76" height="10.94" fill="#164c16"/>
<rect x="136.72" y="277.39" width="11.76" height="10.94" fill="#000000"/>
<rect x="148.08" y="277.39" width="11.76" height="10.94" fill="#164c16"/>
<rect x="159.44" y="277.39" width="11.36" height="10.94" fill="#1f6c1f"/>
<rect x="114.00" y="287.93" width="11.76" height="10.94" fill="#3c1010"/>
<rect x="125.36" y="287.93" width="11.76" height="10.94" fill="#103110"/>
<rect x="136.72" y="287.93" width="11.76" height="10.94" fill="#1a0808"/>
<rect x="148.08" y="287.93" width="11.76" height="10.94" fill="#0c1b0c"/>
<rect x="159.44" y="287.93" width="11.36" height="10.94" fill="#7a2525"/>
<rect x="114.00" y="298.46" width="11.76" height="10.54" fill="#0c1b0c"/>
<rect x="125.36" y="298.46" width="11.76" height="10.54" fill="#3c1010"/>
<rect x="136.72" y="298.46" width="11.76" height="10.54" fill="#8a2a2a"/>
<rect x="148.08" y="298.46" width="11.76" height="10.54" fill="#561919"/>
<rect x="159.44" y="298.46" width="11.36" height="10.54" fill="#150808"/>
<text x="119.68" y="316.2" font-size="5.1" text-anchor="middle" fill="#000" class="s2">8</text>
<text x="131.04000000000002" y="316.2" font-size="5.1" text-anchor="middle" fill="#000" class="s2">9</text>
<text x="142.4" y="316.2" font-size="5.1" text-anchor="middle" fill="#000" class="s2">10</text>
<text x="153.76000000000002" y="316.2" font-size="5.1" text-anchor="middle" fill="#000" class="s2">11</text>
<text x="165.12" y="316.2" font-size="5.1" text-anchor="middle" fill="#000" class="s2">12</text>
<defs><linearGradient id="cb" x1="0" y1="0" x2="0" y2="1"><stop offset="0" stop-color="#e03535"/><stop offset="0.5" stop-color="#000"/><stop offset="1" stop-color="#38d838"/></linearGradient></defs>
<rect x="176.3" y="224.5" width="5.7" height="84" fill="url(#cb)"/>
<text x="184.2" y="236" font-size="4.2" text-anchor="middle" fill="#333" transform="rotate(90 184.2 236)">1</text>
<text x="184.2" y="260.5" font-size="4.2" text-anchor="middle" fill="#333" transform="rotate(90 184.2 260.5)">0</text>
<text x="184.2" y="285" font-size="4.2" text-anchor="middle" fill="#333" transform="rotate(90 184.2 285)">-1</text>
<text x="187.9" y="262.8" font-size="6.5" text-anchor="middle" fill="#222" transform="rotate(90 187.9 262.8)">z-score</text>
<line x1="218.5" y1="237.8" x2="218.5" y2="288.5" stroke="#333" stroke-width="0.55"/>
<line x1="218.5" y1="288.5" x2="252.6" y2="288.5" stroke="#333" stroke-width="0.55"/>
<line x1="217.0" y1="288.5" x2="218.5" y2="288.5" stroke="#555" stroke-width="0.4"/>
<text x="216.5" y="289.9" font-size="3.9" text-anchor="end" fill="#111">0</text>
<line x1="217.0" y1="271.6" x2="218.5" y2="271.6" stroke="#555" stroke-width="0.4"/>
<text x="216.5" y="273.0" font-size="3.9" text-anchor="end" fill="#111">1</text>
<line x1="217.0" y1="254.70000000000002" x2="218.5" y2="254.70000000000002" stroke="#555" stroke-width="0.4"/>
<text x="216.5" y="256.1" font-size="3.9" text-anchor="end" fill="#111">2</text>
<line x1="217.0" y1="237.8" x2="218.5" y2="237.8" stroke="#555" stroke-width="0.4"/>
<text x="216.5" y="239.20000000000002" font-size="3.9" text-anchor="end" fill="#111">3</text>
<rect x="221.60" y="287.65" width="6.60" height="0.84" fill="#a9b5d6"/>
<line x1="224.89999999999998" y1="288.5" x2="224.89999999999998" y2="290.0" stroke="#555" stroke-width="0.4"/>
<text x="225.79999999999998" y="293.7" font-size="3.9" text-anchor="end" fill="#111" transform="rotate(-45 225.79999999999998 293.7)">Pre-infusion</text>
<rect x="232.00" y="280.89" width="6.60" height="7.60" fill="#a9b5d6"/>
<line x1="235.3" y1="288.5" x2="235.3" y2="290.0" stroke="#555" stroke-width="0.4"/>
<text x="236.20000000000002" y="293.7" font-size="3.9" text-anchor="end" fill="#111" transform="rotate(-45 236.20000000000002 293.7)">Blood</text>
<rect x="242.00" y="245.07" width="6.60" height="43.43" fill="#a9b5d6"/>
<line x1="245.3" y1="288.5" x2="245.3" y2="290.0" stroke="#555" stroke-width="0.4"/>
<text x="246.20000000000002" y="293.7" font-size="3.9" text-anchor="end" fill="#111" transform="rotate(-45 246.20000000000002 293.7)">Bone marrow</text>
<text x="0" y="0" font-size="6.5" text-anchor="middle" fill="#111" transform="translate(208.5 263.65) rotate(-90) scale(0.92 1)" class="s2">%Cluster 5</text>
<line x1="282.8" y1="239.3" x2="282.8" y2="289" stroke="#333" stroke-width="0.55"/>
<line x1="282.8" y1="289" x2="316.5" y2="289" stroke="#333" stroke-width="0.55"/>
<line x1="281.3" y1="289.0" x2="282.8" y2="289.0" stroke="#555" stroke-width="0.4"/>
<text x="280.8" y="290.4" font-size="3.9" text-anchor="end" fill="#111">0</text>
<line x1="281.3" y1="272.43333333333334" x2="282.8" y2="272.43333333333334" stroke="#555" stroke-width="0.4"/>
<text x="280.8" y="273.8333333333333" font-size="3.9" text-anchor="end" fill="#111">2</text>
<line x1="281.3" y1="255.86666666666667" x2="282.8" y2="255.86666666666667" stroke="#555" stroke-width="0.4"/>
<text x="280.8" y="257.26666666666665" font-size="3.9" text-anchor="end" fill="#111">4</text>
<line x1="281.3" y1="239.3" x2="282.8" y2="239.3" stroke="#555" stroke-width="0.4"/>
<text x="280.8" y="240.70000000000002" font-size="3.9" text-anchor="end" fill="#111">6</text>
<rect x="286.60" y="244.27" width="6.20" height="44.73" fill="#a9b5d6"/>
<line x1="289.70000000000005" y1="289" x2="289.70000000000005" y2="290.5" stroke="#555" stroke-width="0.4"/>
<text x="290.6" y="294.2" font-size="3.9" text-anchor="end" fill="#111" transform="rotate(-45 290.6 294.2)">Pre-infusion</text>
<rect x="296.10" y="277.82" width="6.60" height="11.18" fill="#a9b5d6"/>
<line x1="299.4" y1="289" x2="299.4" y2="290.5" stroke="#555" stroke-width="0.4"/>
<text x="300.29999999999995" y="294.2" font-size="3.9" text-anchor="end" fill="#111" transform="rotate(-45 300.29999999999995 294.2)">Blood</text>
<rect x="306.00" y="280.30" width="6.70" height="8.70" fill="#a9b5d6"/>
<line x1="309.35" y1="289" x2="309.35" y2="290.5" stroke="#555" stroke-width="0.4"/>
<text x="310.25" y="294.2" font-size="3.9" text-anchor="end" fill="#111" transform="rotate(-45 310.25 294.2)">Bone marrow</text>
<text x="0" y="0" font-size="6.5" text-anchor="middle" fill="#111" transform="translate(272.2 264.65) rotate(-90) scale(0.92 1)" class="s2">%Cluster 9</text>
<line x1="339.9" y1="238.2" x2="339.9" y2="289.1" stroke="#333" stroke-width="0.55"/>
<line x1="339.9" y1="289.1" x2="373" y2="289.1" stroke="#333" stroke-width="0.55"/>
<line x1="338.4" y1="289.1" x2="339.9" y2="289.1" stroke="#555" stroke-width="0.4"/>
<text x="337.9" y="290.5" font-size="3.9" text-anchor="end" fill="#111">0</text>
<line x1="338.4" y1="276.375" x2="339.9" y2="276.375" stroke="#555" stroke-width="0.4"/>
<text x="337.9" y="277.775" font-size="3.9" text-anchor="end" fill="#111">20</text>
<line x1="338.4" y1="263.65" x2="339.9" y2="263.65" stroke="#555" stroke-width="0.4"/>
<text x="337.9" y="265.04999999999995" font-size="3.9" text-anchor="end" fill="#111">40</text>
<line x1="338.4" y1="250.925" x2="339.9" y2="250.925" stroke="#555" stroke-width="0.4"/>
<text x="337.9" y="252.32500000000002" font-size="3.9" text-anchor="end" fill="#111">60</text>
<line x1="338.4" y1="238.2" x2="339.9" y2="238.2" stroke="#555" stroke-width="0.4"/>
<text x="337.9" y="239.6" font-size="3.9" text-anchor="end" fill="#111">80</text>
<rect x="343.20" y="282.10" width="6.70" height="7.00" fill="#a9b5d6"/>
<line x1="346.54999999999995" y1="289.1" x2="346.54999999999995" y2="290.6" stroke="#555" stroke-width="0.4"/>
<text x="347.44999999999993" y="294.3" font-size="3.9" text-anchor="end" fill="#111" transform="rotate(-45 347.44999999999993 294.3)">Pre-infusion</text>
<rect x="353.20" y="254.11" width="6.60" height="34.99" fill="#a9b5d6"/>
<line x1="356.5" y1="289.1" x2="356.5" y2="290.6" stroke="#555" stroke-width="0.4"/>
<text x="357.4" y="294.3" font-size="3.9" text-anchor="end" fill="#111" transform="rotate(-45 357.4 294.3)">Blood</text>
<rect x="363.40" y="247.74" width="7.10" height="41.36" fill="#a9b5d6"/>
<line x1="366.95" y1="289.1" x2="366.95" y2="290.6" stroke="#555" stroke-width="0.4"/>
<text x="367.84999999999997" y="294.3" font-size="3.9" text-anchor="end" fill="#111" transform="rotate(-45 367.84999999999997 294.3)">Bone marrow</text>
<text x="0" y="0" font-size="6.5" text-anchor="middle" fill="#111" transform="translate(329.7 264.15) rotate(-90) scale(0.92 1)" class="s2">%Cluster 10</text>
<line x1="402.3" y1="238.2" x2="402.3" y2="289.2" stroke="#333" stroke-width="0.55"/>
<line x1="402.3" y1="289.2" x2="436" y2="289.2" stroke="#333" stroke-width="0.55"/>
<line x1="400.8" y1="289.2" x2="402.3" y2="289.2" stroke="#555" stroke-width="0.4"/>
<text x="400.3" y="290.59999999999997" font-size="3.9" text-anchor="end" fill="#111">0</text>
<line x1="400.8" y1="279.0" x2="402.3" y2="279.0" stroke="#555" stroke-width="0.4"/>
<text x="400.3" y="280.4" font-size="3.9" text-anchor="end" fill="#111">10</text>
<line x1="400.8" y1="268.8" x2="402.3" y2="268.8" stroke="#555" stroke-width="0.4"/>
<text x="400.3" y="270.2" font-size="3.9" text-anchor="end" fill="#111">20</text>
<line x1="400.8" y1="258.59999999999997" x2="402.3" y2="258.59999999999997" stroke="#555" stroke-width="0.4"/>
<text x="400.3" y="259.99999999999994" font-size="3.9" text-anchor="end" fill="#111">30</text>
<line x1="400.8" y1="248.39999999999998" x2="402.3" y2="248.39999999999998" stroke="#555" stroke-width="0.4"/>
<text x="400.3" y="249.79999999999998" font-size="3.9" text-anchor="end" fill="#111">40</text>
<line x1="400.8" y1="238.2" x2="402.3" y2="238.2" stroke="#555" stroke-width="0.4"/>
<text x="400.3" y="239.6" font-size="3.9" text-anchor="end" fill="#111">50</text>
<rect x="406.00" y="266.76" width="6.70" height="22.44" fill="#a9b5d6"/>
<line x1="409.35" y1="289.2" x2="409.35" y2="290.7" stroke="#555" stroke-width="0.4"/>
<text x="410.25" y="294.4" font-size="3.9" text-anchor="end" fill="#111" transform="rotate(-45 410.25 294.4)">Pre-infusion</text>
<rect x="416.50" y="246.36" width="6.60" height="42.84" fill="#a9b5d6"/>
<line x1="419.8" y1="289.2" x2="419.8" y2="290.7" stroke="#555" stroke-width="0.4"/>
<text x="420.7" y="294.4" font-size="3.9" text-anchor="end" fill="#111" transform="rotate(-45 420.7 294.4)">Blood</text>
<rect x="426.70" y="255.54" width="6.60" height="33.66" fill="#a9b5d6"/>
<line x1="430.0" y1="289.2" x2="430.0" y2="290.7" stroke="#555" stroke-width="0.4"/>
<text x="430.9" y="294.4" font-size="3.9" text-anchor="end" fill="#111" transform="rotate(-45 430.9 294.4)">Bone marrow</text>
<text x="0" y="0" font-size="6.5" text-anchor="middle" fill="#111" transform="translate(392.5 264.2) rotate(-90) scale(0.92 1)" class="s2">%Cluster 11</text>
</g>
<use href="#all" filter="url(#bl)" opacity="0.3"/>
</svg>
</body></html>
